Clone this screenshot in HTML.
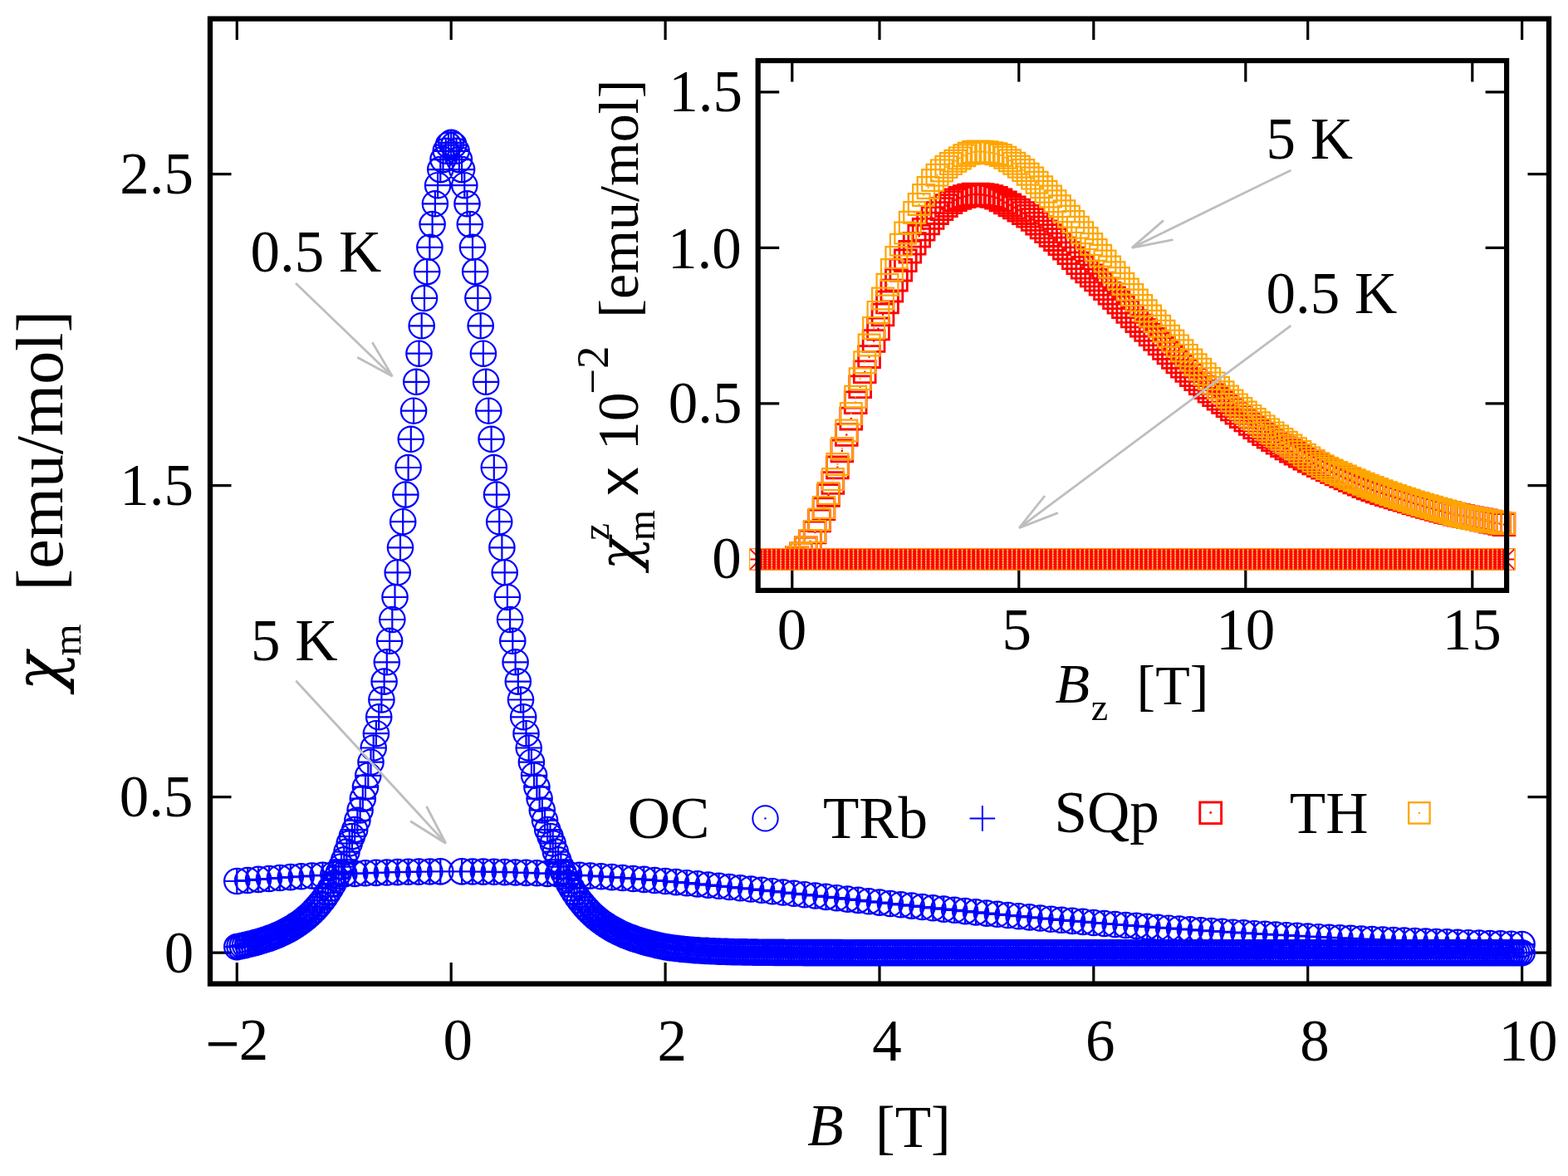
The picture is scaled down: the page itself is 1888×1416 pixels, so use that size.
<!DOCTYPE html>
<html><head><meta charset="utf-8"><title>chi_m vs B</title>
<style>html,body{margin:0;padding:0;background:#fff;overflow:hidden;}svg{display:block;}</style>
</head><body>
<svg width="1888" height="1416" viewBox="0 0 1888 1416">
<rect width="1888" height="1416" fill="#fff"/>
<path fill="none" stroke="#000" stroke-width="3.2" d="M285.3 1184.6V1159.1M285.3 22.6V48.1M543.2 1184.6V1159.1M543.2 22.6V48.1M801.1 1184.6V1159.1M801.1 22.6V48.1M1059 1184.6V1159.1M1059 22.6V48.1M1316.8 1184.6V1159.1M1316.8 22.6V48.1M1574.7 1184.6V1159.1M1574.7 22.6V48.1M1832.6 1184.6V1159.1M1832.6 22.6V48.1M253 1147.2H278.5M1865 1147.2H1839.5M253 959.7H278.5M1865 959.7H1839.5M253 584.7H278.5M1865 584.7H1839.5M253 209.7H278.5M1865 209.7H1839.5"/>
<g fill="none" stroke="#0000ff" stroke-width="2.2">
<path d="M270.1 1140.1a15.2 15.2 0 1 0 30.4 0a15.2 15.2 0 1 0 -30.4 0M273.3 1139.5a15.2 15.2 0 1 0 30.4 0a15.2 15.2 0 1 0 -30.4 0M276.6 1138.8a15.2 15.2 0 1 0 30.4 0a15.2 15.2 0 1 0 -30.4 0M279.8 1138.1a15.2 15.2 0 1 0 30.4 0a15.2 15.2 0 1 0 -30.4 0M283 1137.3a15.2 15.2 0 1 0 30.4 0a15.2 15.2 0 1 0 -30.4 0M286.2 1136.5a15.2 15.2 0 1 0 30.4 0a15.2 15.2 0 1 0 -30.4 0M289.5 1135.7a15.2 15.2 0 1 0 30.4 0a15.2 15.2 0 1 0 -30.4 0M292.7 1134.9a15.2 15.2 0 1 0 30.4 0a15.2 15.2 0 1 0 -30.4 0M295.9 1134a15.2 15.2 0 1 0 30.4 0a15.2 15.2 0 1 0 -30.4 0M299.1 1133a15.2 15.2 0 1 0 30.4 0a15.2 15.2 0 1 0 -30.4 0M302.4 1132a15.2 15.2 0 1 0 30.4 0a15.2 15.2 0 1 0 -30.4 0M305.6 1131a15.2 15.2 0 1 0 30.4 0a15.2 15.2 0 1 0 -30.4 0M308.8 1129.9a15.2 15.2 0 1 0 30.4 0a15.2 15.2 0 1 0 -30.4 0M312 1128.7a15.2 15.2 0 1 0 30.4 0a15.2 15.2 0 1 0 -30.4 0M315.2 1127.5a15.2 15.2 0 1 0 30.4 0a15.2 15.2 0 1 0 -30.4 0M318.5 1126.1a15.2 15.2 0 1 0 30.4 0a15.2 15.2 0 1 0 -30.4 0M321.7 1124.7a15.2 15.2 0 1 0 30.4 0a15.2 15.2 0 1 0 -30.4 0M324.9 1123.2a15.2 15.2 0 1 0 30.4 0a15.2 15.2 0 1 0 -30.4 0M328.1 1121.6a15.2 15.2 0 1 0 30.4 0a15.2 15.2 0 1 0 -30.4 0M331.4 1119.9a15.2 15.2 0 1 0 30.4 0a15.2 15.2 0 1 0 -30.4 0M334.6 1118.1a15.2 15.2 0 1 0 30.4 0a15.2 15.2 0 1 0 -30.4 0M337.8 1116.2a15.2 15.2 0 1 0 30.4 0a15.2 15.2 0 1 0 -30.4 0M341 1114.1a15.2 15.2 0 1 0 30.4 0a15.2 15.2 0 1 0 -30.4 0M344.3 1112a15.2 15.2 0 1 0 30.4 0a15.2 15.2 0 1 0 -30.4 0M347.5 1109.7a15.2 15.2 0 1 0 30.4 0a15.2 15.2 0 1 0 -30.4 0M350.7 1107.3a15.2 15.2 0 1 0 30.4 0a15.2 15.2 0 1 0 -30.4 0M353.9 1104.6a15.2 15.2 0 1 0 30.4 0a15.2 15.2 0 1 0 -30.4 0M357.2 1101.7a15.2 15.2 0 1 0 30.4 0a15.2 15.2 0 1 0 -30.4 0M360.4 1098.7a15.2 15.2 0 1 0 30.4 0a15.2 15.2 0 1 0 -30.4 0M363.6 1095.4a15.2 15.2 0 1 0 30.4 0a15.2 15.2 0 1 0 -30.4 0M366.8 1091.9a15.2 15.2 0 1 0 30.4 0a15.2 15.2 0 1 0 -30.4 0M370 1088.1a15.2 15.2 0 1 0 30.4 0a15.2 15.2 0 1 0 -30.4 0M373.3 1084a15.2 15.2 0 1 0 30.4 0a15.2 15.2 0 1 0 -30.4 0M376.5 1079.6a15.2 15.2 0 1 0 30.4 0a15.2 15.2 0 1 0 -30.4 0M379.7 1074.8a15.2 15.2 0 1 0 30.4 0a15.2 15.2 0 1 0 -30.4 0M382.9 1069.6a15.2 15.2 0 1 0 30.4 0a15.2 15.2 0 1 0 -30.4 0M386.2 1063.9a15.2 15.2 0 1 0 30.4 0a15.2 15.2 0 1 0 -30.4 0M389.4 1057.8a15.2 15.2 0 1 0 30.4 0a15.2 15.2 0 1 0 -30.4 0M392.6 1051a15.2 15.2 0 1 0 30.4 0a15.2 15.2 0 1 0 -30.4 0M395.8 1043.6a15.2 15.2 0 1 0 30.4 0a15.2 15.2 0 1 0 -30.4 0M399.1 1035.4a15.2 15.2 0 1 0 30.4 0a15.2 15.2 0 1 0 -30.4 0M402.3 1025.6a15.2 15.2 0 1 0 30.4 0a15.2 15.2 0 1 0 -30.4 0M405.5 1015.5a15.2 15.2 0 1 0 30.4 0a15.2 15.2 0 1 0 -30.4 0M408.7 1007.1a15.2 15.2 0 1 0 30.4 0a15.2 15.2 0 1 0 -30.4 0M412 999.1a15.2 15.2 0 1 0 30.4 0a15.2 15.2 0 1 0 -30.4 0M415.2 987.8a15.2 15.2 0 1 0 30.4 0a15.2 15.2 0 1 0 -30.4 0M418.4 975.5a15.2 15.2 0 1 0 30.4 0a15.2 15.2 0 1 0 -30.4 0M421.6 961.6a15.2 15.2 0 1 0 30.4 0a15.2 15.2 0 1 0 -30.4 0M424.8 947.7a15.2 15.2 0 1 0 30.4 0a15.2 15.2 0 1 0 -30.4 0M428.1 933.8a15.2 15.2 0 1 0 30.4 0a15.2 15.2 0 1 0 -30.4 0M431.3 917.7a15.2 15.2 0 1 0 30.4 0a15.2 15.2 0 1 0 -30.4 0M434.5 900.5a15.2 15.2 0 1 0 30.4 0a15.2 15.2 0 1 0 -30.4 0M437.7 883.2a15.2 15.2 0 1 0 30.4 0a15.2 15.2 0 1 0 -30.4 0M441 863.3a15.2 15.2 0 1 0 30.4 0a15.2 15.2 0 1 0 -30.4 0M444.2 842.5a15.2 15.2 0 1 0 30.4 0a15.2 15.2 0 1 0 -30.4 0M447.4 820.6a15.2 15.2 0 1 0 30.4 0a15.2 15.2 0 1 0 -30.4 0M450.6 797.3a15.2 15.2 0 1 0 30.4 0a15.2 15.2 0 1 0 -30.4 0M453.9 771.8a15.2 15.2 0 1 0 30.4 0a15.2 15.2 0 1 0 -30.4 0M457.1 746a15.2 15.2 0 1 0 30.4 0a15.2 15.2 0 1 0 -30.4 0M460.3 719a15.2 15.2 0 1 0 30.4 0a15.2 15.2 0 1 0 -30.4 0M463.5 689.3a15.2 15.2 0 1 0 30.4 0a15.2 15.2 0 1 0 -30.4 0M466.8 659.3a15.2 15.2 0 1 0 30.4 0a15.2 15.2 0 1 0 -30.4 0M470 628.2a15.2 15.2 0 1 0 30.4 0a15.2 15.2 0 1 0 -30.4 0M473.2 595.6a15.2 15.2 0 1 0 30.4 0a15.2 15.2 0 1 0 -30.4 0M476.4 563a15.2 15.2 0 1 0 30.4 0a15.2 15.2 0 1 0 -30.4 0M479.6 528.8a15.2 15.2 0 1 0 30.4 0a15.2 15.2 0 1 0 -30.4 0M482.9 494.7a15.2 15.2 0 1 0 30.4 0a15.2 15.2 0 1 0 -30.4 0M486.1 459.8a15.2 15.2 0 1 0 30.4 0a15.2 15.2 0 1 0 -30.4 0M489.3 425.7a15.2 15.2 0 1 0 30.4 0a15.2 15.2 0 1 0 -30.4 0M492.5 392.3a15.2 15.2 0 1 0 30.4 0a15.2 15.2 0 1 0 -30.4 0M495.8 359a15.2 15.2 0 1 0 30.4 0a15.2 15.2 0 1 0 -30.4 0M499 327.1a15.2 15.2 0 1 0 30.4 0a15.2 15.2 0 1 0 -30.4 0M502.2 297.8a15.2 15.2 0 1 0 30.4 0a15.2 15.2 0 1 0 -30.4 0M505.4 270.1a15.2 15.2 0 1 0 30.4 0a15.2 15.2 0 1 0 -30.4 0M508.7 245.3a15.2 15.2 0 1 0 30.4 0a15.2 15.2 0 1 0 -30.4 0M511.9 223.2a15.2 15.2 0 1 0 30.4 0a15.2 15.2 0 1 0 -30.4 0M515.1 204.1a15.2 15.2 0 1 0 30.4 0a15.2 15.2 0 1 0 -30.4 0M518.3 192.1a15.2 15.2 0 1 0 30.4 0a15.2 15.2 0 1 0 -30.4 0M521.6 181.8a15.2 15.2 0 1 0 30.4 0a15.2 15.2 0 1 0 -30.4 0M524.8 174.6a15.2 15.2 0 1 0 30.4 0a15.2 15.2 0 1 0 -30.4 0M528 171.8a15.2 15.2 0 1 0 30.4 0a15.2 15.2 0 1 0 -30.4 0M531.2 174.6a15.2 15.2 0 1 0 30.4 0a15.2 15.2 0 1 0 -30.4 0M534.4 181.8a15.2 15.2 0 1 0 30.4 0a15.2 15.2 0 1 0 -30.4 0M537.7 192.1a15.2 15.2 0 1 0 30.4 0a15.2 15.2 0 1 0 -30.4 0M540.9 204.1a15.2 15.2 0 1 0 30.4 0a15.2 15.2 0 1 0 -30.4 0M544.1 223.2a15.2 15.2 0 1 0 30.4 0a15.2 15.2 0 1 0 -30.4 0M547.3 245.3a15.2 15.2 0 1 0 30.4 0a15.2 15.2 0 1 0 -30.4 0M550.6 270.1a15.2 15.2 0 1 0 30.4 0a15.2 15.2 0 1 0 -30.4 0M553.8 297.8a15.2 15.2 0 1 0 30.4 0a15.2 15.2 0 1 0 -30.4 0M557 327.1a15.2 15.2 0 1 0 30.4 0a15.2 15.2 0 1 0 -30.4 0M560.2 359a15.2 15.2 0 1 0 30.4 0a15.2 15.2 0 1 0 -30.4 0M563.5 392.3a15.2 15.2 0 1 0 30.4 0a15.2 15.2 0 1 0 -30.4 0M566.7 425.7a15.2 15.2 0 1 0 30.4 0a15.2 15.2 0 1 0 -30.4 0M569.9 459.8a15.2 15.2 0 1 0 30.4 0a15.2 15.2 0 1 0 -30.4 0M573.1 494.7a15.2 15.2 0 1 0 30.4 0a15.2 15.2 0 1 0 -30.4 0M576.4 528.8a15.2 15.2 0 1 0 30.4 0a15.2 15.2 0 1 0 -30.4 0M579.6 563a15.2 15.2 0 1 0 30.4 0a15.2 15.2 0 1 0 -30.4 0M582.8 595.6a15.2 15.2 0 1 0 30.4 0a15.2 15.2 0 1 0 -30.4 0M586 628.2a15.2 15.2 0 1 0 30.4 0a15.2 15.2 0 1 0 -30.4 0M589.2 659.3a15.2 15.2 0 1 0 30.4 0a15.2 15.2 0 1 0 -30.4 0M592.5 689.3a15.2 15.2 0 1 0 30.4 0a15.2 15.2 0 1 0 -30.4 0M595.7 719a15.2 15.2 0 1 0 30.4 0a15.2 15.2 0 1 0 -30.4 0M598.9 746a15.2 15.2 0 1 0 30.4 0a15.2 15.2 0 1 0 -30.4 0M602.1 771.8a15.2 15.2 0 1 0 30.4 0a15.2 15.2 0 1 0 -30.4 0M605.4 797.3a15.2 15.2 0 1 0 30.4 0a15.2 15.2 0 1 0 -30.4 0M608.6 820.6a15.2 15.2 0 1 0 30.4 0a15.2 15.2 0 1 0 -30.4 0M611.8 842.5a15.2 15.2 0 1 0 30.4 0a15.2 15.2 0 1 0 -30.4 0M615 863.3a15.2 15.2 0 1 0 30.4 0a15.2 15.2 0 1 0 -30.4 0M618.3 883.2a15.2 15.2 0 1 0 30.4 0a15.2 15.2 0 1 0 -30.4 0M621.5 900.5a15.2 15.2 0 1 0 30.4 0a15.2 15.2 0 1 0 -30.4 0M624.7 917.7a15.2 15.2 0 1 0 30.4 0a15.2 15.2 0 1 0 -30.4 0M627.9 933.8a15.2 15.2 0 1 0 30.4 0a15.2 15.2 0 1 0 -30.4 0M631.2 947.7a15.2 15.2 0 1 0 30.4 0a15.2 15.2 0 1 0 -30.4 0M634.4 961.6a15.2 15.2 0 1 0 30.4 0a15.2 15.2 0 1 0 -30.4 0M637.6 975.5a15.2 15.2 0 1 0 30.4 0a15.2 15.2 0 1 0 -30.4 0M640.8 987.8a15.2 15.2 0 1 0 30.4 0a15.2 15.2 0 1 0 -30.4 0M644 999.1a15.2 15.2 0 1 0 30.4 0a15.2 15.2 0 1 0 -30.4 0M647.3 1007.1a15.2 15.2 0 1 0 30.4 0a15.2 15.2 0 1 0 -30.4 0M650.5 1015.5a15.2 15.2 0 1 0 30.4 0a15.2 15.2 0 1 0 -30.4 0M653.7 1025.6a15.2 15.2 0 1 0 30.4 0a15.2 15.2 0 1 0 -30.4 0M656.9 1035.4a15.2 15.2 0 1 0 30.4 0a15.2 15.2 0 1 0 -30.4 0M660.2 1043.6a15.2 15.2 0 1 0 30.4 0a15.2 15.2 0 1 0 -30.4 0M663.4 1051a15.2 15.2 0 1 0 30.4 0a15.2 15.2 0 1 0 -30.4 0M666.6 1057.8a15.2 15.2 0 1 0 30.4 0a15.2 15.2 0 1 0 -30.4 0M669.8 1063.9a15.2 15.2 0 1 0 30.4 0a15.2 15.2 0 1 0 -30.4 0M673.1 1069.6a15.2 15.2 0 1 0 30.4 0a15.2 15.2 0 1 0 -30.4 0M676.3 1074.8a15.2 15.2 0 1 0 30.4 0a15.2 15.2 0 1 0 -30.4 0M679.5 1079.6a15.2 15.2 0 1 0 30.4 0a15.2 15.2 0 1 0 -30.4 0M682.7 1084a15.2 15.2 0 1 0 30.4 0a15.2 15.2 0 1 0 -30.4 0M686 1088.1a15.2 15.2 0 1 0 30.4 0a15.2 15.2 0 1 0 -30.4 0M689.2 1091.9a15.2 15.2 0 1 0 30.4 0a15.2 15.2 0 1 0 -30.4 0M692.4 1095.4a15.2 15.2 0 1 0 30.4 0a15.2 15.2 0 1 0 -30.4 0M695.6 1098.7a15.2 15.2 0 1 0 30.4 0a15.2 15.2 0 1 0 -30.4 0M698.8 1101.7a15.2 15.2 0 1 0 30.4 0a15.2 15.2 0 1 0 -30.4 0M702.1 1104.6a15.2 15.2 0 1 0 30.4 0a15.2 15.2 0 1 0 -30.4 0M705.3 1107.3a15.2 15.2 0 1 0 30.4 0a15.2 15.2 0 1 0 -30.4 0M708.5 1109.7a15.2 15.2 0 1 0 30.4 0a15.2 15.2 0 1 0 -30.4 0M711.7 1112a15.2 15.2 0 1 0 30.4 0a15.2 15.2 0 1 0 -30.4 0M715 1114.1a15.2 15.2 0 1 0 30.4 0a15.2 15.2 0 1 0 -30.4 0M718.2 1116.2a15.2 15.2 0 1 0 30.4 0a15.2 15.2 0 1 0 -30.4 0M721.4 1118.1a15.2 15.2 0 1 0 30.4 0a15.2 15.2 0 1 0 -30.4 0M724.6 1119.9a15.2 15.2 0 1 0 30.4 0a15.2 15.2 0 1 0 -30.4 0M727.9 1121.6a15.2 15.2 0 1 0 30.4 0a15.2 15.2 0 1 0 -30.4 0M731.1 1123.2a15.2 15.2 0 1 0 30.4 0a15.2 15.2 0 1 0 -30.4 0M734.3 1124.7a15.2 15.2 0 1 0 30.4 0a15.2 15.2 0 1 0 -30.4 0M737.5 1126.1a15.2 15.2 0 1 0 30.4 0a15.2 15.2 0 1 0 -30.4 0M740.8 1127.5a15.2 15.2 0 1 0 30.4 0a15.2 15.2 0 1 0 -30.4 0M744 1128.7a15.2 15.2 0 1 0 30.4 0a15.2 15.2 0 1 0 -30.4 0M747.2 1129.9a15.2 15.2 0 1 0 30.4 0a15.2 15.2 0 1 0 -30.4 0M750.4 1131a15.2 15.2 0 1 0 30.4 0a15.2 15.2 0 1 0 -30.4 0M753.6 1132a15.2 15.2 0 1 0 30.4 0a15.2 15.2 0 1 0 -30.4 0M756.9 1133a15.2 15.2 0 1 0 30.4 0a15.2 15.2 0 1 0 -30.4 0M760.1 1134a15.2 15.2 0 1 0 30.4 0a15.2 15.2 0 1 0 -30.4 0M763.3 1134.9a15.2 15.2 0 1 0 30.4 0a15.2 15.2 0 1 0 -30.4 0M766.5 1135.7a15.2 15.2 0 1 0 30.4 0a15.2 15.2 0 1 0 -30.4 0M769.8 1136.5a15.2 15.2 0 1 0 30.4 0a15.2 15.2 0 1 0 -30.4 0M773 1137.3a15.2 15.2 0 1 0 30.4 0a15.2 15.2 0 1 0 -30.4 0M776.2 1138.1a15.2 15.2 0 1 0 30.4 0a15.2 15.2 0 1 0 -30.4 0M779.4 1138.8a15.2 15.2 0 1 0 30.4 0a15.2 15.2 0 1 0 -30.4 0M782.7 1139.5a15.2 15.2 0 1 0 30.4 0a15.2 15.2 0 1 0 -30.4 0M785.9 1140.1a15.2 15.2 0 1 0 30.4 0a15.2 15.2 0 1 0 -30.4 0M789.1 1140.6a15.2 15.2 0 1 0 30.4 0a15.2 15.2 0 1 0 -30.4 0M792.3 1141.1a15.2 15.2 0 1 0 30.4 0a15.2 15.2 0 1 0 -30.4 0M795.6 1141.5a15.2 15.2 0 1 0 30.4 0a15.2 15.2 0 1 0 -30.4 0M798.8 1141.9a15.2 15.2 0 1 0 30.4 0a15.2 15.2 0 1 0 -30.4 0M802 1142.3a15.2 15.2 0 1 0 30.4 0a15.2 15.2 0 1 0 -30.4 0M805.2 1142.6a15.2 15.2 0 1 0 30.4 0a15.2 15.2 0 1 0 -30.4 0M808.4 1143a15.2 15.2 0 1 0 30.4 0a15.2 15.2 0 1 0 -30.4 0M811.7 1143.3a15.2 15.2 0 1 0 30.4 0a15.2 15.2 0 1 0 -30.4 0M814.9 1143.5a15.2 15.2 0 1 0 30.4 0a15.2 15.2 0 1 0 -30.4 0M818.1 1143.8a15.2 15.2 0 1 0 30.4 0a15.2 15.2 0 1 0 -30.4 0M821.3 1144.1a15.2 15.2 0 1 0 30.4 0a15.2 15.2 0 1 0 -30.4 0M824.6 1144.3a15.2 15.2 0 1 0 30.4 0a15.2 15.2 0 1 0 -30.4 0M827.8 1144.5a15.2 15.2 0 1 0 30.4 0a15.2 15.2 0 1 0 -30.4 0M831 1144.7a15.2 15.2 0 1 0 30.4 0a15.2 15.2 0 1 0 -30.4 0M834.2 1144.9a15.2 15.2 0 1 0 30.4 0a15.2 15.2 0 1 0 -30.4 0M837.5 1145a15.2 15.2 0 1 0 30.4 0a15.2 15.2 0 1 0 -30.4 0M840.7 1145.2a15.2 15.2 0 1 0 30.4 0a15.2 15.2 0 1 0 -30.4 0M843.9 1145.3a15.2 15.2 0 1 0 30.4 0a15.2 15.2 0 1 0 -30.4 0M847.1 1145.5a15.2 15.2 0 1 0 30.4 0a15.2 15.2 0 1 0 -30.4 0M850.4 1145.6a15.2 15.2 0 1 0 30.4 0a15.2 15.2 0 1 0 -30.4 0M853.6 1145.7a15.2 15.2 0 1 0 30.4 0a15.2 15.2 0 1 0 -30.4 0M856.8 1145.8a15.2 15.2 0 1 0 30.4 0a15.2 15.2 0 1 0 -30.4 0M860 1145.9a15.2 15.2 0 1 0 30.4 0a15.2 15.2 0 1 0 -30.4 0M863.2 1146a15.2 15.2 0 1 0 30.4 0a15.2 15.2 0 1 0 -30.4 0M866.5 1146.1a15.2 15.2 0 1 0 30.4 0a15.2 15.2 0 1 0 -30.4 0M869.7 1146.2a15.2 15.2 0 1 0 30.4 0a15.2 15.2 0 1 0 -30.4 0M872.9 1146.3a15.2 15.2 0 1 0 30.4 0a15.2 15.2 0 1 0 -30.4 0M876.1 1146.3a15.2 15.2 0 1 0 30.4 0a15.2 15.2 0 1 0 -30.4 0M879.4 1146.4a15.2 15.2 0 1 0 30.4 0a15.2 15.2 0 1 0 -30.4 0M882.6 1146.4a15.2 15.2 0 1 0 30.4 0a15.2 15.2 0 1 0 -30.4 0M885.8 1146.5a15.2 15.2 0 1 0 30.4 0a15.2 15.2 0 1 0 -30.4 0M889 1146.5a15.2 15.2 0 1 0 30.4 0a15.2 15.2 0 1 0 -30.4 0M892.3 1146.6a15.2 15.2 0 1 0 30.4 0a15.2 15.2 0 1 0 -30.4 0M895.5 1146.6a15.2 15.2 0 1 0 30.4 0a15.2 15.2 0 1 0 -30.4 0M898.7 1146.7a15.2 15.2 0 1 0 30.4 0a15.2 15.2 0 1 0 -30.4 0M901.9 1146.7a15.2 15.2 0 1 0 30.4 0a15.2 15.2 0 1 0 -30.4 0M905.1 1146.8a15.2 15.2 0 1 0 30.4 0a15.2 15.2 0 1 0 -30.4 0M908.4 1146.8a15.2 15.2 0 1 0 30.4 0a15.2 15.2 0 1 0 -30.4 0M911.6 1146.8a15.2 15.2 0 1 0 30.4 0a15.2 15.2 0 1 0 -30.4 0M914.8 1146.8a15.2 15.2 0 1 0 30.4 0a15.2 15.2 0 1 0 -30.4 0M918 1146.9a15.2 15.2 0 1 0 30.4 0a15.2 15.2 0 1 0 -30.4 0M921.3 1146.9a15.2 15.2 0 1 0 30.4 0a15.2 15.2 0 1 0 -30.4 0M924.5 1146.9a15.2 15.2 0 1 0 30.4 0a15.2 15.2 0 1 0 -30.4 0M927.7 1146.9a15.2 15.2 0 1 0 30.4 0a15.2 15.2 0 1 0 -30.4 0M930.9 1147a15.2 15.2 0 1 0 30.4 0a15.2 15.2 0 1 0 -30.4 0M934.2 1147a15.2 15.2 0 1 0 30.4 0a15.2 15.2 0 1 0 -30.4 0M937.4 1147a15.2 15.2 0 1 0 30.4 0a15.2 15.2 0 1 0 -30.4 0M940.6 1147a15.2 15.2 0 1 0 30.4 0a15.2 15.2 0 1 0 -30.4 0M943.8 1147a15.2 15.2 0 1 0 30.4 0a15.2 15.2 0 1 0 -30.4 0M947.1 1147a15.2 15.2 0 1 0 30.4 0a15.2 15.2 0 1 0 -30.4 0M950.3 1147a15.2 15.2 0 1 0 30.4 0a15.2 15.2 0 1 0 -30.4 0M953.5 1147.1a15.2 15.2 0 1 0 30.4 0a15.2 15.2 0 1 0 -30.4 0M956.7 1147.1a15.2 15.2 0 1 0 30.4 0a15.2 15.2 0 1 0 -30.4 0M959.9 1147.1a15.2 15.2 0 1 0 30.4 0a15.2 15.2 0 1 0 -30.4 0M963.2 1147.1a15.2 15.2 0 1 0 30.4 0a15.2 15.2 0 1 0 -30.4 0M966.4 1147.1a15.2 15.2 0 1 0 30.4 0a15.2 15.2 0 1 0 -30.4 0M969.6 1147.1a15.2 15.2 0 1 0 30.4 0a15.2 15.2 0 1 0 -30.4 0M972.8 1147.1a15.2 15.2 0 1 0 30.4 0a15.2 15.2 0 1 0 -30.4 0M976.1 1147.1a15.2 15.2 0 1 0 30.4 0a15.2 15.2 0 1 0 -30.4 0M979.3 1147.1a15.2 15.2 0 1 0 30.4 0a15.2 15.2 0 1 0 -30.4 0M982.5 1147.1a15.2 15.2 0 1 0 30.4 0a15.2 15.2 0 1 0 -30.4 0M985.7 1147.1a15.2 15.2 0 1 0 30.4 0a15.2 15.2 0 1 0 -30.4 0M989 1147.1a15.2 15.2 0 1 0 30.4 0a15.2 15.2 0 1 0 -30.4 0M992.2 1147.1a15.2 15.2 0 1 0 30.4 0a15.2 15.2 0 1 0 -30.4 0M995.4 1147.1a15.2 15.2 0 1 0 30.4 0a15.2 15.2 0 1 0 -30.4 0M998.6 1147.1a15.2 15.2 0 1 0 30.4 0a15.2 15.2 0 1 0 -30.4 0M1001.9 1147.2a15.2 15.2 0 1 0 30.4 0a15.2 15.2 0 1 0 -30.4 0M1005.1 1147.2a15.2 15.2 0 1 0 30.4 0a15.2 15.2 0 1 0 -30.4 0M1008.3 1147.2a15.2 15.2 0 1 0 30.4 0a15.2 15.2 0 1 0 -30.4 0M1011.5 1147.2a15.2 15.2 0 1 0 30.4 0a15.2 15.2 0 1 0 -30.4 0M1014.7 1147.2a15.2 15.2 0 1 0 30.4 0a15.2 15.2 0 1 0 -30.4 0M1018 1147.2a15.2 15.2 0 1 0 30.4 0a15.2 15.2 0 1 0 -30.4 0M1021.2 1147.2a15.2 15.2 0 1 0 30.4 0a15.2 15.2 0 1 0 -30.4 0M1024.4 1147.2a15.2 15.2 0 1 0 30.4 0a15.2 15.2 0 1 0 -30.4 0M1027.6 1147.2a15.2 15.2 0 1 0 30.4 0a15.2 15.2 0 1 0 -30.4 0M1030.9 1147.2a15.2 15.2 0 1 0 30.4 0a15.2 15.2 0 1 0 -30.4 0M1034.1 1147.2a15.2 15.2 0 1 0 30.4 0a15.2 15.2 0 1 0 -30.4 0M1037.3 1147.2a15.2 15.2 0 1 0 30.4 0a15.2 15.2 0 1 0 -30.4 0M1040.5 1147.2a15.2 15.2 0 1 0 30.4 0a15.2 15.2 0 1 0 -30.4 0M1043.8 1147.2a15.2 15.2 0 1 0 30.4 0a15.2 15.2 0 1 0 -30.4 0M1047 1147.2a15.2 15.2 0 1 0 30.4 0a15.2 15.2 0 1 0 -30.4 0M1050.2 1147.2a15.2 15.2 0 1 0 30.4 0a15.2 15.2 0 1 0 -30.4 0M1053.4 1147.2a15.2 15.2 0 1 0 30.4 0a15.2 15.2 0 1 0 -30.4 0M1056.7 1147.2a15.2 15.2 0 1 0 30.4 0a15.2 15.2 0 1 0 -30.4 0M1059.9 1147.2a15.2 15.2 0 1 0 30.4 0a15.2 15.2 0 1 0 -30.4 0M1063.1 1147.2a15.2 15.2 0 1 0 30.4 0a15.2 15.2 0 1 0 -30.4 0M1066.3 1147.2a15.2 15.2 0 1 0 30.4 0a15.2 15.2 0 1 0 -30.4 0M1069.5 1147.2a15.2 15.2 0 1 0 30.4 0a15.2 15.2 0 1 0 -30.4 0M1072.8 1147.2a15.2 15.2 0 1 0 30.4 0a15.2 15.2 0 1 0 -30.4 0M1076 1147.2a15.2 15.2 0 1 0 30.4 0a15.2 15.2 0 1 0 -30.4 0M1079.2 1147.2a15.2 15.2 0 1 0 30.4 0a15.2 15.2 0 1 0 -30.4 0M1082.4 1147.2a15.2 15.2 0 1 0 30.4 0a15.2 15.2 0 1 0 -30.4 0M1085.7 1147.2a15.2 15.2 0 1 0 30.4 0a15.2 15.2 0 1 0 -30.4 0M1088.9 1147.2a15.2 15.2 0 1 0 30.4 0a15.2 15.2 0 1 0 -30.4 0M1092.1 1147.2a15.2 15.2 0 1 0 30.4 0a15.2 15.2 0 1 0 -30.4 0M1095.3 1147.2a15.2 15.2 0 1 0 30.4 0a15.2 15.2 0 1 0 -30.4 0M1098.6 1147.2a15.2 15.2 0 1 0 30.4 0a15.2 15.2 0 1 0 -30.4 0M1101.8 1147.2a15.2 15.2 0 1 0 30.4 0a15.2 15.2 0 1 0 -30.4 0M1105 1147.2a15.2 15.2 0 1 0 30.4 0a15.2 15.2 0 1 0 -30.4 0M1108.2 1147.2a15.2 15.2 0 1 0 30.4 0a15.2 15.2 0 1 0 -30.4 0M1111.5 1147.2a15.2 15.2 0 1 0 30.4 0a15.2 15.2 0 1 0 -30.4 0M1114.7 1147.2a15.2 15.2 0 1 0 30.4 0a15.2 15.2 0 1 0 -30.4 0M1117.9 1147.2a15.2 15.2 0 1 0 30.4 0a15.2 15.2 0 1 0 -30.4 0M1121.1 1147.2a15.2 15.2 0 1 0 30.4 0a15.2 15.2 0 1 0 -30.4 0M1124.3 1147.2a15.2 15.2 0 1 0 30.4 0a15.2 15.2 0 1 0 -30.4 0M1127.6 1147.2a15.2 15.2 0 1 0 30.4 0a15.2 15.2 0 1 0 -30.4 0M1130.8 1147.2a15.2 15.2 0 1 0 30.4 0a15.2 15.2 0 1 0 -30.4 0M1134 1147.2a15.2 15.2 0 1 0 30.4 0a15.2 15.2 0 1 0 -30.4 0M1137.2 1147.2a15.2 15.2 0 1 0 30.4 0a15.2 15.2 0 1 0 -30.4 0M1140.5 1147.2a15.2 15.2 0 1 0 30.4 0a15.2 15.2 0 1 0 -30.4 0M1143.7 1147.2a15.2 15.2 0 1 0 30.4 0a15.2 15.2 0 1 0 -30.4 0M1146.9 1147.2a15.2 15.2 0 1 0 30.4 0a15.2 15.2 0 1 0 -30.4 0M1150.1 1147.2a15.2 15.2 0 1 0 30.4 0a15.2 15.2 0 1 0 -30.4 0M1153.4 1147.2a15.2 15.2 0 1 0 30.4 0a15.2 15.2 0 1 0 -30.4 0M1156.6 1147.2a15.2 15.2 0 1 0 30.4 0a15.2 15.2 0 1 0 -30.4 0M1159.8 1147.2a15.2 15.2 0 1 0 30.4 0a15.2 15.2 0 1 0 -30.4 0M1163 1147.2a15.2 15.2 0 1 0 30.4 0a15.2 15.2 0 1 0 -30.4 0M1166.3 1147.2a15.2 15.2 0 1 0 30.4 0a15.2 15.2 0 1 0 -30.4 0M1169.5 1147.2a15.2 15.2 0 1 0 30.4 0a15.2 15.2 0 1 0 -30.4 0M1172.7 1147.2a15.2 15.2 0 1 0 30.4 0a15.2 15.2 0 1 0 -30.4 0M1175.9 1147.2a15.2 15.2 0 1 0 30.4 0a15.2 15.2 0 1 0 -30.4 0M1179.1 1147.2a15.2 15.2 0 1 0 30.4 0a15.2 15.2 0 1 0 -30.4 0M1182.4 1147.2a15.2 15.2 0 1 0 30.4 0a15.2 15.2 0 1 0 -30.4 0M1185.6 1147.2a15.2 15.2 0 1 0 30.4 0a15.2 15.2 0 1 0 -30.4 0M1188.8 1147.2a15.2 15.2 0 1 0 30.4 0a15.2 15.2 0 1 0 -30.4 0M1192 1147.2a15.2 15.2 0 1 0 30.4 0a15.2 15.2 0 1 0 -30.4 0M1195.3 1147.2a15.2 15.2 0 1 0 30.4 0a15.2 15.2 0 1 0 -30.4 0M1198.5 1147.2a15.2 15.2 0 1 0 30.4 0a15.2 15.2 0 1 0 -30.4 0M1201.7 1147.2a15.2 15.2 0 1 0 30.4 0a15.2 15.2 0 1 0 -30.4 0M1204.9 1147.2a15.2 15.2 0 1 0 30.4 0a15.2 15.2 0 1 0 -30.4 0M1208.2 1147.2a15.2 15.2 0 1 0 30.4 0a15.2 15.2 0 1 0 -30.4 0M1211.4 1147.2a15.2 15.2 0 1 0 30.4 0a15.2 15.2 0 1 0 -30.4 0M1214.6 1147.2a15.2 15.2 0 1 0 30.4 0a15.2 15.2 0 1 0 -30.4 0M1217.8 1147.2a15.2 15.2 0 1 0 30.4 0a15.2 15.2 0 1 0 -30.4 0M1221.1 1147.2a15.2 15.2 0 1 0 30.4 0a15.2 15.2 0 1 0 -30.4 0M1224.3 1147.2a15.2 15.2 0 1 0 30.4 0a15.2 15.2 0 1 0 -30.4 0M1227.5 1147.2a15.2 15.2 0 1 0 30.4 0a15.2 15.2 0 1 0 -30.4 0M1230.7 1147.2a15.2 15.2 0 1 0 30.4 0a15.2 15.2 0 1 0 -30.4 0M1233.9 1147.2a15.2 15.2 0 1 0 30.4 0a15.2 15.2 0 1 0 -30.4 0M1237.2 1147.2a15.2 15.2 0 1 0 30.4 0a15.2 15.2 0 1 0 -30.4 0M1240.4 1147.2a15.2 15.2 0 1 0 30.4 0a15.2 15.2 0 1 0 -30.4 0M1243.6 1147.2a15.2 15.2 0 1 0 30.4 0a15.2 15.2 0 1 0 -30.4 0M1246.8 1147.2a15.2 15.2 0 1 0 30.4 0a15.2 15.2 0 1 0 -30.4 0M1250.1 1147.2a15.2 15.2 0 1 0 30.4 0a15.2 15.2 0 1 0 -30.4 0M1253.3 1147.2a15.2 15.2 0 1 0 30.4 0a15.2 15.2 0 1 0 -30.4 0M1256.5 1147.2a15.2 15.2 0 1 0 30.4 0a15.2 15.2 0 1 0 -30.4 0M1259.7 1147.2a15.2 15.2 0 1 0 30.4 0a15.2 15.2 0 1 0 -30.4 0M1263 1147.2a15.2 15.2 0 1 0 30.4 0a15.2 15.2 0 1 0 -30.4 0M1266.2 1147.2a15.2 15.2 0 1 0 30.4 0a15.2 15.2 0 1 0 -30.4 0M1269.4 1147.2a15.2 15.2 0 1 0 30.4 0a15.2 15.2 0 1 0 -30.4 0M1272.6 1147.2a15.2 15.2 0 1 0 30.4 0a15.2 15.2 0 1 0 -30.4 0M1275.9 1147.2a15.2 15.2 0 1 0 30.4 0a15.2 15.2 0 1 0 -30.4 0M1279.1 1147.2a15.2 15.2 0 1 0 30.4 0a15.2 15.2 0 1 0 -30.4 0M1282.3 1147.2a15.2 15.2 0 1 0 30.4 0a15.2 15.2 0 1 0 -30.4 0M1285.5 1147.2a15.2 15.2 0 1 0 30.4 0a15.2 15.2 0 1 0 -30.4 0M1288.7 1147.2a15.2 15.2 0 1 0 30.4 0a15.2 15.2 0 1 0 -30.4 0M1292 1147.2a15.2 15.2 0 1 0 30.4 0a15.2 15.2 0 1 0 -30.4 0M1295.2 1147.2a15.2 15.2 0 1 0 30.4 0a15.2 15.2 0 1 0 -30.4 0M1298.4 1147.2a15.2 15.2 0 1 0 30.4 0a15.2 15.2 0 1 0 -30.4 0M1301.6 1147.2a15.2 15.2 0 1 0 30.4 0a15.2 15.2 0 1 0 -30.4 0M1304.9 1147.2a15.2 15.2 0 1 0 30.4 0a15.2 15.2 0 1 0 -30.4 0M1308.1 1147.2a15.2 15.2 0 1 0 30.4 0a15.2 15.2 0 1 0 -30.4 0M1311.3 1147.2a15.2 15.2 0 1 0 30.4 0a15.2 15.2 0 1 0 -30.4 0M1314.5 1147.2a15.2 15.2 0 1 0 30.4 0a15.2 15.2 0 1 0 -30.4 0M1317.8 1147.2a15.2 15.2 0 1 0 30.4 0a15.2 15.2 0 1 0 -30.4 0M1321 1147.2a15.2 15.2 0 1 0 30.4 0a15.2 15.2 0 1 0 -30.4 0M1324.2 1147.2a15.2 15.2 0 1 0 30.4 0a15.2 15.2 0 1 0 -30.4 0M1327.4 1147.2a15.2 15.2 0 1 0 30.4 0a15.2 15.2 0 1 0 -30.4 0M1330.7 1147.2a15.2 15.2 0 1 0 30.4 0a15.2 15.2 0 1 0 -30.4 0M1333.9 1147.2a15.2 15.2 0 1 0 30.4 0a15.2 15.2 0 1 0 -30.4 0M1337.1 1147.2a15.2 15.2 0 1 0 30.4 0a15.2 15.2 0 1 0 -30.4 0M1340.3 1147.2a15.2 15.2 0 1 0 30.4 0a15.2 15.2 0 1 0 -30.4 0M1343.5 1147.2a15.2 15.2 0 1 0 30.4 0a15.2 15.2 0 1 0 -30.4 0M1346.8 1147.2a15.2 15.2 0 1 0 30.4 0a15.2 15.2 0 1 0 -30.4 0M1350 1147.2a15.2 15.2 0 1 0 30.4 0a15.2 15.2 0 1 0 -30.4 0M1353.2 1147.2a15.2 15.2 0 1 0 30.4 0a15.2 15.2 0 1 0 -30.4 0M1356.4 1147.2a15.2 15.2 0 1 0 30.4 0a15.2 15.2 0 1 0 -30.4 0M1359.7 1147.2a15.2 15.2 0 1 0 30.4 0a15.2 15.2 0 1 0 -30.4 0M1362.9 1147.2a15.2 15.2 0 1 0 30.4 0a15.2 15.2 0 1 0 -30.4 0M1366.1 1147.2a15.2 15.2 0 1 0 30.4 0a15.2 15.2 0 1 0 -30.4 0M1369.3 1147.2a15.2 15.2 0 1 0 30.4 0a15.2 15.2 0 1 0 -30.4 0M1372.6 1147.2a15.2 15.2 0 1 0 30.4 0a15.2 15.2 0 1 0 -30.4 0M1375.8 1147.2a15.2 15.2 0 1 0 30.4 0a15.2 15.2 0 1 0 -30.4 0M1379 1147.2a15.2 15.2 0 1 0 30.4 0a15.2 15.2 0 1 0 -30.4 0M1382.2 1147.2a15.2 15.2 0 1 0 30.4 0a15.2 15.2 0 1 0 -30.4 0M1385.5 1147.2a15.2 15.2 0 1 0 30.4 0a15.2 15.2 0 1 0 -30.4 0M1388.7 1147.2a15.2 15.2 0 1 0 30.4 0a15.2 15.2 0 1 0 -30.4 0M1391.9 1147.2a15.2 15.2 0 1 0 30.4 0a15.2 15.2 0 1 0 -30.4 0M1395.1 1147.2a15.2 15.2 0 1 0 30.4 0a15.2 15.2 0 1 0 -30.4 0M1398.3 1147.2a15.2 15.2 0 1 0 30.4 0a15.2 15.2 0 1 0 -30.4 0M1401.6 1147.2a15.2 15.2 0 1 0 30.4 0a15.2 15.2 0 1 0 -30.4 0M1404.8 1147.2a15.2 15.2 0 1 0 30.4 0a15.2 15.2 0 1 0 -30.4 0M1408 1147.2a15.2 15.2 0 1 0 30.4 0a15.2 15.2 0 1 0 -30.4 0M1411.2 1147.2a15.2 15.2 0 1 0 30.4 0a15.2 15.2 0 1 0 -30.4 0M1414.5 1147.2a15.2 15.2 0 1 0 30.4 0a15.2 15.2 0 1 0 -30.4 0M1417.7 1147.2a15.2 15.2 0 1 0 30.4 0a15.2 15.2 0 1 0 -30.4 0M1420.9 1147.2a15.2 15.2 0 1 0 30.4 0a15.2 15.2 0 1 0 -30.4 0M1424.1 1147.2a15.2 15.2 0 1 0 30.4 0a15.2 15.2 0 1 0 -30.4 0M1427.4 1147.2a15.2 15.2 0 1 0 30.4 0a15.2 15.2 0 1 0 -30.4 0M1430.6 1147.2a15.2 15.2 0 1 0 30.4 0a15.2 15.2 0 1 0 -30.4 0M1433.8 1147.2a15.2 15.2 0 1 0 30.4 0a15.2 15.2 0 1 0 -30.4 0M1437 1147.2a15.2 15.2 0 1 0 30.4 0a15.2 15.2 0 1 0 -30.4 0M1440.3 1147.2a15.2 15.2 0 1 0 30.4 0a15.2 15.2 0 1 0 -30.4 0M1443.5 1147.2a15.2 15.2 0 1 0 30.4 0a15.2 15.2 0 1 0 -30.4 0M1446.7 1147.2a15.2 15.2 0 1 0 30.4 0a15.2 15.2 0 1 0 -30.4 0M1449.9 1147.2a15.2 15.2 0 1 0 30.4 0a15.2 15.2 0 1 0 -30.4 0M1453.1 1147.2a15.2 15.2 0 1 0 30.4 0a15.2 15.2 0 1 0 -30.4 0M1456.4 1147.2a15.2 15.2 0 1 0 30.4 0a15.2 15.2 0 1 0 -30.4 0M1459.6 1147.2a15.2 15.2 0 1 0 30.4 0a15.2 15.2 0 1 0 -30.4 0M1462.8 1147.2a15.2 15.2 0 1 0 30.4 0a15.2 15.2 0 1 0 -30.4 0M1466 1147.2a15.2 15.2 0 1 0 30.4 0a15.2 15.2 0 1 0 -30.4 0M1469.3 1147.2a15.2 15.2 0 1 0 30.4 0a15.2 15.2 0 1 0 -30.4 0M1472.5 1147.2a15.2 15.2 0 1 0 30.4 0a15.2 15.2 0 1 0 -30.4 0M1475.7 1147.2a15.2 15.2 0 1 0 30.4 0a15.2 15.2 0 1 0 -30.4 0M1478.9 1147.2a15.2 15.2 0 1 0 30.4 0a15.2 15.2 0 1 0 -30.4 0M1482.2 1147.2a15.2 15.2 0 1 0 30.4 0a15.2 15.2 0 1 0 -30.4 0M1485.4 1147.2a15.2 15.2 0 1 0 30.4 0a15.2 15.2 0 1 0 -30.4 0M1488.6 1147.2a15.2 15.2 0 1 0 30.4 0a15.2 15.2 0 1 0 -30.4 0M1491.8 1147.2a15.2 15.2 0 1 0 30.4 0a15.2 15.2 0 1 0 -30.4 0M1495 1147.2a15.2 15.2 0 1 0 30.4 0a15.2 15.2 0 1 0 -30.4 0M1498.3 1147.2a15.2 15.2 0 1 0 30.4 0a15.2 15.2 0 1 0 -30.4 0M1501.5 1147.2a15.2 15.2 0 1 0 30.4 0a15.2 15.2 0 1 0 -30.4 0M1504.7 1147.2a15.2 15.2 0 1 0 30.4 0a15.2 15.2 0 1 0 -30.4 0M1507.9 1147.2a15.2 15.2 0 1 0 30.4 0a15.2 15.2 0 1 0 -30.4 0M1511.2 1147.2a15.2 15.2 0 1 0 30.4 0a15.2 15.2 0 1 0 -30.4 0M1514.4 1147.2a15.2 15.2 0 1 0 30.4 0a15.2 15.2 0 1 0 -30.4 0M1517.6 1147.2a15.2 15.2 0 1 0 30.4 0a15.2 15.2 0 1 0 -30.4 0M1520.8 1147.2a15.2 15.2 0 1 0 30.4 0a15.2 15.2 0 1 0 -30.4 0M1524.1 1147.2a15.2 15.2 0 1 0 30.4 0a15.2 15.2 0 1 0 -30.4 0M1527.3 1147.2a15.2 15.2 0 1 0 30.4 0a15.2 15.2 0 1 0 -30.4 0M1530.5 1147.2a15.2 15.2 0 1 0 30.4 0a15.2 15.2 0 1 0 -30.4 0M1533.7 1147.2a15.2 15.2 0 1 0 30.4 0a15.2 15.2 0 1 0 -30.4 0M1537 1147.2a15.2 15.2 0 1 0 30.4 0a15.2 15.2 0 1 0 -30.4 0M1540.2 1147.2a15.2 15.2 0 1 0 30.4 0a15.2 15.2 0 1 0 -30.4 0M1543.4 1147.2a15.2 15.2 0 1 0 30.4 0a15.2 15.2 0 1 0 -30.4 0M1546.6 1147.2a15.2 15.2 0 1 0 30.4 0a15.2 15.2 0 1 0 -30.4 0M1549.8 1147.2a15.2 15.2 0 1 0 30.4 0a15.2 15.2 0 1 0 -30.4 0M1553.1 1147.2a15.2 15.2 0 1 0 30.4 0a15.2 15.2 0 1 0 -30.4 0M1556.3 1147.2a15.2 15.2 0 1 0 30.4 0a15.2 15.2 0 1 0 -30.4 0M1559.5 1147.2a15.2 15.2 0 1 0 30.4 0a15.2 15.2 0 1 0 -30.4 0M1562.7 1147.2a15.2 15.2 0 1 0 30.4 0a15.2 15.2 0 1 0 -30.4 0M1566 1147.2a15.2 15.2 0 1 0 30.4 0a15.2 15.2 0 1 0 -30.4 0M1569.2 1147.2a15.2 15.2 0 1 0 30.4 0a15.2 15.2 0 1 0 -30.4 0M1572.4 1147.2a15.2 15.2 0 1 0 30.4 0a15.2 15.2 0 1 0 -30.4 0M1575.6 1147.2a15.2 15.2 0 1 0 30.4 0a15.2 15.2 0 1 0 -30.4 0M1578.9 1147.2a15.2 15.2 0 1 0 30.4 0a15.2 15.2 0 1 0 -30.4 0M1582.1 1147.2a15.2 15.2 0 1 0 30.4 0a15.2 15.2 0 1 0 -30.4 0M1585.3 1147.2a15.2 15.2 0 1 0 30.4 0a15.2 15.2 0 1 0 -30.4 0M1588.5 1147.2a15.2 15.2 0 1 0 30.4 0a15.2 15.2 0 1 0 -30.4 0M1591.8 1147.2a15.2 15.2 0 1 0 30.4 0a15.2 15.2 0 1 0 -30.4 0M1595 1147.2a15.2 15.2 0 1 0 30.4 0a15.2 15.2 0 1 0 -30.4 0M1598.2 1147.2a15.2 15.2 0 1 0 30.4 0a15.2 15.2 0 1 0 -30.4 0M1601.4 1147.2a15.2 15.2 0 1 0 30.4 0a15.2 15.2 0 1 0 -30.4 0M1604.6 1147.2a15.2 15.2 0 1 0 30.4 0a15.2 15.2 0 1 0 -30.4 0M1607.9 1147.2a15.2 15.2 0 1 0 30.4 0a15.2 15.2 0 1 0 -30.4 0M1611.1 1147.2a15.2 15.2 0 1 0 30.4 0a15.2 15.2 0 1 0 -30.4 0M1614.3 1147.2a15.2 15.2 0 1 0 30.4 0a15.2 15.2 0 1 0 -30.4 0M1617.5 1147.2a15.2 15.2 0 1 0 30.4 0a15.2 15.2 0 1 0 -30.4 0M1620.8 1147.2a15.2 15.2 0 1 0 30.4 0a15.2 15.2 0 1 0 -30.4 0M1624 1147.2a15.2 15.2 0 1 0 30.4 0a15.2 15.2 0 1 0 -30.4 0M1627.2 1147.2a15.2 15.2 0 1 0 30.4 0a15.2 15.2 0 1 0 -30.4 0M1630.4 1147.2a15.2 15.2 0 1 0 30.4 0a15.2 15.2 0 1 0 -30.4 0M1633.7 1147.2a15.2 15.2 0 1 0 30.4 0a15.2 15.2 0 1 0 -30.4 0M1636.9 1147.2a15.2 15.2 0 1 0 30.4 0a15.2 15.2 0 1 0 -30.4 0M1640.1 1147.2a15.2 15.2 0 1 0 30.4 0a15.2 15.2 0 1 0 -30.4 0M1643.3 1147.2a15.2 15.2 0 1 0 30.4 0a15.2 15.2 0 1 0 -30.4 0M1646.6 1147.2a15.2 15.2 0 1 0 30.4 0a15.2 15.2 0 1 0 -30.4 0M1649.8 1147.2a15.2 15.2 0 1 0 30.4 0a15.2 15.2 0 1 0 -30.4 0M1653 1147.2a15.2 15.2 0 1 0 30.4 0a15.2 15.2 0 1 0 -30.4 0M1656.2 1147.2a15.2 15.2 0 1 0 30.4 0a15.2 15.2 0 1 0 -30.4 0M1659.4 1147.2a15.2 15.2 0 1 0 30.4 0a15.2 15.2 0 1 0 -30.4 0M1662.7 1147.2a15.2 15.2 0 1 0 30.4 0a15.2 15.2 0 1 0 -30.4 0M1665.9 1147.2a15.2 15.2 0 1 0 30.4 0a15.2 15.2 0 1 0 -30.4 0M1669.1 1147.2a15.2 15.2 0 1 0 30.4 0a15.2 15.2 0 1 0 -30.4 0M1672.3 1147.2a15.2 15.2 0 1 0 30.4 0a15.2 15.2 0 1 0 -30.4 0M1675.6 1147.2a15.2 15.2 0 1 0 30.4 0a15.2 15.2 0 1 0 -30.4 0M1678.8 1147.2a15.2 15.2 0 1 0 30.4 0a15.2 15.2 0 1 0 -30.4 0M1682 1147.2a15.2 15.2 0 1 0 30.4 0a15.2 15.2 0 1 0 -30.4 0M1685.2 1147.2a15.2 15.2 0 1 0 30.4 0a15.2 15.2 0 1 0 -30.4 0M1688.5 1147.2a15.2 15.2 0 1 0 30.4 0a15.2 15.2 0 1 0 -30.4 0M1691.7 1147.2a15.2 15.2 0 1 0 30.4 0a15.2 15.2 0 1 0 -30.4 0M1694.9 1147.2a15.2 15.2 0 1 0 30.4 0a15.2 15.2 0 1 0 -30.4 0M1698.1 1147.2a15.2 15.2 0 1 0 30.4 0a15.2 15.2 0 1 0 -30.4 0M1701.4 1147.2a15.2 15.2 0 1 0 30.4 0a15.2 15.2 0 1 0 -30.4 0M1704.6 1147.2a15.2 15.2 0 1 0 30.4 0a15.2 15.2 0 1 0 -30.4 0M1707.8 1147.2a15.2 15.2 0 1 0 30.4 0a15.2 15.2 0 1 0 -30.4 0M1711 1147.2a15.2 15.2 0 1 0 30.4 0a15.2 15.2 0 1 0 -30.4 0M1714.2 1147.2a15.2 15.2 0 1 0 30.4 0a15.2 15.2 0 1 0 -30.4 0M1717.5 1147.2a15.2 15.2 0 1 0 30.4 0a15.2 15.2 0 1 0 -30.4 0M1720.7 1147.2a15.2 15.2 0 1 0 30.4 0a15.2 15.2 0 1 0 -30.4 0M1723.9 1147.2a15.2 15.2 0 1 0 30.4 0a15.2 15.2 0 1 0 -30.4 0M1727.1 1147.2a15.2 15.2 0 1 0 30.4 0a15.2 15.2 0 1 0 -30.4 0M1730.4 1147.2a15.2 15.2 0 1 0 30.4 0a15.2 15.2 0 1 0 -30.4 0M1733.6 1147.2a15.2 15.2 0 1 0 30.4 0a15.2 15.2 0 1 0 -30.4 0M1736.8 1147.2a15.2 15.2 0 1 0 30.4 0a15.2 15.2 0 1 0 -30.4 0M1740 1147.2a15.2 15.2 0 1 0 30.4 0a15.2 15.2 0 1 0 -30.4 0M1743.3 1147.2a15.2 15.2 0 1 0 30.4 0a15.2 15.2 0 1 0 -30.4 0M1746.5 1147.2a15.2 15.2 0 1 0 30.4 0a15.2 15.2 0 1 0 -30.4 0M1749.7 1147.2a15.2 15.2 0 1 0 30.4 0a15.2 15.2 0 1 0 -30.4 0M1752.9 1147.2a15.2 15.2 0 1 0 30.4 0a15.2 15.2 0 1 0 -30.4 0M1756.2 1147.2a15.2 15.2 0 1 0 30.4 0a15.2 15.2 0 1 0 -30.4 0M1759.4 1147.2a15.2 15.2 0 1 0 30.4 0a15.2 15.2 0 1 0 -30.4 0M1762.6 1147.2a15.2 15.2 0 1 0 30.4 0a15.2 15.2 0 1 0 -30.4 0M1765.8 1147.2a15.2 15.2 0 1 0 30.4 0a15.2 15.2 0 1 0 -30.4 0M1769 1147.2a15.2 15.2 0 1 0 30.4 0a15.2 15.2 0 1 0 -30.4 0M1772.3 1147.2a15.2 15.2 0 1 0 30.4 0a15.2 15.2 0 1 0 -30.4 0M1775.5 1147.2a15.2 15.2 0 1 0 30.4 0a15.2 15.2 0 1 0 -30.4 0M1778.7 1147.2a15.2 15.2 0 1 0 30.4 0a15.2 15.2 0 1 0 -30.4 0M1781.9 1147.2a15.2 15.2 0 1 0 30.4 0a15.2 15.2 0 1 0 -30.4 0M1785.2 1147.2a15.2 15.2 0 1 0 30.4 0a15.2 15.2 0 1 0 -30.4 0M1788.4 1147.2a15.2 15.2 0 1 0 30.4 0a15.2 15.2 0 1 0 -30.4 0M1791.6 1147.2a15.2 15.2 0 1 0 30.4 0a15.2 15.2 0 1 0 -30.4 0M1794.8 1147.2a15.2 15.2 0 1 0 30.4 0a15.2 15.2 0 1 0 -30.4 0M1798.1 1147.2a15.2 15.2 0 1 0 30.4 0a15.2 15.2 0 1 0 -30.4 0M1801.3 1147.2a15.2 15.2 0 1 0 30.4 0a15.2 15.2 0 1 0 -30.4 0M1804.5 1147.2a15.2 15.2 0 1 0 30.4 0a15.2 15.2 0 1 0 -30.4 0M1807.7 1147.2a15.2 15.2 0 1 0 30.4 0a15.2 15.2 0 1 0 -30.4 0M1811 1147.2a15.2 15.2 0 1 0 30.4 0a15.2 15.2 0 1 0 -30.4 0M1814.2 1147.2a15.2 15.2 0 1 0 30.4 0a15.2 15.2 0 1 0 -30.4 0M1817.4 1147.2a15.2 15.2 0 1 0 30.4 0a15.2 15.2 0 1 0 -30.4 0M270.1 1061a15.2 15.2 0 1 0 30.4 0a15.2 15.2 0 1 0 -30.4 0M283 1060a15.2 15.2 0 1 0 30.4 0a15.2 15.2 0 1 0 -30.4 0M295.9 1058.9a15.2 15.2 0 1 0 30.4 0a15.2 15.2 0 1 0 -30.4 0M308.8 1058a15.2 15.2 0 1 0 30.4 0a15.2 15.2 0 1 0 -30.4 0M321.7 1057a15.2 15.2 0 1 0 30.4 0a15.2 15.2 0 1 0 -30.4 0M334.6 1056.1a15.2 15.2 0 1 0 30.4 0a15.2 15.2 0 1 0 -30.4 0M347.5 1055.3a15.2 15.2 0 1 0 30.4 0a15.2 15.2 0 1 0 -30.4 0M360.4 1054.5a15.2 15.2 0 1 0 30.4 0a15.2 15.2 0 1 0 -30.4 0M373.3 1053.8a15.2 15.2 0 1 0 30.4 0a15.2 15.2 0 1 0 -30.4 0M386.2 1053.1a15.2 15.2 0 1 0 30.4 0a15.2 15.2 0 1 0 -30.4 0M399.1 1052.4a15.2 15.2 0 1 0 30.4 0a15.2 15.2 0 1 0 -30.4 0M412 1051.9a15.2 15.2 0 1 0 30.4 0a15.2 15.2 0 1 0 -30.4 0M424.8 1051.3a15.2 15.2 0 1 0 30.4 0a15.2 15.2 0 1 0 -30.4 0M437.7 1050.9a15.2 15.2 0 1 0 30.4 0a15.2 15.2 0 1 0 -30.4 0M450.6 1050.5a15.2 15.2 0 1 0 30.4 0a15.2 15.2 0 1 0 -30.4 0M463.5 1050.1a15.2 15.2 0 1 0 30.4 0a15.2 15.2 0 1 0 -30.4 0M476.4 1049.8a15.2 15.2 0 1 0 30.4 0a15.2 15.2 0 1 0 -30.4 0M489.3 1049.6a15.2 15.2 0 1 0 30.4 0a15.2 15.2 0 1 0 -30.4 0M502.2 1049.5a15.2 15.2 0 1 0 30.4 0a15.2 15.2 0 1 0 -30.4 0M515.1 1049.4a15.2 15.2 0 1 0 30.4 0a15.2 15.2 0 1 0 -30.4 0M540.9 1049.4a15.2 15.2 0 1 0 30.4 0a15.2 15.2 0 1 0 -30.4 0M553.8 1049.5a15.2 15.2 0 1 0 30.4 0a15.2 15.2 0 1 0 -30.4 0M566.7 1049.6a15.2 15.2 0 1 0 30.4 0a15.2 15.2 0 1 0 -30.4 0M579.6 1049.8a15.2 15.2 0 1 0 30.4 0a15.2 15.2 0 1 0 -30.4 0M592.5 1050.1a15.2 15.2 0 1 0 30.4 0a15.2 15.2 0 1 0 -30.4 0M605.4 1050.5a15.2 15.2 0 1 0 30.4 0a15.2 15.2 0 1 0 -30.4 0M618.3 1050.9a15.2 15.2 0 1 0 30.4 0a15.2 15.2 0 1 0 -30.4 0M631.2 1051.3a15.2 15.2 0 1 0 30.4 0a15.2 15.2 0 1 0 -30.4 0M644 1051.9a15.2 15.2 0 1 0 30.4 0a15.2 15.2 0 1 0 -30.4 0M656.9 1052.4a15.2 15.2 0 1 0 30.4 0a15.2 15.2 0 1 0 -30.4 0M669.8 1053.1a15.2 15.2 0 1 0 30.4 0a15.2 15.2 0 1 0 -30.4 0M682.7 1053.8a15.2 15.2 0 1 0 30.4 0a15.2 15.2 0 1 0 -30.4 0M695.6 1054.5a15.2 15.2 0 1 0 30.4 0a15.2 15.2 0 1 0 -30.4 0M708.5 1055.3a15.2 15.2 0 1 0 30.4 0a15.2 15.2 0 1 0 -30.4 0M721.4 1056.1a15.2 15.2 0 1 0 30.4 0a15.2 15.2 0 1 0 -30.4 0M734.3 1057a15.2 15.2 0 1 0 30.4 0a15.2 15.2 0 1 0 -30.4 0M747.2 1058a15.2 15.2 0 1 0 30.4 0a15.2 15.2 0 1 0 -30.4 0M760.1 1058.9a15.2 15.2 0 1 0 30.4 0a15.2 15.2 0 1 0 -30.4 0M773 1060a15.2 15.2 0 1 0 30.4 0a15.2 15.2 0 1 0 -30.4 0M785.9 1061a15.2 15.2 0 1 0 30.4 0a15.2 15.2 0 1 0 -30.4 0M798.8 1062.1a15.2 15.2 0 1 0 30.4 0a15.2 15.2 0 1 0 -30.4 0M811.7 1063.2a15.2 15.2 0 1 0 30.4 0a15.2 15.2 0 1 0 -30.4 0M824.6 1064.4a15.2 15.2 0 1 0 30.4 0a15.2 15.2 0 1 0 -30.4 0M837.5 1065.6a15.2 15.2 0 1 0 30.4 0a15.2 15.2 0 1 0 -30.4 0M850.4 1066.8a15.2 15.2 0 1 0 30.4 0a15.2 15.2 0 1 0 -30.4 0M863.2 1068a15.2 15.2 0 1 0 30.4 0a15.2 15.2 0 1 0 -30.4 0M876.1 1069.3a15.2 15.2 0 1 0 30.4 0a15.2 15.2 0 1 0 -30.4 0M889 1070.5a15.2 15.2 0 1 0 30.4 0a15.2 15.2 0 1 0 -30.4 0M901.9 1071.8a15.2 15.2 0 1 0 30.4 0a15.2 15.2 0 1 0 -30.4 0M914.8 1073.2a15.2 15.2 0 1 0 30.4 0a15.2 15.2 0 1 0 -30.4 0M927.7 1074.5a15.2 15.2 0 1 0 30.4 0a15.2 15.2 0 1 0 -30.4 0M940.6 1075.8a15.2 15.2 0 1 0 30.4 0a15.2 15.2 0 1 0 -30.4 0M953.5 1077.2a15.2 15.2 0 1 0 30.4 0a15.2 15.2 0 1 0 -30.4 0M966.4 1078.5a15.2 15.2 0 1 0 30.4 0a15.2 15.2 0 1 0 -30.4 0M979.3 1079.9a15.2 15.2 0 1 0 30.4 0a15.2 15.2 0 1 0 -30.4 0M992.2 1081.2a15.2 15.2 0 1 0 30.4 0a15.2 15.2 0 1 0 -30.4 0M1005.1 1082.6a15.2 15.2 0 1 0 30.4 0a15.2 15.2 0 1 0 -30.4 0M1018 1083.9a15.2 15.2 0 1 0 30.4 0a15.2 15.2 0 1 0 -30.4 0M1030.9 1085.3a15.2 15.2 0 1 0 30.4 0a15.2 15.2 0 1 0 -30.4 0M1043.8 1086.6a15.2 15.2 0 1 0 30.4 0a15.2 15.2 0 1 0 -30.4 0M1056.7 1088a15.2 15.2 0 1 0 30.4 0a15.2 15.2 0 1 0 -30.4 0M1069.5 1089.3a15.2 15.2 0 1 0 30.4 0a15.2 15.2 0 1 0 -30.4 0M1082.4 1090.6a15.2 15.2 0 1 0 30.4 0a15.2 15.2 0 1 0 -30.4 0M1095.3 1092a15.2 15.2 0 1 0 30.4 0a15.2 15.2 0 1 0 -30.4 0M1108.2 1093.3a15.2 15.2 0 1 0 30.4 0a15.2 15.2 0 1 0 -30.4 0M1121.1 1094.6a15.2 15.2 0 1 0 30.4 0a15.2 15.2 0 1 0 -30.4 0M1134 1095.8a15.2 15.2 0 1 0 30.4 0a15.2 15.2 0 1 0 -30.4 0M1146.9 1097.1a15.2 15.2 0 1 0 30.4 0a15.2 15.2 0 1 0 -30.4 0M1159.8 1098.4a15.2 15.2 0 1 0 30.4 0a15.2 15.2 0 1 0 -30.4 0M1172.7 1099.6a15.2 15.2 0 1 0 30.4 0a15.2 15.2 0 1 0 -30.4 0M1185.6 1100.8a15.2 15.2 0 1 0 30.4 0a15.2 15.2 0 1 0 -30.4 0M1198.5 1102a15.2 15.2 0 1 0 30.4 0a15.2 15.2 0 1 0 -30.4 0M1211.4 1103.2a15.2 15.2 0 1 0 30.4 0a15.2 15.2 0 1 0 -30.4 0M1224.3 1104.4a15.2 15.2 0 1 0 30.4 0a15.2 15.2 0 1 0 -30.4 0M1237.2 1105.5a15.2 15.2 0 1 0 30.4 0a15.2 15.2 0 1 0 -30.4 0M1250.1 1106.7a15.2 15.2 0 1 0 30.4 0a15.2 15.2 0 1 0 -30.4 0M1263 1107.8a15.2 15.2 0 1 0 30.4 0a15.2 15.2 0 1 0 -30.4 0M1275.9 1108.9a15.2 15.2 0 1 0 30.4 0a15.2 15.2 0 1 0 -30.4 0M1288.7 1109.9a15.2 15.2 0 1 0 30.4 0a15.2 15.2 0 1 0 -30.4 0M1301.6 1111a15.2 15.2 0 1 0 30.4 0a15.2 15.2 0 1 0 -30.4 0M1314.5 1112a15.2 15.2 0 1 0 30.4 0a15.2 15.2 0 1 0 -30.4 0M1327.4 1113a15.2 15.2 0 1 0 30.4 0a15.2 15.2 0 1 0 -30.4 0M1340.3 1114a15.2 15.2 0 1 0 30.4 0a15.2 15.2 0 1 0 -30.4 0M1353.2 1114.9a15.2 15.2 0 1 0 30.4 0a15.2 15.2 0 1 0 -30.4 0M1366.1 1115.9a15.2 15.2 0 1 0 30.4 0a15.2 15.2 0 1 0 -30.4 0M1379 1116.8a15.2 15.2 0 1 0 30.4 0a15.2 15.2 0 1 0 -30.4 0M1391.9 1117.7a15.2 15.2 0 1 0 30.4 0a15.2 15.2 0 1 0 -30.4 0M1404.8 1118.6a15.2 15.2 0 1 0 30.4 0a15.2 15.2 0 1 0 -30.4 0M1417.7 1119.4a15.2 15.2 0 1 0 30.4 0a15.2 15.2 0 1 0 -30.4 0M1430.6 1120.3a15.2 15.2 0 1 0 30.4 0a15.2 15.2 0 1 0 -30.4 0M1443.5 1121.1a15.2 15.2 0 1 0 30.4 0a15.2 15.2 0 1 0 -30.4 0M1456.4 1121.9a15.2 15.2 0 1 0 30.4 0a15.2 15.2 0 1 0 -30.4 0M1469.3 1122.7a15.2 15.2 0 1 0 30.4 0a15.2 15.2 0 1 0 -30.4 0M1482.2 1123.4a15.2 15.2 0 1 0 30.4 0a15.2 15.2 0 1 0 -30.4 0M1495 1124.2a15.2 15.2 0 1 0 30.4 0a15.2 15.2 0 1 0 -30.4 0M1507.9 1124.9a15.2 15.2 0 1 0 30.4 0a15.2 15.2 0 1 0 -30.4 0M1520.8 1125.6a15.2 15.2 0 1 0 30.4 0a15.2 15.2 0 1 0 -30.4 0M1533.7 1126.2a15.2 15.2 0 1 0 30.4 0a15.2 15.2 0 1 0 -30.4 0M1546.6 1126.9a15.2 15.2 0 1 0 30.4 0a15.2 15.2 0 1 0 -30.4 0M1559.5 1127.5a15.2 15.2 0 1 0 30.4 0a15.2 15.2 0 1 0 -30.4 0M1572.4 1128.2a15.2 15.2 0 1 0 30.4 0a15.2 15.2 0 1 0 -30.4 0M1585.3 1128.8a15.2 15.2 0 1 0 30.4 0a15.2 15.2 0 1 0 -30.4 0M1598.2 1129.4a15.2 15.2 0 1 0 30.4 0a15.2 15.2 0 1 0 -30.4 0M1611.1 1129.9a15.2 15.2 0 1 0 30.4 0a15.2 15.2 0 1 0 -30.4 0M1624 1130.5a15.2 15.2 0 1 0 30.4 0a15.2 15.2 0 1 0 -30.4 0M1636.9 1131a15.2 15.2 0 1 0 30.4 0a15.2 15.2 0 1 0 -30.4 0M1649.8 1131.6a15.2 15.2 0 1 0 30.4 0a15.2 15.2 0 1 0 -30.4 0M1662.7 1132.1a15.2 15.2 0 1 0 30.4 0a15.2 15.2 0 1 0 -30.4 0M1675.6 1132.6a15.2 15.2 0 1 0 30.4 0a15.2 15.2 0 1 0 -30.4 0M1688.5 1133a15.2 15.2 0 1 0 30.4 0a15.2 15.2 0 1 0 -30.4 0M1701.4 1133.5a15.2 15.2 0 1 0 30.4 0a15.2 15.2 0 1 0 -30.4 0M1714.2 1134a15.2 15.2 0 1 0 30.4 0a15.2 15.2 0 1 0 -30.4 0M1727.1 1134.4a15.2 15.2 0 1 0 30.4 0a15.2 15.2 0 1 0 -30.4 0M1740 1134.8a15.2 15.2 0 1 0 30.4 0a15.2 15.2 0 1 0 -30.4 0M1752.9 1135.2a15.2 15.2 0 1 0 30.4 0a15.2 15.2 0 1 0 -30.4 0M1765.8 1135.6a15.2 15.2 0 1 0 30.4 0a15.2 15.2 0 1 0 -30.4 0M1778.7 1136a15.2 15.2 0 1 0 30.4 0a15.2 15.2 0 1 0 -30.4 0M1791.6 1136.4a15.2 15.2 0 1 0 30.4 0a15.2 15.2 0 1 0 -30.4 0M1804.5 1136.7a15.2 15.2 0 1 0 30.4 0a15.2 15.2 0 1 0 -30.4 0M1817.4 1137.1a15.2 15.2 0 1 0 30.4 0a15.2 15.2 0 1 0 -30.4 0"/>
<path d="M270.1 1140.1h30.4M285.3 1124.9v30.4M273.3 1139.5h30.4M288.5 1124.3v30.4M276.6 1138.8h30.4M291.8 1123.6v30.4M279.8 1138.1h30.4M295 1122.9v30.4M283 1137.3h30.4M298.2 1122.1v30.4M286.2 1136.5h30.4M301.4 1121.3v30.4M289.5 1135.7h30.4M304.7 1120.5v30.4M292.7 1134.9h30.4M307.9 1119.7v30.4M295.9 1134h30.4M311.1 1118.8v30.4M299.1 1133h30.4M314.3 1117.8v30.4M302.4 1132h30.4M317.6 1116.8v30.4M305.6 1131h30.4M320.8 1115.8v30.4M308.8 1129.9h30.4M324 1114.7v30.4M312 1128.7h30.4M327.2 1113.5v30.4M315.2 1127.5h30.4M330.4 1112.3v30.4M318.5 1126.1h30.4M333.7 1110.9v30.4M321.7 1124.7h30.4M336.9 1109.5v30.4M324.9 1123.2h30.4M340.1 1108v30.4M328.1 1121.6h30.4M343.3 1106.4v30.4M331.4 1119.9h30.4M346.6 1104.7v30.4M334.6 1118.1h30.4M349.8 1102.9v30.4M337.8 1116.2h30.4M353 1101v30.4M341 1114.1h30.4M356.2 1098.9v30.4M344.3 1112h30.4M359.5 1096.8v30.4M347.5 1109.7h30.4M362.7 1094.5v30.4M350.7 1107.3h30.4M365.9 1092.1v30.4M353.9 1104.6h30.4M369.1 1089.4v30.4M357.2 1101.7h30.4M372.4 1086.5v30.4M360.4 1098.7h30.4M375.6 1083.5v30.4M363.6 1095.4h30.4M378.8 1080.2v30.4M366.8 1091.9h30.4M382 1076.7v30.4M370 1088.1h30.4M385.2 1072.9v30.4M373.3 1084h30.4M388.5 1068.8v30.4M376.5 1079.6h30.4M391.7 1064.4v30.4M379.7 1074.8h30.4M394.9 1059.6v30.4M382.9 1069.6h30.4M398.1 1054.4v30.4M386.2 1063.9h30.4M401.4 1048.7v30.4M389.4 1057.8h30.4M404.6 1042.6v30.4M392.6 1051h30.4M407.8 1035.8v30.4M395.8 1043.6h30.4M411 1028.4v30.4M399.1 1035.4h30.4M414.3 1020.2v30.4M402.3 1025.6h30.4M417.5 1010.4v30.4M405.5 1015.5h30.4M420.7 1000.3v30.4M408.7 1007.1h30.4M423.9 991.9v30.4M412 999.1h30.4M427.2 983.9v30.4M415.2 987.8h30.4M430.4 972.6v30.4M418.4 975.5h30.4M433.6 960.2v30.4M421.6 961.6h30.4M436.8 946.4v30.4M424.8 947.7h30.4M440 932.5v30.4M428.1 933.8h30.4M443.3 918.6v30.4M431.3 917.7h30.4M446.5 902.5v30.4M434.5 900.5h30.4M449.7 885.2v30.4M437.7 883.2h30.4M452.9 868v30.4M441 863.3h30.4M456.2 848.1v30.4M444.2 842.5h30.4M459.4 827.3v30.4M447.4 820.6h30.4M462.6 805.4v30.4M450.6 797.3h30.4M465.8 782.1v30.4M453.9 771.8h30.4M469.1 756.6v30.4M457.1 746h30.4M472.3 730.8v30.4M460.3 719h30.4M475.5 703.8v30.4M463.5 689.3h30.4M478.7 674.1v30.4M466.8 659.3h30.4M482 644.1v30.4M470 628.2h30.4M485.2 613v30.4M473.2 595.6h30.4M488.4 580.4v30.4M476.4 563h30.4M491.6 547.8v30.4M479.6 528.8h30.4M494.8 513.6v30.4M482.9 494.7h30.4M498.1 479.5v30.4M486.1 459.8h30.4M501.3 444.6v30.4M489.3 425.7h30.4M504.5 410.5v30.4M492.5 392.3h30.4M507.7 377.1v30.4M495.8 359h30.4M511 343.8v30.4M499 327.1h30.4M514.2 311.9v30.4M502.2 297.8h30.4M517.4 282.6v30.4M505.4 270.1h30.4M520.6 254.9v30.4M508.7 245.3h30.4M523.9 230.1v30.4M511.9 223.2h30.4M527.1 208v30.4M515.1 204.1h30.4M530.3 188.9v30.4M518.3 192.1h30.4M533.5 176.9v30.4M521.6 181.8h30.4M536.8 166.6v30.4M524.8 174.6h30.4M540 159.4v30.4M528 171.8h30.4M543.2 156.6v30.4M531.2 174.6h30.4M546.4 159.4v30.4M534.4 181.8h30.4M549.6 166.6v30.4M537.7 192.1h30.4M552.9 176.9v30.4M540.9 204.1h30.4M556.1 188.9v30.4M544.1 223.2h30.4M559.3 208v30.4M547.3 245.3h30.4M562.5 230.1v30.4M550.6 270.1h30.4M565.8 254.9v30.4M553.8 297.8h30.4M569 282.6v30.4M557 327.1h30.4M572.2 311.9v30.4M560.2 359h30.4M575.4 343.8v30.4M563.5 392.3h30.4M578.7 377.1v30.4M566.7 425.7h30.4M581.9 410.5v30.4M569.9 459.8h30.4M585.1 444.6v30.4M573.1 494.7h30.4M588.3 479.5v30.4M576.4 528.8h30.4M591.6 513.6v30.4M579.6 563h30.4M594.8 547.8v30.4M582.8 595.6h30.4M598 580.4v30.4M586 628.2h30.4M601.2 613v30.4M589.2 659.3h30.4M604.4 644.1v30.4M592.5 689.3h30.4M607.7 674.1v30.4M595.7 719h30.4M610.9 703.8v30.4M598.9 746h30.4M614.1 730.8v30.4M602.1 771.8h30.4M617.3 756.6v30.4M605.4 797.3h30.4M620.6 782.1v30.4M608.6 820.6h30.4M623.8 805.4v30.4M611.8 842.5h30.4M627 827.3v30.4M615 863.3h30.4M630.2 848.1v30.4M618.3 883.2h30.4M633.5 868v30.4M621.5 900.5h30.4M636.7 885.2v30.4M624.7 917.7h30.4M639.9 902.5v30.4M627.9 933.8h30.4M643.1 918.6v30.4M631.2 947.7h30.4M646.4 932.5v30.4M634.4 961.6h30.4M649.6 946.4v30.4M637.6 975.5h30.4M652.8 960.2v30.4M640.8 987.8h30.4M656 972.6v30.4M644 999.1h30.4M659.2 983.9v30.4M647.3 1007.1h30.4M662.5 991.9v30.4M650.5 1015.5h30.4M665.7 1000.3v30.4M653.7 1025.6h30.4M668.9 1010.4v30.4M656.9 1035.4h30.4M672.1 1020.2v30.4M660.2 1043.6h30.4M675.4 1028.4v30.4M663.4 1051h30.4M678.6 1035.8v30.4M666.6 1057.8h30.4M681.8 1042.6v30.4M669.8 1063.9h30.4M685 1048.7v30.4M673.1 1069.6h30.4M688.3 1054.4v30.4M676.3 1074.8h30.4M691.5 1059.6v30.4M679.5 1079.6h30.4M694.7 1064.4v30.4M682.7 1084h30.4M697.9 1068.8v30.4M686 1088.1h30.4M701.2 1072.9v30.4M689.2 1091.9h30.4M704.4 1076.7v30.4M692.4 1095.4h30.4M707.6 1080.2v30.4M695.6 1098.7h30.4M710.8 1083.5v30.4M698.8 1101.7h30.4M714 1086.5v30.4M702.1 1104.6h30.4M717.3 1089.4v30.4M705.3 1107.3h30.4M720.5 1092.1v30.4M708.5 1109.7h30.4M723.7 1094.5v30.4M711.7 1112h30.4M726.9 1096.8v30.4M715 1114.1h30.4M730.2 1098.9v30.4M718.2 1116.2h30.4M733.4 1101v30.4M721.4 1118.1h30.4M736.6 1102.9v30.4M724.6 1119.9h30.4M739.8 1104.7v30.4M727.9 1121.6h30.4M743.1 1106.4v30.4M731.1 1123.2h30.4M746.3 1108v30.4M734.3 1124.7h30.4M749.5 1109.5v30.4M737.5 1126.1h30.4M752.7 1110.9v30.4M740.8 1127.5h30.4M756 1112.3v30.4M744 1128.7h30.4M759.2 1113.5v30.4M747.2 1129.9h30.4M762.4 1114.7v30.4M750.4 1131h30.4M765.6 1115.8v30.4M753.6 1132h30.4M768.8 1116.8v30.4M756.9 1133h30.4M772.1 1117.8v30.4M760.1 1134h30.4M775.3 1118.8v30.4M763.3 1134.9h30.4M778.5 1119.7v30.4M766.5 1135.7h30.4M781.7 1120.5v30.4M769.8 1136.5h30.4M785 1121.3v30.4M773 1137.3h30.4M788.2 1122.1v30.4M776.2 1138.1h30.4M791.4 1122.9v30.4M779.4 1138.8h30.4M794.6 1123.6v30.4M782.7 1139.5h30.4M797.9 1124.3v30.4M785.9 1140.1h30.4M801.1 1124.9v30.4M789.1 1140.6h30.4M804.3 1125.4v30.4M792.3 1141.1h30.4M807.5 1125.9v30.4M795.6 1141.5h30.4M810.8 1126.3v30.4M798.8 1141.9h30.4M814 1126.7v30.4M802 1142.3h30.4M817.2 1127.1v30.4M805.2 1142.6h30.4M820.4 1127.4v30.4M808.4 1143h30.4M823.6 1127.8v30.4M811.7 1143.3h30.4M826.9 1128.1v30.4M814.9 1143.5h30.4M830.1 1128.3v30.4M818.1 1143.8h30.4M833.3 1128.6v30.4M821.3 1144.1h30.4M836.5 1128.9v30.4M824.6 1144.3h30.4M839.8 1129.1v30.4M827.8 1144.5h30.4M843 1129.3v30.4M831 1144.7h30.4M846.2 1129.5v30.4M834.2 1144.9h30.4M849.4 1129.7v30.4M837.5 1145h30.4M852.7 1129.8v30.4M840.7 1145.2h30.4M855.9 1130v30.4M843.9 1145.3h30.4M859.1 1130.1v30.4M847.1 1145.5h30.4M862.3 1130.3v30.4M850.4 1145.6h30.4M865.6 1130.4v30.4M853.6 1145.7h30.4M868.8 1130.5v30.4M856.8 1145.8h30.4M872 1130.6v30.4M860 1145.9h30.4M875.2 1130.7v30.4M863.2 1146h30.4M878.4 1130.8v30.4M866.5 1146.1h30.4M881.7 1130.9v30.4M869.7 1146.2h30.4M884.9 1131v30.4M872.9 1146.3h30.4M888.1 1131.1v30.4M876.1 1146.3h30.4M891.3 1131.1v30.4M879.4 1146.4h30.4M894.6 1131.2v30.4M882.6 1146.4h30.4M897.8 1131.2v30.4M885.8 1146.5h30.4M901 1131.3v30.4M889 1146.5h30.4M904.2 1131.3v30.4M892.3 1146.6h30.4M907.5 1131.4v30.4M895.5 1146.6h30.4M910.7 1131.4v30.4M898.7 1146.7h30.4M913.9 1131.5v30.4M901.9 1146.7h30.4M917.1 1131.5v30.4M905.1 1146.8h30.4M920.3 1131.6v30.4M908.4 1146.8h30.4M923.6 1131.6v30.4M911.6 1146.8h30.4M926.8 1131.6v30.4M914.8 1146.8h30.4M930 1131.6v30.4M918 1146.9h30.4M933.2 1131.7v30.4M921.3 1146.9h30.4M936.5 1131.7v30.4M924.5 1146.9h30.4M939.7 1131.7v30.4M927.7 1146.9h30.4M942.9 1131.7v30.4M930.9 1147h30.4M946.1 1131.8v30.4M934.2 1147h30.4M949.4 1131.8v30.4M937.4 1147h30.4M952.6 1131.8v30.4M940.6 1147h30.4M955.8 1131.8v30.4M943.8 1147h30.4M959 1131.8v30.4M947.1 1147h30.4M962.3 1131.8v30.4M950.3 1147h30.4M965.5 1131.8v30.4M953.5 1147.1h30.4M968.7 1131.9v30.4M956.7 1147.1h30.4M971.9 1131.9v30.4M959.9 1147.1h30.4M975.1 1131.9v30.4M963.2 1147.1h30.4M978.4 1131.9v30.4M966.4 1147.1h30.4M981.6 1131.9v30.4M969.6 1147.1h30.4M984.8 1131.9v30.4M972.8 1147.1h30.4M988 1131.9v30.4M976.1 1147.1h30.4M991.3 1131.9v30.4M979.3 1147.1h30.4M994.5 1131.9v30.4M982.5 1147.1h30.4M997.7 1131.9v30.4M985.7 1147.1h30.4M1000.9 1131.9v30.4M989 1147.1h30.4M1004.2 1131.9v30.4M992.2 1147.1h30.4M1007.4 1131.9v30.4M995.4 1147.1h30.4M1010.6 1131.9v30.4M998.6 1147.1h30.4M1013.8 1131.9v30.4M1001.9 1147.2h30.4M1017.1 1132v30.4M1005.1 1147.2h30.4M1020.3 1132v30.4M1008.3 1147.2h30.4M1023.5 1132v30.4M1011.5 1147.2h30.4M1026.7 1132v30.4M1014.7 1147.2h30.4M1029.9 1132v30.4M1018 1147.2h30.4M1033.2 1132v30.4M1021.2 1147.2h30.4M1036.4 1132v30.4M1024.4 1147.2h30.4M1039.6 1132v30.4M1027.6 1147.2h30.4M1042.8 1132v30.4M1030.9 1147.2h30.4M1046.1 1132v30.4M1034.1 1147.2h30.4M1049.3 1132v30.4M1037.3 1147.2h30.4M1052.5 1132v30.4M1040.5 1147.2h30.4M1055.7 1132v30.4M1043.8 1147.2h30.4M1059 1132v30.4M1047 1147.2h30.4M1062.2 1132v30.4M1050.2 1147.2h30.4M1065.4 1132v30.4M1053.4 1147.2h30.4M1068.6 1132v30.4M1056.7 1147.2h30.4M1071.9 1132v30.4M1059.9 1147.2h30.4M1075.1 1132v30.4M1063.1 1147.2h30.4M1078.3 1132v30.4M1066.3 1147.2h30.4M1081.5 1132v30.4M1069.5 1147.2h30.4M1084.7 1132v30.4M1072.8 1147.2h30.4M1088 1132v30.4M1076 1147.2h30.4M1091.2 1132v30.4M1079.2 1147.2h30.4M1094.4 1132v30.4M1082.4 1147.2h30.4M1097.6 1132v30.4M1085.7 1147.2h30.4M1100.9 1132v30.4M1088.9 1147.2h30.4M1104.1 1132v30.4M1092.1 1147.2h30.4M1107.3 1132v30.4M1095.3 1147.2h30.4M1110.5 1132v30.4M1098.6 1147.2h30.4M1113.8 1132v30.4M1101.8 1147.2h30.4M1117 1132v30.4M1105 1147.2h30.4M1120.2 1132v30.4M1108.2 1147.2h30.4M1123.4 1132v30.4M1111.5 1147.2h30.4M1126.7 1132v30.4M1114.7 1147.2h30.4M1129.9 1132v30.4M1117.9 1147.2h30.4M1133.1 1132v30.4M1121.1 1147.2h30.4M1136.3 1132v30.4M1124.3 1147.2h30.4M1139.5 1132v30.4M1127.6 1147.2h30.4M1142.8 1132v30.4M1130.8 1147.2h30.4M1146 1132v30.4M1134 1147.2h30.4M1149.2 1132v30.4M1137.2 1147.2h30.4M1152.4 1132v30.4M1140.5 1147.2h30.4M1155.7 1132v30.4M1143.7 1147.2h30.4M1158.9 1132v30.4M1146.9 1147.2h30.4M1162.1 1132v30.4M1150.1 1147.2h30.4M1165.3 1132v30.4M1153.4 1147.2h30.4M1168.6 1132v30.4M1156.6 1147.2h30.4M1171.8 1132v30.4M1159.8 1147.2h30.4M1175 1132v30.4M1163 1147.2h30.4M1178.2 1132v30.4M1166.3 1147.2h30.4M1181.5 1132v30.4M1169.5 1147.2h30.4M1184.7 1132v30.4M1172.7 1147.2h30.4M1187.9 1132v30.4M1175.9 1147.2h30.4M1191.1 1132v30.4M1179.1 1147.2h30.4M1194.3 1132v30.4M1182.4 1147.2h30.4M1197.6 1132v30.4M1185.6 1147.2h30.4M1200.8 1132v30.4M1188.8 1147.2h30.4M1204 1132v30.4M1192 1147.2h30.4M1207.2 1132v30.4M1195.3 1147.2h30.4M1210.5 1132v30.4M1198.5 1147.2h30.4M1213.7 1132v30.4M1201.7 1147.2h30.4M1216.9 1132v30.4M1204.9 1147.2h30.4M1220.1 1132v30.4M1208.2 1147.2h30.4M1223.4 1132v30.4M1211.4 1147.2h30.4M1226.6 1132v30.4M1214.6 1147.2h30.4M1229.8 1132v30.4M1217.8 1147.2h30.4M1233 1132v30.4M1221.1 1147.2h30.4M1236.3 1132v30.4M1224.3 1147.2h30.4M1239.5 1132v30.4M1227.5 1147.2h30.4M1242.7 1132v30.4M1230.7 1147.2h30.4M1245.9 1132v30.4M1233.9 1147.2h30.4M1249.1 1132v30.4M1237.2 1147.2h30.4M1252.4 1132v30.4M1240.4 1147.2h30.4M1255.6 1132v30.4M1243.6 1147.2h30.4M1258.8 1132v30.4M1246.8 1147.2h30.4M1262 1132v30.4M1250.1 1147.2h30.4M1265.3 1132v30.4M1253.3 1147.2h30.4M1268.5 1132v30.4M1256.5 1147.2h30.4M1271.7 1132v30.4M1259.7 1147.2h30.4M1274.9 1132v30.4M1263 1147.2h30.4M1278.2 1132v30.4M1266.2 1147.2h30.4M1281.4 1132v30.4M1269.4 1147.2h30.4M1284.6 1132v30.4M1272.6 1147.2h30.4M1287.8 1132v30.4M1275.9 1147.2h30.4M1291.1 1132v30.4M1279.1 1147.2h30.4M1294.3 1132v30.4M1282.3 1147.2h30.4M1297.5 1132v30.4M1285.5 1147.2h30.4M1300.7 1132v30.4M1288.7 1147.2h30.4M1303.9 1132v30.4M1292 1147.2h30.4M1307.2 1132v30.4M1295.2 1147.2h30.4M1310.4 1132v30.4M1298.4 1147.2h30.4M1313.6 1132v30.4M1301.6 1147.2h30.4M1316.8 1132v30.4M1304.9 1147.2h30.4M1320.1 1132v30.4M1308.1 1147.2h30.4M1323.3 1132v30.4M1311.3 1147.2h30.4M1326.5 1132v30.4M1314.5 1147.2h30.4M1329.7 1132v30.4M1317.8 1147.2h30.4M1333 1132v30.4M1321 1147.2h30.4M1336.2 1132v30.4M1324.2 1147.2h30.4M1339.4 1132v30.4M1327.4 1147.2h30.4M1342.6 1132v30.4M1330.7 1147.2h30.4M1345.9 1132v30.4M1333.9 1147.2h30.4M1349.1 1132v30.4M1337.1 1147.2h30.4M1352.3 1132v30.4M1340.3 1147.2h30.4M1355.5 1132v30.4M1343.5 1147.2h30.4M1358.7 1132v30.4M1346.8 1147.2h30.4M1362 1132v30.4M1350 1147.2h30.4M1365.2 1132v30.4M1353.2 1147.2h30.4M1368.4 1132v30.4M1356.4 1147.2h30.4M1371.6 1132v30.4M1359.7 1147.2h30.4M1374.9 1132v30.4M1362.9 1147.2h30.4M1378.1 1132v30.4M1366.1 1147.2h30.4M1381.3 1132v30.4M1369.3 1147.2h30.4M1384.5 1132v30.4M1372.6 1147.2h30.4M1387.8 1132v30.4M1375.8 1147.2h30.4M1391 1132v30.4M1379 1147.2h30.4M1394.2 1132v30.4M1382.2 1147.2h30.4M1397.4 1132v30.4M1385.5 1147.2h30.4M1400.7 1132v30.4M1388.7 1147.2h30.4M1403.9 1132v30.4M1391.9 1147.2h30.4M1407.1 1132v30.4M1395.1 1147.2h30.4M1410.3 1132v30.4M1398.3 1147.2h30.4M1413.5 1132v30.4M1401.6 1147.2h30.4M1416.8 1132v30.4M1404.8 1147.2h30.4M1420 1132v30.4M1408 1147.2h30.4M1423.2 1132v30.4M1411.2 1147.2h30.4M1426.4 1132v30.4M1414.5 1147.2h30.4M1429.7 1132v30.4M1417.7 1147.2h30.4M1432.9 1132v30.4M1420.9 1147.2h30.4M1436.1 1132v30.4M1424.1 1147.2h30.4M1439.3 1132v30.4M1427.4 1147.2h30.4M1442.6 1132v30.4M1430.6 1147.2h30.4M1445.8 1132v30.4M1433.8 1147.2h30.4M1449 1132v30.4M1437 1147.2h30.4M1452.2 1132v30.4M1440.3 1147.2h30.4M1455.5 1132v30.4M1443.5 1147.2h30.4M1458.7 1132v30.4M1446.7 1147.2h30.4M1461.9 1132v30.4M1449.9 1147.2h30.4M1465.1 1132v30.4M1453.1 1147.2h30.4M1468.3 1132v30.4M1456.4 1147.2h30.4M1471.6 1132v30.4M1459.6 1147.2h30.4M1474.8 1132v30.4M1462.8 1147.2h30.4M1478 1132v30.4M1466 1147.2h30.4M1481.2 1132v30.4M1469.3 1147.2h30.4M1484.5 1132v30.4M1472.5 1147.2h30.4M1487.7 1132v30.4M1475.7 1147.2h30.4M1490.9 1132v30.4M1478.9 1147.2h30.4M1494.1 1132v30.4M1482.2 1147.2h30.4M1497.4 1132v30.4M1485.4 1147.2h30.4M1500.6 1132v30.4M1488.6 1147.2h30.4M1503.8 1132v30.4M1491.8 1147.2h30.4M1507 1132v30.4M1495 1147.2h30.4M1510.2 1132v30.4M1498.3 1147.2h30.4M1513.5 1132v30.4M1501.5 1147.2h30.4M1516.7 1132v30.4M1504.7 1147.2h30.4M1519.9 1132v30.4M1507.9 1147.2h30.4M1523.1 1132v30.4M1511.2 1147.2h30.4M1526.4 1132v30.4M1514.4 1147.2h30.4M1529.6 1132v30.4M1517.6 1147.2h30.4M1532.8 1132v30.4M1520.8 1147.2h30.4M1536 1132v30.4M1524.1 1147.2h30.4M1539.3 1132v30.4M1527.3 1147.2h30.4M1542.5 1132v30.4M1530.5 1147.2h30.4M1545.7 1132v30.4M1533.7 1147.2h30.4M1548.9 1132v30.4M1537 1147.2h30.4M1552.2 1132v30.4M1540.2 1147.2h30.4M1555.4 1132v30.4M1543.4 1147.2h30.4M1558.6 1132v30.4M1546.6 1147.2h30.4M1561.8 1132v30.4M1549.8 1147.2h30.4M1565 1132v30.4M1553.1 1147.2h30.4M1568.3 1132v30.4M1556.3 1147.2h30.4M1571.5 1132v30.4M1559.5 1147.2h30.4M1574.7 1132v30.4M1562.7 1147.2h30.4M1577.9 1132v30.4M1566 1147.2h30.4M1581.2 1132v30.4M1569.2 1147.2h30.4M1584.4 1132v30.4M1572.4 1147.2h30.4M1587.6 1132v30.4M1575.6 1147.2h30.4M1590.8 1132v30.4M1578.9 1147.2h30.4M1594.1 1132v30.4M1582.1 1147.2h30.4M1597.3 1132v30.4M1585.3 1147.2h30.4M1600.5 1132v30.4M1588.5 1147.2h30.4M1603.7 1132v30.4M1591.8 1147.2h30.4M1607 1132v30.4M1595 1147.2h30.4M1610.2 1132v30.4M1598.2 1147.2h30.4M1613.4 1132v30.4M1601.4 1147.2h30.4M1616.6 1132v30.4M1604.6 1147.2h30.4M1619.8 1132v30.4M1607.9 1147.2h30.4M1623.1 1132v30.4M1611.1 1147.2h30.4M1626.3 1132v30.4M1614.3 1147.2h30.4M1629.5 1132v30.4M1617.5 1147.2h30.4M1632.7 1132v30.4M1620.8 1147.2h30.4M1636 1132v30.4M1624 1147.2h30.4M1639.2 1132v30.4M1627.2 1147.2h30.4M1642.4 1132v30.4M1630.4 1147.2h30.4M1645.6 1132v30.4M1633.7 1147.2h30.4M1648.9 1132v30.4M1636.9 1147.2h30.4M1652.1 1132v30.4M1640.1 1147.2h30.4M1655.3 1132v30.4M1643.3 1147.2h30.4M1658.5 1132v30.4M1646.6 1147.2h30.4M1661.8 1132v30.4M1649.8 1147.2h30.4M1665 1132v30.4M1653 1147.2h30.4M1668.2 1132v30.4M1656.2 1147.2h30.4M1671.4 1132v30.4M1659.4 1147.2h30.4M1674.6 1132v30.4M1662.7 1147.2h30.4M1677.9 1132v30.4M1665.9 1147.2h30.4M1681.1 1132v30.4M1669.1 1147.2h30.4M1684.3 1132v30.4M1672.3 1147.2h30.4M1687.5 1132v30.4M1675.6 1147.2h30.4M1690.8 1132v30.4M1678.8 1147.2h30.4M1694 1132v30.4M1682 1147.2h30.4M1697.2 1132v30.4M1685.2 1147.2h30.4M1700.4 1132v30.4M1688.5 1147.2h30.4M1703.7 1132v30.4M1691.7 1147.2h30.4M1706.9 1132v30.4M1694.9 1147.2h30.4M1710.1 1132v30.4M1698.1 1147.2h30.4M1713.3 1132v30.4M1701.4 1147.2h30.4M1716.6 1132v30.4M1704.6 1147.2h30.4M1719.8 1132v30.4M1707.8 1147.2h30.4M1723 1132v30.4M1711 1147.2h30.4M1726.2 1132v30.4M1714.2 1147.2h30.4M1729.4 1132v30.4M1717.5 1147.2h30.4M1732.7 1132v30.4M1720.7 1147.2h30.4M1735.9 1132v30.4M1723.9 1147.2h30.4M1739.1 1132v30.4M1727.1 1147.2h30.4M1742.3 1132v30.4M1730.4 1147.2h30.4M1745.6 1132v30.4M1733.6 1147.2h30.4M1748.8 1132v30.4M1736.8 1147.2h30.4M1752 1132v30.4M1740 1147.2h30.4M1755.2 1132v30.4M1743.3 1147.2h30.4M1758.5 1132v30.4M1746.5 1147.2h30.4M1761.7 1132v30.4M1749.7 1147.2h30.4M1764.9 1132v30.4M1752.9 1147.2h30.4M1768.1 1132v30.4M1756.2 1147.2h30.4M1771.4 1132v30.4M1759.4 1147.2h30.4M1774.6 1132v30.4M1762.6 1147.2h30.4M1777.8 1132v30.4M1765.8 1147.2h30.4M1781 1132v30.4M1769 1147.2h30.4M1784.2 1132v30.4M1772.3 1147.2h30.4M1787.5 1132v30.4M1775.5 1147.2h30.4M1790.7 1132v30.4M1778.7 1147.2h30.4M1793.9 1132v30.4M1781.9 1147.2h30.4M1797.1 1132v30.4M1785.2 1147.2h30.4M1800.4 1132v30.4M1788.4 1147.2h30.4M1803.6 1132v30.4M1791.6 1147.2h30.4M1806.8 1132v30.4M1794.8 1147.2h30.4M1810 1132v30.4M1798.1 1147.2h30.4M1813.3 1132v30.4M1801.3 1147.2h30.4M1816.5 1132v30.4M1804.5 1147.2h30.4M1819.7 1132v30.4M1807.7 1147.2h30.4M1822.9 1132v30.4M1811 1147.2h30.4M1826.2 1132v30.4M1814.2 1147.2h30.4M1829.4 1132v30.4M1817.4 1147.2h30.4M1832.6 1132v30.4M270.1 1061h30.4M285.3 1045.8v30.4M283 1060h30.4M298.2 1044.8v30.4M295.9 1058.9h30.4M311.1 1043.7v30.4M308.8 1058h30.4M324 1042.8v30.4M321.7 1057h30.4M336.9 1041.8v30.4M334.6 1056.1h30.4M349.8 1040.9v30.4M347.5 1055.3h30.4M362.7 1040.1v30.4M360.4 1054.5h30.4M375.6 1039.3v30.4M373.3 1053.8h30.4M388.5 1038.6v30.4M386.2 1053.1h30.4M401.4 1037.9v30.4M399.1 1052.4h30.4M414.3 1037.2v30.4M412 1051.9h30.4M427.2 1036.7v30.4M424.8 1051.3h30.4M440 1036.1v30.4M437.7 1050.9h30.4M452.9 1035.7v30.4M450.6 1050.5h30.4M465.8 1035.3v30.4M463.5 1050.1h30.4M478.7 1034.9v30.4M476.4 1049.8h30.4M491.6 1034.6v30.4M489.3 1049.6h30.4M504.5 1034.4v30.4M502.2 1049.5h30.4M517.4 1034.3v30.4M515.1 1049.4h30.4M530.3 1034.2v30.4M540.9 1049.4h30.4M556.1 1034.2v30.4M553.8 1049.5h30.4M569 1034.3v30.4M566.7 1049.6h30.4M581.9 1034.4v30.4M579.6 1049.8h30.4M594.8 1034.6v30.4M592.5 1050.1h30.4M607.7 1034.9v30.4M605.4 1050.5h30.4M620.6 1035.3v30.4M618.3 1050.9h30.4M633.5 1035.7v30.4M631.2 1051.3h30.4M646.4 1036.1v30.4M644 1051.9h30.4M659.2 1036.7v30.4M656.9 1052.4h30.4M672.1 1037.2v30.4M669.8 1053.1h30.4M685 1037.9v30.4M682.7 1053.8h30.4M697.9 1038.6v30.4M695.6 1054.5h30.4M710.8 1039.3v30.4M708.5 1055.3h30.4M723.7 1040.1v30.4M721.4 1056.1h30.4M736.6 1040.9v30.4M734.3 1057h30.4M749.5 1041.8v30.4M747.2 1058h30.4M762.4 1042.8v30.4M760.1 1058.9h30.4M775.3 1043.7v30.4M773 1060h30.4M788.2 1044.8v30.4M785.9 1061h30.4M801.1 1045.8v30.4M798.8 1062.1h30.4M814 1046.9v30.4M811.7 1063.2h30.4M826.9 1048v30.4M824.6 1064.4h30.4M839.8 1049.2v30.4M837.5 1065.6h30.4M852.7 1050.4v30.4M850.4 1066.8h30.4M865.6 1051.6v30.4M863.2 1068h30.4M878.4 1052.8v30.4M876.1 1069.3h30.4M891.3 1054.1v30.4M889 1070.5h30.4M904.2 1055.3v30.4M901.9 1071.8h30.4M917.1 1056.6v30.4M914.8 1073.2h30.4M930 1058v30.4M927.7 1074.5h30.4M942.9 1059.3v30.4M940.6 1075.8h30.4M955.8 1060.6v30.4M953.5 1077.2h30.4M968.7 1062v30.4M966.4 1078.5h30.4M981.6 1063.3v30.4M979.3 1079.9h30.4M994.5 1064.7v30.4M992.2 1081.2h30.4M1007.4 1066v30.4M1005.1 1082.6h30.4M1020.3 1067.4v30.4M1018 1083.9h30.4M1033.2 1068.7v30.4M1030.9 1085.3h30.4M1046.1 1070.1v30.4M1043.8 1086.6h30.4M1059 1071.4v30.4M1056.7 1088h30.4M1071.9 1072.8v30.4M1069.5 1089.3h30.4M1084.7 1074.1v30.4M1082.4 1090.6h30.4M1097.6 1075.4v30.4M1095.3 1092h30.4M1110.5 1076.8v30.4M1108.2 1093.3h30.4M1123.4 1078.1v30.4M1121.1 1094.6h30.4M1136.3 1079.4v30.4M1134 1095.8h30.4M1149.2 1080.6v30.4M1146.9 1097.1h30.4M1162.1 1081.9v30.4M1159.8 1098.4h30.4M1175 1083.2v30.4M1172.7 1099.6h30.4M1187.9 1084.4v30.4M1185.6 1100.8h30.4M1200.8 1085.6v30.4M1198.5 1102h30.4M1213.7 1086.8v30.4M1211.4 1103.2h30.4M1226.6 1088v30.4M1224.3 1104.4h30.4M1239.5 1089.2v30.4M1237.2 1105.5h30.4M1252.4 1090.3v30.4M1250.1 1106.7h30.4M1265.3 1091.5v30.4M1263 1107.8h30.4M1278.2 1092.6v30.4M1275.9 1108.9h30.4M1291.1 1093.7v30.4M1288.7 1109.9h30.4M1303.9 1094.7v30.4M1301.6 1111h30.4M1316.8 1095.8v30.4M1314.5 1112h30.4M1329.7 1096.8v30.4M1327.4 1113h30.4M1342.6 1097.8v30.4M1340.3 1114h30.4M1355.5 1098.8v30.4M1353.2 1114.9h30.4M1368.4 1099.7v30.4M1366.1 1115.9h30.4M1381.3 1100.7v30.4M1379 1116.8h30.4M1394.2 1101.6v30.4M1391.9 1117.7h30.4M1407.1 1102.5v30.4M1404.8 1118.6h30.4M1420 1103.4v30.4M1417.7 1119.4h30.4M1432.9 1104.2v30.4M1430.6 1120.3h30.4M1445.8 1105.1v30.4M1443.5 1121.1h30.4M1458.7 1105.9v30.4M1456.4 1121.9h30.4M1471.6 1106.7v30.4M1469.3 1122.7h30.4M1484.5 1107.5v30.4M1482.2 1123.4h30.4M1497.4 1108.2v30.4M1495 1124.2h30.4M1510.2 1109v30.4M1507.9 1124.9h30.4M1523.1 1109.7v30.4M1520.8 1125.6h30.4M1536 1110.4v30.4M1533.7 1126.2h30.4M1548.9 1111v30.4M1546.6 1126.9h30.4M1561.8 1111.7v30.4M1559.5 1127.5h30.4M1574.7 1112.3v30.4M1572.4 1128.2h30.4M1587.6 1113v30.4M1585.3 1128.8h30.4M1600.5 1113.6v30.4M1598.2 1129.4h30.4M1613.4 1114.2v30.4M1611.1 1129.9h30.4M1626.3 1114.7v30.4M1624 1130.5h30.4M1639.2 1115.3v30.4M1636.9 1131h30.4M1652.1 1115.8v30.4M1649.8 1131.6h30.4M1665 1116.4v30.4M1662.7 1132.1h30.4M1677.9 1116.9v30.4M1675.6 1132.6h30.4M1690.8 1117.4v30.4M1688.5 1133h30.4M1703.7 1117.8v30.4M1701.4 1133.5h30.4M1716.6 1118.3v30.4M1714.2 1134h30.4M1729.4 1118.8v30.4M1727.1 1134.4h30.4M1742.3 1119.2v30.4M1740 1134.8h30.4M1755.2 1119.6v30.4M1752.9 1135.2h30.4M1768.1 1120v30.4M1765.8 1135.6h30.4M1781 1120.4v30.4M1778.7 1136h30.4M1793.9 1120.8v30.4M1791.6 1136.4h30.4M1806.8 1121.2v30.4M1804.5 1136.7h30.4M1819.7 1121.5v30.4M1817.4 1137.1h30.4M1832.6 1121.9v30.4"/>
</g>
<path fill="#0000ff" d="M284.3 1140.1a1 1 0 1 0 2 0a1 1 0 1 0 -2 0M287.5 1139.5a1 1 0 1 0 2 0a1 1 0 1 0 -2 0M290.8 1138.8a1 1 0 1 0 2 0a1 1 0 1 0 -2 0M294 1138.1a1 1 0 1 0 2 0a1 1 0 1 0 -2 0M297.2 1137.3a1 1 0 1 0 2 0a1 1 0 1 0 -2 0M300.4 1136.5a1 1 0 1 0 2 0a1 1 0 1 0 -2 0M303.7 1135.7a1 1 0 1 0 2 0a1 1 0 1 0 -2 0M306.9 1134.9a1 1 0 1 0 2 0a1 1 0 1 0 -2 0M310.1 1134a1 1 0 1 0 2 0a1 1 0 1 0 -2 0M313.3 1133a1 1 0 1 0 2 0a1 1 0 1 0 -2 0M316.6 1132a1 1 0 1 0 2 0a1 1 0 1 0 -2 0M319.8 1131a1 1 0 1 0 2 0a1 1 0 1 0 -2 0M323 1129.9a1 1 0 1 0 2 0a1 1 0 1 0 -2 0M326.2 1128.7a1 1 0 1 0 2 0a1 1 0 1 0 -2 0M329.4 1127.5a1 1 0 1 0 2 0a1 1 0 1 0 -2 0M332.7 1126.1a1 1 0 1 0 2 0a1 1 0 1 0 -2 0M335.9 1124.7a1 1 0 1 0 2 0a1 1 0 1 0 -2 0M339.1 1123.2a1 1 0 1 0 2 0a1 1 0 1 0 -2 0M342.3 1121.6a1 1 0 1 0 2 0a1 1 0 1 0 -2 0M345.6 1119.9a1 1 0 1 0 2 0a1 1 0 1 0 -2 0M348.8 1118.1a1 1 0 1 0 2 0a1 1 0 1 0 -2 0M352 1116.2a1 1 0 1 0 2 0a1 1 0 1 0 -2 0M355.2 1114.1a1 1 0 1 0 2 0a1 1 0 1 0 -2 0M358.5 1112a1 1 0 1 0 2 0a1 1 0 1 0 -2 0M361.7 1109.7a1 1 0 1 0 2 0a1 1 0 1 0 -2 0M364.9 1107.3a1 1 0 1 0 2 0a1 1 0 1 0 -2 0M368.1 1104.6a1 1 0 1 0 2 0a1 1 0 1 0 -2 0M371.4 1101.7a1 1 0 1 0 2 0a1 1 0 1 0 -2 0M374.6 1098.7a1 1 0 1 0 2 0a1 1 0 1 0 -2 0M377.8 1095.4a1 1 0 1 0 2 0a1 1 0 1 0 -2 0M381 1091.9a1 1 0 1 0 2 0a1 1 0 1 0 -2 0M384.2 1088.1a1 1 0 1 0 2 0a1 1 0 1 0 -2 0M387.5 1084a1 1 0 1 0 2 0a1 1 0 1 0 -2 0M390.7 1079.6a1 1 0 1 0 2 0a1 1 0 1 0 -2 0M393.9 1074.8a1 1 0 1 0 2 0a1 1 0 1 0 -2 0M397.1 1069.6a1 1 0 1 0 2 0a1 1 0 1 0 -2 0M400.4 1063.9a1 1 0 1 0 2 0a1 1 0 1 0 -2 0M403.6 1057.8a1 1 0 1 0 2 0a1 1 0 1 0 -2 0M406.8 1051a1 1 0 1 0 2 0a1 1 0 1 0 -2 0M410 1043.6a1 1 0 1 0 2 0a1 1 0 1 0 -2 0M413.3 1035.4a1 1 0 1 0 2 0a1 1 0 1 0 -2 0M416.5 1025.6a1 1 0 1 0 2 0a1 1 0 1 0 -2 0M419.7 1015.5a1 1 0 1 0 2 0a1 1 0 1 0 -2 0M422.9 1007.1a1 1 0 1 0 2 0a1 1 0 1 0 -2 0M426.2 999.1a1 1 0 1 0 2 0a1 1 0 1 0 -2 0M429.4 987.8a1 1 0 1 0 2 0a1 1 0 1 0 -2 0M432.6 975.5a1 1 0 1 0 2 0a1 1 0 1 0 -2 0M435.8 961.6a1 1 0 1 0 2 0a1 1 0 1 0 -2 0M439 947.7a1 1 0 1 0 2 0a1 1 0 1 0 -2 0M442.3 933.8a1 1 0 1 0 2 0a1 1 0 1 0 -2 0M445.5 917.7a1 1 0 1 0 2 0a1 1 0 1 0 -2 0M448.7 900.5a1 1 0 1 0 2 0a1 1 0 1 0 -2 0M451.9 883.2a1 1 0 1 0 2 0a1 1 0 1 0 -2 0M455.2 863.3a1 1 0 1 0 2 0a1 1 0 1 0 -2 0M458.4 842.5a1 1 0 1 0 2 0a1 1 0 1 0 -2 0M461.6 820.6a1 1 0 1 0 2 0a1 1 0 1 0 -2 0M464.8 797.3a1 1 0 1 0 2 0a1 1 0 1 0 -2 0M468.1 771.8a1 1 0 1 0 2 0a1 1 0 1 0 -2 0M471.3 746a1 1 0 1 0 2 0a1 1 0 1 0 -2 0M474.5 719a1 1 0 1 0 2 0a1 1 0 1 0 -2 0M477.7 689.3a1 1 0 1 0 2 0a1 1 0 1 0 -2 0M481 659.3a1 1 0 1 0 2 0a1 1 0 1 0 -2 0M484.2 628.2a1 1 0 1 0 2 0a1 1 0 1 0 -2 0M487.4 595.6a1 1 0 1 0 2 0a1 1 0 1 0 -2 0M490.6 563a1 1 0 1 0 2 0a1 1 0 1 0 -2 0M493.8 528.8a1 1 0 1 0 2 0a1 1 0 1 0 -2 0M497.1 494.7a1 1 0 1 0 2 0a1 1 0 1 0 -2 0M500.3 459.8a1 1 0 1 0 2 0a1 1 0 1 0 -2 0M503.5 425.7a1 1 0 1 0 2 0a1 1 0 1 0 -2 0M506.7 392.3a1 1 0 1 0 2 0a1 1 0 1 0 -2 0M510 359a1 1 0 1 0 2 0a1 1 0 1 0 -2 0M513.2 327.1a1 1 0 1 0 2 0a1 1 0 1 0 -2 0M516.4 297.8a1 1 0 1 0 2 0a1 1 0 1 0 -2 0M519.6 270.1a1 1 0 1 0 2 0a1 1 0 1 0 -2 0M522.9 245.3a1 1 0 1 0 2 0a1 1 0 1 0 -2 0M526.1 223.2a1 1 0 1 0 2 0a1 1 0 1 0 -2 0M529.3 204.1a1 1 0 1 0 2 0a1 1 0 1 0 -2 0M532.5 192.1a1 1 0 1 0 2 0a1 1 0 1 0 -2 0M535.8 181.8a1 1 0 1 0 2 0a1 1 0 1 0 -2 0M539 174.6a1 1 0 1 0 2 0a1 1 0 1 0 -2 0M542.2 171.8a1 1 0 1 0 2 0a1 1 0 1 0 -2 0M545.4 174.6a1 1 0 1 0 2 0a1 1 0 1 0 -2 0M548.6 181.8a1 1 0 1 0 2 0a1 1 0 1 0 -2 0M551.9 192.1a1 1 0 1 0 2 0a1 1 0 1 0 -2 0M555.1 204.1a1 1 0 1 0 2 0a1 1 0 1 0 -2 0M558.3 223.2a1 1 0 1 0 2 0a1 1 0 1 0 -2 0M561.5 245.3a1 1 0 1 0 2 0a1 1 0 1 0 -2 0M564.8 270.1a1 1 0 1 0 2 0a1 1 0 1 0 -2 0M568 297.8a1 1 0 1 0 2 0a1 1 0 1 0 -2 0M571.2 327.1a1 1 0 1 0 2 0a1 1 0 1 0 -2 0M574.4 359a1 1 0 1 0 2 0a1 1 0 1 0 -2 0M577.7 392.3a1 1 0 1 0 2 0a1 1 0 1 0 -2 0M580.9 425.7a1 1 0 1 0 2 0a1 1 0 1 0 -2 0M584.1 459.8a1 1 0 1 0 2 0a1 1 0 1 0 -2 0M587.3 494.7a1 1 0 1 0 2 0a1 1 0 1 0 -2 0M590.6 528.8a1 1 0 1 0 2 0a1 1 0 1 0 -2 0M593.8 563a1 1 0 1 0 2 0a1 1 0 1 0 -2 0M597 595.6a1 1 0 1 0 2 0a1 1 0 1 0 -2 0M600.2 628.2a1 1 0 1 0 2 0a1 1 0 1 0 -2 0M603.4 659.3a1 1 0 1 0 2 0a1 1 0 1 0 -2 0M606.7 689.3a1 1 0 1 0 2 0a1 1 0 1 0 -2 0M609.9 719a1 1 0 1 0 2 0a1 1 0 1 0 -2 0M613.1 746a1 1 0 1 0 2 0a1 1 0 1 0 -2 0M616.3 771.8a1 1 0 1 0 2 0a1 1 0 1 0 -2 0M619.6 797.3a1 1 0 1 0 2 0a1 1 0 1 0 -2 0M622.8 820.6a1 1 0 1 0 2 0a1 1 0 1 0 -2 0M626 842.5a1 1 0 1 0 2 0a1 1 0 1 0 -2 0M629.2 863.3a1 1 0 1 0 2 0a1 1 0 1 0 -2 0M632.5 883.2a1 1 0 1 0 2 0a1 1 0 1 0 -2 0M635.7 900.5a1 1 0 1 0 2 0a1 1 0 1 0 -2 0M638.9 917.7a1 1 0 1 0 2 0a1 1 0 1 0 -2 0M642.1 933.8a1 1 0 1 0 2 0a1 1 0 1 0 -2 0M645.4 947.7a1 1 0 1 0 2 0a1 1 0 1 0 -2 0M648.6 961.6a1 1 0 1 0 2 0a1 1 0 1 0 -2 0M651.8 975.5a1 1 0 1 0 2 0a1 1 0 1 0 -2 0M655 987.8a1 1 0 1 0 2 0a1 1 0 1 0 -2 0M658.2 999.1a1 1 0 1 0 2 0a1 1 0 1 0 -2 0M661.5 1007.1a1 1 0 1 0 2 0a1 1 0 1 0 -2 0M664.7 1015.5a1 1 0 1 0 2 0a1 1 0 1 0 -2 0M667.9 1025.6a1 1 0 1 0 2 0a1 1 0 1 0 -2 0M671.1 1035.4a1 1 0 1 0 2 0a1 1 0 1 0 -2 0M674.4 1043.6a1 1 0 1 0 2 0a1 1 0 1 0 -2 0M677.6 1051a1 1 0 1 0 2 0a1 1 0 1 0 -2 0M680.8 1057.8a1 1 0 1 0 2 0a1 1 0 1 0 -2 0M684 1063.9a1 1 0 1 0 2 0a1 1 0 1 0 -2 0M687.3 1069.6a1 1 0 1 0 2 0a1 1 0 1 0 -2 0M690.5 1074.8a1 1 0 1 0 2 0a1 1 0 1 0 -2 0M693.7 1079.6a1 1 0 1 0 2 0a1 1 0 1 0 -2 0M696.9 1084a1 1 0 1 0 2 0a1 1 0 1 0 -2 0M700.2 1088.1a1 1 0 1 0 2 0a1 1 0 1 0 -2 0M703.4 1091.9a1 1 0 1 0 2 0a1 1 0 1 0 -2 0M706.6 1095.4a1 1 0 1 0 2 0a1 1 0 1 0 -2 0M709.8 1098.7a1 1 0 1 0 2 0a1 1 0 1 0 -2 0M713 1101.7a1 1 0 1 0 2 0a1 1 0 1 0 -2 0M716.3 1104.6a1 1 0 1 0 2 0a1 1 0 1 0 -2 0M719.5 1107.3a1 1 0 1 0 2 0a1 1 0 1 0 -2 0M722.7 1109.7a1 1 0 1 0 2 0a1 1 0 1 0 -2 0M725.9 1112a1 1 0 1 0 2 0a1 1 0 1 0 -2 0M729.2 1114.1a1 1 0 1 0 2 0a1 1 0 1 0 -2 0M732.4 1116.2a1 1 0 1 0 2 0a1 1 0 1 0 -2 0M735.6 1118.1a1 1 0 1 0 2 0a1 1 0 1 0 -2 0M738.8 1119.9a1 1 0 1 0 2 0a1 1 0 1 0 -2 0M742.1 1121.6a1 1 0 1 0 2 0a1 1 0 1 0 -2 0M745.3 1123.2a1 1 0 1 0 2 0a1 1 0 1 0 -2 0M748.5 1124.7a1 1 0 1 0 2 0a1 1 0 1 0 -2 0M751.7 1126.1a1 1 0 1 0 2 0a1 1 0 1 0 -2 0M755 1127.5a1 1 0 1 0 2 0a1 1 0 1 0 -2 0M758.2 1128.7a1 1 0 1 0 2 0a1 1 0 1 0 -2 0M761.4 1129.9a1 1 0 1 0 2 0a1 1 0 1 0 -2 0M764.6 1131a1 1 0 1 0 2 0a1 1 0 1 0 -2 0M767.8 1132a1 1 0 1 0 2 0a1 1 0 1 0 -2 0M771.1 1133a1 1 0 1 0 2 0a1 1 0 1 0 -2 0M774.3 1134a1 1 0 1 0 2 0a1 1 0 1 0 -2 0M777.5 1134.9a1 1 0 1 0 2 0a1 1 0 1 0 -2 0M780.7 1135.7a1 1 0 1 0 2 0a1 1 0 1 0 -2 0M784 1136.5a1 1 0 1 0 2 0a1 1 0 1 0 -2 0M787.2 1137.3a1 1 0 1 0 2 0a1 1 0 1 0 -2 0M790.4 1138.1a1 1 0 1 0 2 0a1 1 0 1 0 -2 0M793.6 1138.8a1 1 0 1 0 2 0a1 1 0 1 0 -2 0M796.9 1139.5a1 1 0 1 0 2 0a1 1 0 1 0 -2 0M800.1 1140.1a1 1 0 1 0 2 0a1 1 0 1 0 -2 0M803.3 1140.6a1 1 0 1 0 2 0a1 1 0 1 0 -2 0M806.5 1141.1a1 1 0 1 0 2 0a1 1 0 1 0 -2 0M809.8 1141.5a1 1 0 1 0 2 0a1 1 0 1 0 -2 0M813 1141.9a1 1 0 1 0 2 0a1 1 0 1 0 -2 0M816.2 1142.3a1 1 0 1 0 2 0a1 1 0 1 0 -2 0M819.4 1142.6a1 1 0 1 0 2 0a1 1 0 1 0 -2 0M822.6 1143a1 1 0 1 0 2 0a1 1 0 1 0 -2 0M825.9 1143.3a1 1 0 1 0 2 0a1 1 0 1 0 -2 0M829.1 1143.5a1 1 0 1 0 2 0a1 1 0 1 0 -2 0M832.3 1143.8a1 1 0 1 0 2 0a1 1 0 1 0 -2 0M835.5 1144.1a1 1 0 1 0 2 0a1 1 0 1 0 -2 0M838.8 1144.3a1 1 0 1 0 2 0a1 1 0 1 0 -2 0M842 1144.5a1 1 0 1 0 2 0a1 1 0 1 0 -2 0M845.2 1144.7a1 1 0 1 0 2 0a1 1 0 1 0 -2 0M848.4 1144.9a1 1 0 1 0 2 0a1 1 0 1 0 -2 0M851.7 1145a1 1 0 1 0 2 0a1 1 0 1 0 -2 0M854.9 1145.2a1 1 0 1 0 2 0a1 1 0 1 0 -2 0M858.1 1145.3a1 1 0 1 0 2 0a1 1 0 1 0 -2 0M861.3 1145.5a1 1 0 1 0 2 0a1 1 0 1 0 -2 0M864.6 1145.6a1 1 0 1 0 2 0a1 1 0 1 0 -2 0M867.8 1145.7a1 1 0 1 0 2 0a1 1 0 1 0 -2 0M871 1145.8a1 1 0 1 0 2 0a1 1 0 1 0 -2 0M874.2 1145.9a1 1 0 1 0 2 0a1 1 0 1 0 -2 0M877.4 1146a1 1 0 1 0 2 0a1 1 0 1 0 -2 0M880.7 1146.1a1 1 0 1 0 2 0a1 1 0 1 0 -2 0M883.9 1146.2a1 1 0 1 0 2 0a1 1 0 1 0 -2 0M887.1 1146.3a1 1 0 1 0 2 0a1 1 0 1 0 -2 0M890.3 1146.3a1 1 0 1 0 2 0a1 1 0 1 0 -2 0M893.6 1146.4a1 1 0 1 0 2 0a1 1 0 1 0 -2 0M896.8 1146.4a1 1 0 1 0 2 0a1 1 0 1 0 -2 0M900 1146.5a1 1 0 1 0 2 0a1 1 0 1 0 -2 0M903.2 1146.5a1 1 0 1 0 2 0a1 1 0 1 0 -2 0M906.5 1146.6a1 1 0 1 0 2 0a1 1 0 1 0 -2 0M909.7 1146.6a1 1 0 1 0 2 0a1 1 0 1 0 -2 0M912.9 1146.7a1 1 0 1 0 2 0a1 1 0 1 0 -2 0M916.1 1146.7a1 1 0 1 0 2 0a1 1 0 1 0 -2 0M919.3 1146.8a1 1 0 1 0 2 0a1 1 0 1 0 -2 0M922.6 1146.8a1 1 0 1 0 2 0a1 1 0 1 0 -2 0M925.8 1146.8a1 1 0 1 0 2 0a1 1 0 1 0 -2 0M929 1146.8a1 1 0 1 0 2 0a1 1 0 1 0 -2 0M932.2 1146.9a1 1 0 1 0 2 0a1 1 0 1 0 -2 0M935.5 1146.9a1 1 0 1 0 2 0a1 1 0 1 0 -2 0M938.7 1146.9a1 1 0 1 0 2 0a1 1 0 1 0 -2 0M941.9 1146.9a1 1 0 1 0 2 0a1 1 0 1 0 -2 0M945.1 1147a1 1 0 1 0 2 0a1 1 0 1 0 -2 0M948.4 1147a1 1 0 1 0 2 0a1 1 0 1 0 -2 0M951.6 1147a1 1 0 1 0 2 0a1 1 0 1 0 -2 0M954.8 1147a1 1 0 1 0 2 0a1 1 0 1 0 -2 0M958 1147a1 1 0 1 0 2 0a1 1 0 1 0 -2 0M961.3 1147a1 1 0 1 0 2 0a1 1 0 1 0 -2 0M964.5 1147a1 1 0 1 0 2 0a1 1 0 1 0 -2 0M967.7 1147.1a1 1 0 1 0 2 0a1 1 0 1 0 -2 0M970.9 1147.1a1 1 0 1 0 2 0a1 1 0 1 0 -2 0M974.1 1147.1a1 1 0 1 0 2 0a1 1 0 1 0 -2 0M977.4 1147.1a1 1 0 1 0 2 0a1 1 0 1 0 -2 0M980.6 1147.1a1 1 0 1 0 2 0a1 1 0 1 0 -2 0M983.8 1147.1a1 1 0 1 0 2 0a1 1 0 1 0 -2 0M987 1147.1a1 1 0 1 0 2 0a1 1 0 1 0 -2 0M990.3 1147.1a1 1 0 1 0 2 0a1 1 0 1 0 -2 0M993.5 1147.1a1 1 0 1 0 2 0a1 1 0 1 0 -2 0M996.7 1147.1a1 1 0 1 0 2 0a1 1 0 1 0 -2 0M999.9 1147.1a1 1 0 1 0 2 0a1 1 0 1 0 -2 0M1003.2 1147.1a1 1 0 1 0 2 0a1 1 0 1 0 -2 0M1006.4 1147.1a1 1 0 1 0 2 0a1 1 0 1 0 -2 0M1009.6 1147.1a1 1 0 1 0 2 0a1 1 0 1 0 -2 0M1012.8 1147.1a1 1 0 1 0 2 0a1 1 0 1 0 -2 0M1016.1 1147.2a1 1 0 1 0 2 0a1 1 0 1 0 -2 0M1019.3 1147.2a1 1 0 1 0 2 0a1 1 0 1 0 -2 0M1022.5 1147.2a1 1 0 1 0 2 0a1 1 0 1 0 -2 0M1025.7 1147.2a1 1 0 1 0 2 0a1 1 0 1 0 -2 0M1028.9 1147.2a1 1 0 1 0 2 0a1 1 0 1 0 -2 0M1032.2 1147.2a1 1 0 1 0 2 0a1 1 0 1 0 -2 0M1035.4 1147.2a1 1 0 1 0 2 0a1 1 0 1 0 -2 0M1038.6 1147.2a1 1 0 1 0 2 0a1 1 0 1 0 -2 0M1041.8 1147.2a1 1 0 1 0 2 0a1 1 0 1 0 -2 0M1045.1 1147.2a1 1 0 1 0 2 0a1 1 0 1 0 -2 0M1048.3 1147.2a1 1 0 1 0 2 0a1 1 0 1 0 -2 0M1051.5 1147.2a1 1 0 1 0 2 0a1 1 0 1 0 -2 0M1054.7 1147.2a1 1 0 1 0 2 0a1 1 0 1 0 -2 0M1058 1147.2a1 1 0 1 0 2 0a1 1 0 1 0 -2 0M1061.2 1147.2a1 1 0 1 0 2 0a1 1 0 1 0 -2 0M1064.4 1147.2a1 1 0 1 0 2 0a1 1 0 1 0 -2 0M1067.6 1147.2a1 1 0 1 0 2 0a1 1 0 1 0 -2 0M1070.9 1147.2a1 1 0 1 0 2 0a1 1 0 1 0 -2 0M1074.1 1147.2a1 1 0 1 0 2 0a1 1 0 1 0 -2 0M1077.3 1147.2a1 1 0 1 0 2 0a1 1 0 1 0 -2 0M1080.5 1147.2a1 1 0 1 0 2 0a1 1 0 1 0 -2 0M1083.7 1147.2a1 1 0 1 0 2 0a1 1 0 1 0 -2 0M1087 1147.2a1 1 0 1 0 2 0a1 1 0 1 0 -2 0M1090.2 1147.2a1 1 0 1 0 2 0a1 1 0 1 0 -2 0M1093.4 1147.2a1 1 0 1 0 2 0a1 1 0 1 0 -2 0M1096.6 1147.2a1 1 0 1 0 2 0a1 1 0 1 0 -2 0M1099.9 1147.2a1 1 0 1 0 2 0a1 1 0 1 0 -2 0M1103.1 1147.2a1 1 0 1 0 2 0a1 1 0 1 0 -2 0M1106.3 1147.2a1 1 0 1 0 2 0a1 1 0 1 0 -2 0M1109.5 1147.2a1 1 0 1 0 2 0a1 1 0 1 0 -2 0M1112.8 1147.2a1 1 0 1 0 2 0a1 1 0 1 0 -2 0M1116 1147.2a1 1 0 1 0 2 0a1 1 0 1 0 -2 0M1119.2 1147.2a1 1 0 1 0 2 0a1 1 0 1 0 -2 0M1122.4 1147.2a1 1 0 1 0 2 0a1 1 0 1 0 -2 0M1125.7 1147.2a1 1 0 1 0 2 0a1 1 0 1 0 -2 0M1128.9 1147.2a1 1 0 1 0 2 0a1 1 0 1 0 -2 0M1132.1 1147.2a1 1 0 1 0 2 0a1 1 0 1 0 -2 0M1135.3 1147.2a1 1 0 1 0 2 0a1 1 0 1 0 -2 0M1138.5 1147.2a1 1 0 1 0 2 0a1 1 0 1 0 -2 0M1141.8 1147.2a1 1 0 1 0 2 0a1 1 0 1 0 -2 0M1145 1147.2a1 1 0 1 0 2 0a1 1 0 1 0 -2 0M1148.2 1147.2a1 1 0 1 0 2 0a1 1 0 1 0 -2 0M1151.4 1147.2a1 1 0 1 0 2 0a1 1 0 1 0 -2 0M1154.7 1147.2a1 1 0 1 0 2 0a1 1 0 1 0 -2 0M1157.9 1147.2a1 1 0 1 0 2 0a1 1 0 1 0 -2 0M1161.1 1147.2a1 1 0 1 0 2 0a1 1 0 1 0 -2 0M1164.3 1147.2a1 1 0 1 0 2 0a1 1 0 1 0 -2 0M1167.6 1147.2a1 1 0 1 0 2 0a1 1 0 1 0 -2 0M1170.8 1147.2a1 1 0 1 0 2 0a1 1 0 1 0 -2 0M1174 1147.2a1 1 0 1 0 2 0a1 1 0 1 0 -2 0M1177.2 1147.2a1 1 0 1 0 2 0a1 1 0 1 0 -2 0M1180.5 1147.2a1 1 0 1 0 2 0a1 1 0 1 0 -2 0M1183.7 1147.2a1 1 0 1 0 2 0a1 1 0 1 0 -2 0M1186.9 1147.2a1 1 0 1 0 2 0a1 1 0 1 0 -2 0M1190.1 1147.2a1 1 0 1 0 2 0a1 1 0 1 0 -2 0M1193.3 1147.2a1 1 0 1 0 2 0a1 1 0 1 0 -2 0M1196.6 1147.2a1 1 0 1 0 2 0a1 1 0 1 0 -2 0M1199.8 1147.2a1 1 0 1 0 2 0a1 1 0 1 0 -2 0M1203 1147.2a1 1 0 1 0 2 0a1 1 0 1 0 -2 0M1206.2 1147.2a1 1 0 1 0 2 0a1 1 0 1 0 -2 0M1209.5 1147.2a1 1 0 1 0 2 0a1 1 0 1 0 -2 0M1212.7 1147.2a1 1 0 1 0 2 0a1 1 0 1 0 -2 0M1215.9 1147.2a1 1 0 1 0 2 0a1 1 0 1 0 -2 0M1219.1 1147.2a1 1 0 1 0 2 0a1 1 0 1 0 -2 0M1222.4 1147.2a1 1 0 1 0 2 0a1 1 0 1 0 -2 0M1225.6 1147.2a1 1 0 1 0 2 0a1 1 0 1 0 -2 0M1228.8 1147.2a1 1 0 1 0 2 0a1 1 0 1 0 -2 0M1232 1147.2a1 1 0 1 0 2 0a1 1 0 1 0 -2 0M1235.3 1147.2a1 1 0 1 0 2 0a1 1 0 1 0 -2 0M1238.5 1147.2a1 1 0 1 0 2 0a1 1 0 1 0 -2 0M1241.7 1147.2a1 1 0 1 0 2 0a1 1 0 1 0 -2 0M1244.9 1147.2a1 1 0 1 0 2 0a1 1 0 1 0 -2 0M1248.1 1147.2a1 1 0 1 0 2 0a1 1 0 1 0 -2 0M1251.4 1147.2a1 1 0 1 0 2 0a1 1 0 1 0 -2 0M1254.6 1147.2a1 1 0 1 0 2 0a1 1 0 1 0 -2 0M1257.8 1147.2a1 1 0 1 0 2 0a1 1 0 1 0 -2 0M1261 1147.2a1 1 0 1 0 2 0a1 1 0 1 0 -2 0M1264.3 1147.2a1 1 0 1 0 2 0a1 1 0 1 0 -2 0M1267.5 1147.2a1 1 0 1 0 2 0a1 1 0 1 0 -2 0M1270.7 1147.2a1 1 0 1 0 2 0a1 1 0 1 0 -2 0M1273.9 1147.2a1 1 0 1 0 2 0a1 1 0 1 0 -2 0M1277.2 1147.2a1 1 0 1 0 2 0a1 1 0 1 0 -2 0M1280.4 1147.2a1 1 0 1 0 2 0a1 1 0 1 0 -2 0M1283.6 1147.2a1 1 0 1 0 2 0a1 1 0 1 0 -2 0M1286.8 1147.2a1 1 0 1 0 2 0a1 1 0 1 0 -2 0M1290.1 1147.2a1 1 0 1 0 2 0a1 1 0 1 0 -2 0M1293.3 1147.2a1 1 0 1 0 2 0a1 1 0 1 0 -2 0M1296.5 1147.2a1 1 0 1 0 2 0a1 1 0 1 0 -2 0M1299.7 1147.2a1 1 0 1 0 2 0a1 1 0 1 0 -2 0M1302.9 1147.2a1 1 0 1 0 2 0a1 1 0 1 0 -2 0M1306.2 1147.2a1 1 0 1 0 2 0a1 1 0 1 0 -2 0M1309.4 1147.2a1 1 0 1 0 2 0a1 1 0 1 0 -2 0M1312.6 1147.2a1 1 0 1 0 2 0a1 1 0 1 0 -2 0M1315.8 1147.2a1 1 0 1 0 2 0a1 1 0 1 0 -2 0M1319.1 1147.2a1 1 0 1 0 2 0a1 1 0 1 0 -2 0M1322.3 1147.2a1 1 0 1 0 2 0a1 1 0 1 0 -2 0M1325.5 1147.2a1 1 0 1 0 2 0a1 1 0 1 0 -2 0M1328.7 1147.2a1 1 0 1 0 2 0a1 1 0 1 0 -2 0M1332 1147.2a1 1 0 1 0 2 0a1 1 0 1 0 -2 0M1335.2 1147.2a1 1 0 1 0 2 0a1 1 0 1 0 -2 0M1338.4 1147.2a1 1 0 1 0 2 0a1 1 0 1 0 -2 0M1341.6 1147.2a1 1 0 1 0 2 0a1 1 0 1 0 -2 0M1344.9 1147.2a1 1 0 1 0 2 0a1 1 0 1 0 -2 0M1348.1 1147.2a1 1 0 1 0 2 0a1 1 0 1 0 -2 0M1351.3 1147.2a1 1 0 1 0 2 0a1 1 0 1 0 -2 0M1354.5 1147.2a1 1 0 1 0 2 0a1 1 0 1 0 -2 0M1357.7 1147.2a1 1 0 1 0 2 0a1 1 0 1 0 -2 0M1361 1147.2a1 1 0 1 0 2 0a1 1 0 1 0 -2 0M1364.2 1147.2a1 1 0 1 0 2 0a1 1 0 1 0 -2 0M1367.4 1147.2a1 1 0 1 0 2 0a1 1 0 1 0 -2 0M1370.6 1147.2a1 1 0 1 0 2 0a1 1 0 1 0 -2 0M1373.9 1147.2a1 1 0 1 0 2 0a1 1 0 1 0 -2 0M1377.1 1147.2a1 1 0 1 0 2 0a1 1 0 1 0 -2 0M1380.3 1147.2a1 1 0 1 0 2 0a1 1 0 1 0 -2 0M1383.5 1147.2a1 1 0 1 0 2 0a1 1 0 1 0 -2 0M1386.8 1147.2a1 1 0 1 0 2 0a1 1 0 1 0 -2 0M1390 1147.2a1 1 0 1 0 2 0a1 1 0 1 0 -2 0M1393.2 1147.2a1 1 0 1 0 2 0a1 1 0 1 0 -2 0M1396.4 1147.2a1 1 0 1 0 2 0a1 1 0 1 0 -2 0M1399.7 1147.2a1 1 0 1 0 2 0a1 1 0 1 0 -2 0M1402.9 1147.2a1 1 0 1 0 2 0a1 1 0 1 0 -2 0M1406.1 1147.2a1 1 0 1 0 2 0a1 1 0 1 0 -2 0M1409.3 1147.2a1 1 0 1 0 2 0a1 1 0 1 0 -2 0M1412.5 1147.2a1 1 0 1 0 2 0a1 1 0 1 0 -2 0M1415.8 1147.2a1 1 0 1 0 2 0a1 1 0 1 0 -2 0M1419 1147.2a1 1 0 1 0 2 0a1 1 0 1 0 -2 0M1422.2 1147.2a1 1 0 1 0 2 0a1 1 0 1 0 -2 0M1425.4 1147.2a1 1 0 1 0 2 0a1 1 0 1 0 -2 0M1428.7 1147.2a1 1 0 1 0 2 0a1 1 0 1 0 -2 0M1431.9 1147.2a1 1 0 1 0 2 0a1 1 0 1 0 -2 0M1435.1 1147.2a1 1 0 1 0 2 0a1 1 0 1 0 -2 0M1438.3 1147.2a1 1 0 1 0 2 0a1 1 0 1 0 -2 0M1441.6 1147.2a1 1 0 1 0 2 0a1 1 0 1 0 -2 0M1444.8 1147.2a1 1 0 1 0 2 0a1 1 0 1 0 -2 0M1448 1147.2a1 1 0 1 0 2 0a1 1 0 1 0 -2 0M1451.2 1147.2a1 1 0 1 0 2 0a1 1 0 1 0 -2 0M1454.5 1147.2a1 1 0 1 0 2 0a1 1 0 1 0 -2 0M1457.7 1147.2a1 1 0 1 0 2 0a1 1 0 1 0 -2 0M1460.9 1147.2a1 1 0 1 0 2 0a1 1 0 1 0 -2 0M1464.1 1147.2a1 1 0 1 0 2 0a1 1 0 1 0 -2 0M1467.3 1147.2a1 1 0 1 0 2 0a1 1 0 1 0 -2 0M1470.6 1147.2a1 1 0 1 0 2 0a1 1 0 1 0 -2 0M1473.8 1147.2a1 1 0 1 0 2 0a1 1 0 1 0 -2 0M1477 1147.2a1 1 0 1 0 2 0a1 1 0 1 0 -2 0M1480.2 1147.2a1 1 0 1 0 2 0a1 1 0 1 0 -2 0M1483.5 1147.2a1 1 0 1 0 2 0a1 1 0 1 0 -2 0M1486.7 1147.2a1 1 0 1 0 2 0a1 1 0 1 0 -2 0M1489.9 1147.2a1 1 0 1 0 2 0a1 1 0 1 0 -2 0M1493.1 1147.2a1 1 0 1 0 2 0a1 1 0 1 0 -2 0M1496.4 1147.2a1 1 0 1 0 2 0a1 1 0 1 0 -2 0M1499.6 1147.2a1 1 0 1 0 2 0a1 1 0 1 0 -2 0M1502.8 1147.2a1 1 0 1 0 2 0a1 1 0 1 0 -2 0M1506 1147.2a1 1 0 1 0 2 0a1 1 0 1 0 -2 0M1509.2 1147.2a1 1 0 1 0 2 0a1 1 0 1 0 -2 0M1512.5 1147.2a1 1 0 1 0 2 0a1 1 0 1 0 -2 0M1515.7 1147.2a1 1 0 1 0 2 0a1 1 0 1 0 -2 0M1518.9 1147.2a1 1 0 1 0 2 0a1 1 0 1 0 -2 0M1522.1 1147.2a1 1 0 1 0 2 0a1 1 0 1 0 -2 0M1525.4 1147.2a1 1 0 1 0 2 0a1 1 0 1 0 -2 0M1528.6 1147.2a1 1 0 1 0 2 0a1 1 0 1 0 -2 0M1531.8 1147.2a1 1 0 1 0 2 0a1 1 0 1 0 -2 0M1535 1147.2a1 1 0 1 0 2 0a1 1 0 1 0 -2 0M1538.3 1147.2a1 1 0 1 0 2 0a1 1 0 1 0 -2 0M1541.5 1147.2a1 1 0 1 0 2 0a1 1 0 1 0 -2 0M1544.7 1147.2a1 1 0 1 0 2 0a1 1 0 1 0 -2 0M1547.9 1147.2a1 1 0 1 0 2 0a1 1 0 1 0 -2 0M1551.2 1147.2a1 1 0 1 0 2 0a1 1 0 1 0 -2 0M1554.4 1147.2a1 1 0 1 0 2 0a1 1 0 1 0 -2 0M1557.6 1147.2a1 1 0 1 0 2 0a1 1 0 1 0 -2 0M1560.8 1147.2a1 1 0 1 0 2 0a1 1 0 1 0 -2 0M1564 1147.2a1 1 0 1 0 2 0a1 1 0 1 0 -2 0M1567.3 1147.2a1 1 0 1 0 2 0a1 1 0 1 0 -2 0M1570.5 1147.2a1 1 0 1 0 2 0a1 1 0 1 0 -2 0M1573.7 1147.2a1 1 0 1 0 2 0a1 1 0 1 0 -2 0M1576.9 1147.2a1 1 0 1 0 2 0a1 1 0 1 0 -2 0M1580.2 1147.2a1 1 0 1 0 2 0a1 1 0 1 0 -2 0M1583.4 1147.2a1 1 0 1 0 2 0a1 1 0 1 0 -2 0M1586.6 1147.2a1 1 0 1 0 2 0a1 1 0 1 0 -2 0M1589.8 1147.2a1 1 0 1 0 2 0a1 1 0 1 0 -2 0M1593.1 1147.2a1 1 0 1 0 2 0a1 1 0 1 0 -2 0M1596.3 1147.2a1 1 0 1 0 2 0a1 1 0 1 0 -2 0M1599.5 1147.2a1 1 0 1 0 2 0a1 1 0 1 0 -2 0M1602.7 1147.2a1 1 0 1 0 2 0a1 1 0 1 0 -2 0M1606 1147.2a1 1 0 1 0 2 0a1 1 0 1 0 -2 0M1609.2 1147.2a1 1 0 1 0 2 0a1 1 0 1 0 -2 0M1612.4 1147.2a1 1 0 1 0 2 0a1 1 0 1 0 -2 0M1615.6 1147.2a1 1 0 1 0 2 0a1 1 0 1 0 -2 0M1618.8 1147.2a1 1 0 1 0 2 0a1 1 0 1 0 -2 0M1622.1 1147.2a1 1 0 1 0 2 0a1 1 0 1 0 -2 0M1625.3 1147.2a1 1 0 1 0 2 0a1 1 0 1 0 -2 0M1628.5 1147.2a1 1 0 1 0 2 0a1 1 0 1 0 -2 0M1631.7 1147.2a1 1 0 1 0 2 0a1 1 0 1 0 -2 0M1635 1147.2a1 1 0 1 0 2 0a1 1 0 1 0 -2 0M1638.2 1147.2a1 1 0 1 0 2 0a1 1 0 1 0 -2 0M1641.4 1147.2a1 1 0 1 0 2 0a1 1 0 1 0 -2 0M1644.6 1147.2a1 1 0 1 0 2 0a1 1 0 1 0 -2 0M1647.9 1147.2a1 1 0 1 0 2 0a1 1 0 1 0 -2 0M1651.1 1147.2a1 1 0 1 0 2 0a1 1 0 1 0 -2 0M1654.3 1147.2a1 1 0 1 0 2 0a1 1 0 1 0 -2 0M1657.5 1147.2a1 1 0 1 0 2 0a1 1 0 1 0 -2 0M1660.8 1147.2a1 1 0 1 0 2 0a1 1 0 1 0 -2 0M1664 1147.2a1 1 0 1 0 2 0a1 1 0 1 0 -2 0M1667.2 1147.2a1 1 0 1 0 2 0a1 1 0 1 0 -2 0M1670.4 1147.2a1 1 0 1 0 2 0a1 1 0 1 0 -2 0M1673.6 1147.2a1 1 0 1 0 2 0a1 1 0 1 0 -2 0M1676.9 1147.2a1 1 0 1 0 2 0a1 1 0 1 0 -2 0M1680.1 1147.2a1 1 0 1 0 2 0a1 1 0 1 0 -2 0M1683.3 1147.2a1 1 0 1 0 2 0a1 1 0 1 0 -2 0M1686.5 1147.2a1 1 0 1 0 2 0a1 1 0 1 0 -2 0M1689.8 1147.2a1 1 0 1 0 2 0a1 1 0 1 0 -2 0M1693 1147.2a1 1 0 1 0 2 0a1 1 0 1 0 -2 0M1696.2 1147.2a1 1 0 1 0 2 0a1 1 0 1 0 -2 0M1699.4 1147.2a1 1 0 1 0 2 0a1 1 0 1 0 -2 0M1702.7 1147.2a1 1 0 1 0 2 0a1 1 0 1 0 -2 0M1705.9 1147.2a1 1 0 1 0 2 0a1 1 0 1 0 -2 0M1709.1 1147.2a1 1 0 1 0 2 0a1 1 0 1 0 -2 0M1712.3 1147.2a1 1 0 1 0 2 0a1 1 0 1 0 -2 0M1715.6 1147.2a1 1 0 1 0 2 0a1 1 0 1 0 -2 0M1718.8 1147.2a1 1 0 1 0 2 0a1 1 0 1 0 -2 0M1722 1147.2a1 1 0 1 0 2 0a1 1 0 1 0 -2 0M1725.2 1147.2a1 1 0 1 0 2 0a1 1 0 1 0 -2 0M1728.4 1147.2a1 1 0 1 0 2 0a1 1 0 1 0 -2 0M1731.7 1147.2a1 1 0 1 0 2 0a1 1 0 1 0 -2 0M1734.9 1147.2a1 1 0 1 0 2 0a1 1 0 1 0 -2 0M1738.1 1147.2a1 1 0 1 0 2 0a1 1 0 1 0 -2 0M1741.3 1147.2a1 1 0 1 0 2 0a1 1 0 1 0 -2 0M1744.6 1147.2a1 1 0 1 0 2 0a1 1 0 1 0 -2 0M1747.8 1147.2a1 1 0 1 0 2 0a1 1 0 1 0 -2 0M1751 1147.2a1 1 0 1 0 2 0a1 1 0 1 0 -2 0M1754.2 1147.2a1 1 0 1 0 2 0a1 1 0 1 0 -2 0M1757.5 1147.2a1 1 0 1 0 2 0a1 1 0 1 0 -2 0M1760.7 1147.2a1 1 0 1 0 2 0a1 1 0 1 0 -2 0M1763.9 1147.2a1 1 0 1 0 2 0a1 1 0 1 0 -2 0M1767.1 1147.2a1 1 0 1 0 2 0a1 1 0 1 0 -2 0M1770.4 1147.2a1 1 0 1 0 2 0a1 1 0 1 0 -2 0M1773.6 1147.2a1 1 0 1 0 2 0a1 1 0 1 0 -2 0M1776.8 1147.2a1 1 0 1 0 2 0a1 1 0 1 0 -2 0M1780 1147.2a1 1 0 1 0 2 0a1 1 0 1 0 -2 0M1783.2 1147.2a1 1 0 1 0 2 0a1 1 0 1 0 -2 0M1786.5 1147.2a1 1 0 1 0 2 0a1 1 0 1 0 -2 0M1789.7 1147.2a1 1 0 1 0 2 0a1 1 0 1 0 -2 0M1792.9 1147.2a1 1 0 1 0 2 0a1 1 0 1 0 -2 0M1796.1 1147.2a1 1 0 1 0 2 0a1 1 0 1 0 -2 0M1799.4 1147.2a1 1 0 1 0 2 0a1 1 0 1 0 -2 0M1802.6 1147.2a1 1 0 1 0 2 0a1 1 0 1 0 -2 0M1805.8 1147.2a1 1 0 1 0 2 0a1 1 0 1 0 -2 0M1809 1147.2a1 1 0 1 0 2 0a1 1 0 1 0 -2 0M1812.3 1147.2a1 1 0 1 0 2 0a1 1 0 1 0 -2 0M1815.5 1147.2a1 1 0 1 0 2 0a1 1 0 1 0 -2 0M1818.7 1147.2a1 1 0 1 0 2 0a1 1 0 1 0 -2 0M1821.9 1147.2a1 1 0 1 0 2 0a1 1 0 1 0 -2 0M1825.2 1147.2a1 1 0 1 0 2 0a1 1 0 1 0 -2 0M1828.4 1147.2a1 1 0 1 0 2 0a1 1 0 1 0 -2 0M1831.6 1147.2a1 1 0 1 0 2 0a1 1 0 1 0 -2 0M284.3 1061a1 1 0 1 0 2 0a1 1 0 1 0 -2 0M297.2 1060a1 1 0 1 0 2 0a1 1 0 1 0 -2 0M310.1 1058.9a1 1 0 1 0 2 0a1 1 0 1 0 -2 0M323 1058a1 1 0 1 0 2 0a1 1 0 1 0 -2 0M335.9 1057a1 1 0 1 0 2 0a1 1 0 1 0 -2 0M348.8 1056.1a1 1 0 1 0 2 0a1 1 0 1 0 -2 0M361.7 1055.3a1 1 0 1 0 2 0a1 1 0 1 0 -2 0M374.6 1054.5a1 1 0 1 0 2 0a1 1 0 1 0 -2 0M387.5 1053.8a1 1 0 1 0 2 0a1 1 0 1 0 -2 0M400.4 1053.1a1 1 0 1 0 2 0a1 1 0 1 0 -2 0M413.3 1052.4a1 1 0 1 0 2 0a1 1 0 1 0 -2 0M426.2 1051.9a1 1 0 1 0 2 0a1 1 0 1 0 -2 0M439 1051.3a1 1 0 1 0 2 0a1 1 0 1 0 -2 0M451.9 1050.9a1 1 0 1 0 2 0a1 1 0 1 0 -2 0M464.8 1050.5a1 1 0 1 0 2 0a1 1 0 1 0 -2 0M477.7 1050.1a1 1 0 1 0 2 0a1 1 0 1 0 -2 0M490.6 1049.8a1 1 0 1 0 2 0a1 1 0 1 0 -2 0M503.5 1049.6a1 1 0 1 0 2 0a1 1 0 1 0 -2 0M516.4 1049.5a1 1 0 1 0 2 0a1 1 0 1 0 -2 0M529.3 1049.4a1 1 0 1 0 2 0a1 1 0 1 0 -2 0M555.1 1049.4a1 1 0 1 0 2 0a1 1 0 1 0 -2 0M568 1049.5a1 1 0 1 0 2 0a1 1 0 1 0 -2 0M580.9 1049.6a1 1 0 1 0 2 0a1 1 0 1 0 -2 0M593.8 1049.8a1 1 0 1 0 2 0a1 1 0 1 0 -2 0M606.7 1050.1a1 1 0 1 0 2 0a1 1 0 1 0 -2 0M619.6 1050.5a1 1 0 1 0 2 0a1 1 0 1 0 -2 0M632.5 1050.9a1 1 0 1 0 2 0a1 1 0 1 0 -2 0M645.4 1051.3a1 1 0 1 0 2 0a1 1 0 1 0 -2 0M658.2 1051.9a1 1 0 1 0 2 0a1 1 0 1 0 -2 0M671.1 1052.4a1 1 0 1 0 2 0a1 1 0 1 0 -2 0M684 1053.1a1 1 0 1 0 2 0a1 1 0 1 0 -2 0M696.9 1053.8a1 1 0 1 0 2 0a1 1 0 1 0 -2 0M709.8 1054.5a1 1 0 1 0 2 0a1 1 0 1 0 -2 0M722.7 1055.3a1 1 0 1 0 2 0a1 1 0 1 0 -2 0M735.6 1056.1a1 1 0 1 0 2 0a1 1 0 1 0 -2 0M748.5 1057a1 1 0 1 0 2 0a1 1 0 1 0 -2 0M761.4 1058a1 1 0 1 0 2 0a1 1 0 1 0 -2 0M774.3 1058.9a1 1 0 1 0 2 0a1 1 0 1 0 -2 0M787.2 1060a1 1 0 1 0 2 0a1 1 0 1 0 -2 0M800.1 1061a1 1 0 1 0 2 0a1 1 0 1 0 -2 0M813 1062.1a1 1 0 1 0 2 0a1 1 0 1 0 -2 0M825.9 1063.2a1 1 0 1 0 2 0a1 1 0 1 0 -2 0M838.8 1064.4a1 1 0 1 0 2 0a1 1 0 1 0 -2 0M851.7 1065.6a1 1 0 1 0 2 0a1 1 0 1 0 -2 0M864.6 1066.8a1 1 0 1 0 2 0a1 1 0 1 0 -2 0M877.4 1068a1 1 0 1 0 2 0a1 1 0 1 0 -2 0M890.3 1069.3a1 1 0 1 0 2 0a1 1 0 1 0 -2 0M903.2 1070.5a1 1 0 1 0 2 0a1 1 0 1 0 -2 0M916.1 1071.8a1 1 0 1 0 2 0a1 1 0 1 0 -2 0M929 1073.2a1 1 0 1 0 2 0a1 1 0 1 0 -2 0M941.9 1074.5a1 1 0 1 0 2 0a1 1 0 1 0 -2 0M954.8 1075.8a1 1 0 1 0 2 0a1 1 0 1 0 -2 0M967.7 1077.2a1 1 0 1 0 2 0a1 1 0 1 0 -2 0M980.6 1078.5a1 1 0 1 0 2 0a1 1 0 1 0 -2 0M993.5 1079.9a1 1 0 1 0 2 0a1 1 0 1 0 -2 0M1006.4 1081.2a1 1 0 1 0 2 0a1 1 0 1 0 -2 0M1019.3 1082.6a1 1 0 1 0 2 0a1 1 0 1 0 -2 0M1032.2 1083.9a1 1 0 1 0 2 0a1 1 0 1 0 -2 0M1045.1 1085.3a1 1 0 1 0 2 0a1 1 0 1 0 -2 0M1058 1086.6a1 1 0 1 0 2 0a1 1 0 1 0 -2 0M1070.9 1088a1 1 0 1 0 2 0a1 1 0 1 0 -2 0M1083.7 1089.3a1 1 0 1 0 2 0a1 1 0 1 0 -2 0M1096.6 1090.6a1 1 0 1 0 2 0a1 1 0 1 0 -2 0M1109.5 1092a1 1 0 1 0 2 0a1 1 0 1 0 -2 0M1122.4 1093.3a1 1 0 1 0 2 0a1 1 0 1 0 -2 0M1135.3 1094.6a1 1 0 1 0 2 0a1 1 0 1 0 -2 0M1148.2 1095.8a1 1 0 1 0 2 0a1 1 0 1 0 -2 0M1161.1 1097.1a1 1 0 1 0 2 0a1 1 0 1 0 -2 0M1174 1098.4a1 1 0 1 0 2 0a1 1 0 1 0 -2 0M1186.9 1099.6a1 1 0 1 0 2 0a1 1 0 1 0 -2 0M1199.8 1100.8a1 1 0 1 0 2 0a1 1 0 1 0 -2 0M1212.7 1102a1 1 0 1 0 2 0a1 1 0 1 0 -2 0M1225.6 1103.2a1 1 0 1 0 2 0a1 1 0 1 0 -2 0M1238.5 1104.4a1 1 0 1 0 2 0a1 1 0 1 0 -2 0M1251.4 1105.5a1 1 0 1 0 2 0a1 1 0 1 0 -2 0M1264.3 1106.7a1 1 0 1 0 2 0a1 1 0 1 0 -2 0M1277.2 1107.8a1 1 0 1 0 2 0a1 1 0 1 0 -2 0M1290.1 1108.9a1 1 0 1 0 2 0a1 1 0 1 0 -2 0M1302.9 1109.9a1 1 0 1 0 2 0a1 1 0 1 0 -2 0M1315.8 1111a1 1 0 1 0 2 0a1 1 0 1 0 -2 0M1328.7 1112a1 1 0 1 0 2 0a1 1 0 1 0 -2 0M1341.6 1113a1 1 0 1 0 2 0a1 1 0 1 0 -2 0M1354.5 1114a1 1 0 1 0 2 0a1 1 0 1 0 -2 0M1367.4 1114.9a1 1 0 1 0 2 0a1 1 0 1 0 -2 0M1380.3 1115.9a1 1 0 1 0 2 0a1 1 0 1 0 -2 0M1393.2 1116.8a1 1 0 1 0 2 0a1 1 0 1 0 -2 0M1406.1 1117.7a1 1 0 1 0 2 0a1 1 0 1 0 -2 0M1419 1118.6a1 1 0 1 0 2 0a1 1 0 1 0 -2 0M1431.9 1119.4a1 1 0 1 0 2 0a1 1 0 1 0 -2 0M1444.8 1120.3a1 1 0 1 0 2 0a1 1 0 1 0 -2 0M1457.7 1121.1a1 1 0 1 0 2 0a1 1 0 1 0 -2 0M1470.6 1121.9a1 1 0 1 0 2 0a1 1 0 1 0 -2 0M1483.5 1122.7a1 1 0 1 0 2 0a1 1 0 1 0 -2 0M1496.4 1123.4a1 1 0 1 0 2 0a1 1 0 1 0 -2 0M1509.2 1124.2a1 1 0 1 0 2 0a1 1 0 1 0 -2 0M1522.1 1124.9a1 1 0 1 0 2 0a1 1 0 1 0 -2 0M1535 1125.6a1 1 0 1 0 2 0a1 1 0 1 0 -2 0M1547.9 1126.2a1 1 0 1 0 2 0a1 1 0 1 0 -2 0M1560.8 1126.9a1 1 0 1 0 2 0a1 1 0 1 0 -2 0M1573.7 1127.5a1 1 0 1 0 2 0a1 1 0 1 0 -2 0M1586.6 1128.2a1 1 0 1 0 2 0a1 1 0 1 0 -2 0M1599.5 1128.8a1 1 0 1 0 2 0a1 1 0 1 0 -2 0M1612.4 1129.4a1 1 0 1 0 2 0a1 1 0 1 0 -2 0M1625.3 1129.9a1 1 0 1 0 2 0a1 1 0 1 0 -2 0M1638.2 1130.5a1 1 0 1 0 2 0a1 1 0 1 0 -2 0M1651.1 1131a1 1 0 1 0 2 0a1 1 0 1 0 -2 0M1664 1131.6a1 1 0 1 0 2 0a1 1 0 1 0 -2 0M1676.9 1132.1a1 1 0 1 0 2 0a1 1 0 1 0 -2 0M1689.8 1132.6a1 1 0 1 0 2 0a1 1 0 1 0 -2 0M1702.7 1133a1 1 0 1 0 2 0a1 1 0 1 0 -2 0M1715.6 1133.5a1 1 0 1 0 2 0a1 1 0 1 0 -2 0M1728.4 1134a1 1 0 1 0 2 0a1 1 0 1 0 -2 0M1741.3 1134.4a1 1 0 1 0 2 0a1 1 0 1 0 -2 0M1754.2 1134.8a1 1 0 1 0 2 0a1 1 0 1 0 -2 0M1767.1 1135.2a1 1 0 1 0 2 0a1 1 0 1 0 -2 0M1780 1135.6a1 1 0 1 0 2 0a1 1 0 1 0 -2 0M1792.9 1136a1 1 0 1 0 2 0a1 1 0 1 0 -2 0M1805.8 1136.4a1 1 0 1 0 2 0a1 1 0 1 0 -2 0M1818.7 1136.7a1 1 0 1 0 2 0a1 1 0 1 0 -2 0M1831.6 1137.1a1 1 0 1 0 2 0a1 1 0 1 0 -2 0"/>
<rect x="253.0" y="22.6" width="1612.0" height="1162.0" fill="none" stroke="#000" stroke-width="6.3"/>
<rect x="912.7" y="73.0" width="901.3999999999999" height="637.9" fill="#fff"/>
<path fill="none" stroke="#000" stroke-width="3.2" d="M953.8 710.9V685.4M953.8 73V98.5M1226.8 710.9V685.4M1226.8 73V98.5M1499.8 710.9V685.4M1499.8 73V98.5M1772.8 710.9V685.4M1772.8 73V98.5M912.7 673.4H938.2M1814.1 673.4H1788.6M912.7 485.9H938.2M1814.1 485.9H1788.6M912.7 298.4H938.2M1814.1 298.4H1788.6M912.7 110.9H938.2M1814.1 110.9H1788.6"/>
<path fill="none" stroke="#ff0000" stroke-width="2.8" d="M946.4 658.3h25.8v25.8h-25.8zM951.8 654h25.8v25.8h-25.8zM957.3 647h25.8v25.8h-25.8zM962.7 639h25.8v25.8h-25.8zM968.2 628.1h25.8v25.8h-25.8zM973.7 614.1h25.8v25.8h-25.8zM979.1 599.9h25.8v25.8h-25.8zM984.6 583.6h25.8v25.8h-25.8zM990 568.6h25.8v25.8h-25.8zM995.5 550h25.8v25.8h-25.8zM1001 530h25.8v25.8h-25.8zM1006.4 510.6h25.8v25.8h-25.8zM1011.9 491.2h25.8v25.8h-25.8zM1017.3 471.8h25.8v25.8h-25.8zM1022.8 452.9h25.8v25.8h-25.8zM1028.3 434.9h25.8v25.8h-25.8zM1033.7 416.7h25.8v25.8h-25.8zM1039.2 397.6h25.8v25.8h-25.8zM1044.6 383h25.8v25.8h-25.8zM1050.1 366.1h25.8v25.8h-25.8zM1055.6 351h25.8v25.8h-25.8zM1061 337.2h25.8v25.8h-25.8zM1066.5 324.2h25.8v25.8h-25.8zM1071.9 312.2h25.8v25.8h-25.8zM1077.4 300.8h25.8v25.8h-25.8zM1082.9 290.3h25.8v25.8h-25.8zM1088.3 280.4h25.8v25.8h-25.8zM1093.8 271.3h25.8v25.8h-25.8zM1099.2 263.4h25.8v25.8h-25.8zM1104.7 256.1h25.8v25.8h-25.8zM1110.2 249.6h25.8v25.8h-25.8zM1115.6 243.7h25.8v25.8h-25.8zM1121.1 238.7h25.8v25.8h-25.8zM1126.5 234.7h25.8v25.8h-25.8zM1132 230.9h25.8v25.8h-25.8zM1137.5 227.8h25.8v25.8h-25.8zM1142.9 225.5h25.8v25.8h-25.8zM1148.4 223.7h25.8v25.8h-25.8zM1153.8 222.1h25.8v25.8h-25.8zM1159.3 221.1h25.8v25.8h-25.8zM1164.8 221.1h25.8v25.8h-25.8zM1170.2 221.6h25.8v25.8h-25.8zM1175.7 222.5h25.8v25.8h-25.8zM1181.1 223.6h25.8v25.8h-25.8zM1186.6 225.4h25.8v25.8h-25.8zM1192.1 228h25.8v25.8h-25.8zM1197.5 231h25.8v25.8h-25.8zM1203 234h25.8v25.8h-25.8zM1208.4 237h25.8v25.8h-25.8zM1213.9 240.2h25.8v25.8h-25.8zM1219.4 243.7h25.8v25.8h-25.8zM1224.8 247.4h25.8v25.8h-25.8zM1230.3 251.6h25.8v25.8h-25.8zM1235.7 256.2h25.8v25.8h-25.8zM1241.2 261h25.8v25.8h-25.8zM1246.7 265.8h25.8v25.8h-25.8zM1252.1 270.7h25.8v25.8h-25.8zM1257.6 275.7h25.8v25.8h-25.8zM1263 280.9h25.8v25.8h-25.8zM1268.5 286.2h25.8v25.8h-25.8zM1274 291.9h25.8v25.8h-25.8zM1279.4 297.9h25.8v25.8h-25.8zM1284.9 303.8h25.8v25.8h-25.8zM1290.3 309.3h25.8v25.8h-25.8zM1295.8 314.1h25.8v25.8h-25.8zM1301.3 319h25.8v25.8h-25.8zM1306.7 324.1h25.8v25.8h-25.8zM1312.2 329.4h25.8v25.8h-25.8zM1317.6 334.8h25.8v25.8h-25.8zM1323.1 340.3h25.8v25.8h-25.8zM1328.6 345.8h25.8v25.8h-25.8zM1334 351.3h25.8v25.8h-25.8zM1339.5 356.9h25.8v25.8h-25.8zM1344.9 362.5h25.8v25.8h-25.8zM1350.4 368.1h25.8v25.8h-25.8zM1355.9 373.7h25.8v25.8h-25.8zM1361.3 379.2h25.8v25.8h-25.8zM1366.8 384.6h25.8v25.8h-25.8zM1372.2 390.1h25.8v25.8h-25.8zM1377.7 395.5h25.8v25.8h-25.8zM1383.2 401h25.8v25.8h-25.8zM1388.6 406.5h25.8v25.8h-25.8zM1394.1 412h25.8v25.8h-25.8zM1399.5 417.5h25.8v25.8h-25.8zM1405 423h25.8v25.8h-25.8zM1410.5 428.3h25.8v25.8h-25.8zM1415.9 433.6h25.8v25.8h-25.8zM1421.4 438.9h25.8v25.8h-25.8zM1426.8 443.9h25.8v25.8h-25.8zM1432.3 448.9h25.8v25.8h-25.8zM1437.8 453.7h25.8v25.8h-25.8zM1443.2 458.4h25.8v25.8h-25.8zM1448.7 462.9h25.8v25.8h-25.8zM1454.1 467.3h25.8v25.8h-25.8zM1459.6 471.6h25.8v25.8h-25.8zM1465.1 475.9h25.8v25.8h-25.8zM1470.5 480.1h25.8v25.8h-25.8zM1476 484.4h25.8v25.8h-25.8zM1481.4 488.7h25.8v25.8h-25.8zM1486.9 493h25.8v25.8h-25.8zM1492.4 497.5h25.8v25.8h-25.8zM1497.8 501.9h25.8v25.8h-25.8zM1503.3 505.9h25.8v25.8h-25.8zM1508.7 509.7h25.8v25.8h-25.8zM1514.2 513.4h25.8v25.8h-25.8zM1519.7 516.9h25.8v25.8h-25.8zM1525.1 520.4h25.8v25.8h-25.8zM1530.6 523.7h25.8v25.8h-25.8zM1536 527h25.8v25.8h-25.8zM1541.5 530.2h25.8v25.8h-25.8zM1547 533.3h25.8v25.8h-25.8zM1552.4 536.4h25.8v25.8h-25.8zM1557.9 539.3h25.8v25.8h-25.8zM1563.3 542.2h25.8v25.8h-25.8zM1568.8 545h25.8v25.8h-25.8zM1574.3 547.7h25.8v25.8h-25.8zM1579.7 550.4h25.8v25.8h-25.8zM1585.2 553h25.8v25.8h-25.8zM1590.6 555.6h25.8v25.8h-25.8zM1596.1 558.1h25.8v25.8h-25.8zM1601.6 560.6h25.8v25.8h-25.8zM1607 563h25.8v25.8h-25.8zM1612.5 565.5h25.8v25.8h-25.8zM1617.9 568h25.8v25.8h-25.8zM1623.4 570.4h25.8v25.8h-25.8zM1628.9 572.8h25.8v25.8h-25.8zM1634.3 575h25.8v25.8h-25.8zM1639.8 577.1h25.8v25.8h-25.8zM1645.2 579.1h25.8v25.8h-25.8zM1650.7 580.9h25.8v25.8h-25.8zM1656.2 582.7h25.8v25.8h-25.8zM1661.6 584.4h25.8v25.8h-25.8zM1667.1 586h25.8v25.8h-25.8zM1672.5 587.7h25.8v25.8h-25.8zM1678 589.4h25.8v25.8h-25.8zM1683.5 591.1h25.8v25.8h-25.8zM1688.9 592.8h25.8v25.8h-25.8zM1694.4 594.4h25.8v25.8h-25.8zM1699.8 596h25.8v25.8h-25.8zM1705.3 597.6h25.8v25.8h-25.8zM1710.8 599.1h25.8v25.8h-25.8zM1716.2 600.6h25.8v25.8h-25.8zM1721.7 602.1h25.8v25.8h-25.8zM1727.1 603.5h25.8v25.8h-25.8zM1732.6 604.8h25.8v25.8h-25.8zM1738.1 606.2h25.8v25.8h-25.8zM1743.5 607.4h25.8v25.8h-25.8zM1749 608.6h25.8v25.8h-25.8zM1754.4 609.8h25.8v25.8h-25.8zM1759.9 610.8h25.8v25.8h-25.8zM1765.4 611.9h25.8v25.8h-25.8zM1770.8 613h25.8v25.8h-25.8zM1776.3 614h25.8v25.8h-25.8zM1781.7 615.2h25.8v25.8h-25.8zM1787.2 616.3h25.8v25.8h-25.8zM1792.7 617.5h25.8v25.8h-25.8zM1798.1 618.7h25.8v25.8h-25.8z"/>
<path fill="#ff0000" d="M958 671.2a1.3 1.3 0 1 0 2.6 0a1.3 1.3 0 1 0 -2.6 0M963.4 666.9a1.3 1.3 0 1 0 2.6 0a1.3 1.3 0 1 0 -2.6 0M968.9 659.9a1.3 1.3 0 1 0 2.6 0a1.3 1.3 0 1 0 -2.6 0M974.3 651.9a1.3 1.3 0 1 0 2.6 0a1.3 1.3 0 1 0 -2.6 0M979.8 641a1.3 1.3 0 1 0 2.6 0a1.3 1.3 0 1 0 -2.6 0M985.3 627a1.3 1.3 0 1 0 2.6 0a1.3 1.3 0 1 0 -2.6 0M990.7 612.8a1.3 1.3 0 1 0 2.6 0a1.3 1.3 0 1 0 -2.6 0M996.2 596.5a1.3 1.3 0 1 0 2.6 0a1.3 1.3 0 1 0 -2.6 0M1001.6 581.5a1.3 1.3 0 1 0 2.6 0a1.3 1.3 0 1 0 -2.6 0M1007.1 562.9a1.3 1.3 0 1 0 2.6 0a1.3 1.3 0 1 0 -2.6 0M1012.6 542.9a1.3 1.3 0 1 0 2.6 0a1.3 1.3 0 1 0 -2.6 0M1018 523.5a1.3 1.3 0 1 0 2.6 0a1.3 1.3 0 1 0 -2.6 0M1023.5 504.1a1.3 1.3 0 1 0 2.6 0a1.3 1.3 0 1 0 -2.6 0M1028.9 484.7a1.3 1.3 0 1 0 2.6 0a1.3 1.3 0 1 0 -2.6 0M1034.4 465.8a1.3 1.3 0 1 0 2.6 0a1.3 1.3 0 1 0 -2.6 0M1039.9 447.8a1.3 1.3 0 1 0 2.6 0a1.3 1.3 0 1 0 -2.6 0M1045.3 429.6a1.3 1.3 0 1 0 2.6 0a1.3 1.3 0 1 0 -2.6 0M1050.8 410.5a1.3 1.3 0 1 0 2.6 0a1.3 1.3 0 1 0 -2.6 0M1056.2 395.9a1.3 1.3 0 1 0 2.6 0a1.3 1.3 0 1 0 -2.6 0M1061.7 379a1.3 1.3 0 1 0 2.6 0a1.3 1.3 0 1 0 -2.6 0M1067.2 363.9a1.3 1.3 0 1 0 2.6 0a1.3 1.3 0 1 0 -2.6 0M1072.6 350.1a1.3 1.3 0 1 0 2.6 0a1.3 1.3 0 1 0 -2.6 0M1078.1 337.1a1.3 1.3 0 1 0 2.6 0a1.3 1.3 0 1 0 -2.6 0M1083.5 325.1a1.3 1.3 0 1 0 2.6 0a1.3 1.3 0 1 0 -2.6 0M1089 313.7a1.3 1.3 0 1 0 2.6 0a1.3 1.3 0 1 0 -2.6 0M1094.5 303.2a1.3 1.3 0 1 0 2.6 0a1.3 1.3 0 1 0 -2.6 0M1099.9 293.3a1.3 1.3 0 1 0 2.6 0a1.3 1.3 0 1 0 -2.6 0M1105.4 284.2a1.3 1.3 0 1 0 2.6 0a1.3 1.3 0 1 0 -2.6 0M1110.8 276.3a1.3 1.3 0 1 0 2.6 0a1.3 1.3 0 1 0 -2.6 0M1116.3 269a1.3 1.3 0 1 0 2.6 0a1.3 1.3 0 1 0 -2.6 0M1121.8 262.5a1.3 1.3 0 1 0 2.6 0a1.3 1.3 0 1 0 -2.6 0M1127.2 256.6a1.3 1.3 0 1 0 2.6 0a1.3 1.3 0 1 0 -2.6 0M1132.7 251.6a1.3 1.3 0 1 0 2.6 0a1.3 1.3 0 1 0 -2.6 0M1138.1 247.6a1.3 1.3 0 1 0 2.6 0a1.3 1.3 0 1 0 -2.6 0M1143.6 243.8a1.3 1.3 0 1 0 2.6 0a1.3 1.3 0 1 0 -2.6 0M1149.1 240.7a1.3 1.3 0 1 0 2.6 0a1.3 1.3 0 1 0 -2.6 0M1154.5 238.4a1.3 1.3 0 1 0 2.6 0a1.3 1.3 0 1 0 -2.6 0M1160 236.6a1.3 1.3 0 1 0 2.6 0a1.3 1.3 0 1 0 -2.6 0M1165.4 235a1.3 1.3 0 1 0 2.6 0a1.3 1.3 0 1 0 -2.6 0M1170.9 234a1.3 1.3 0 1 0 2.6 0a1.3 1.3 0 1 0 -2.6 0M1176.4 234a1.3 1.3 0 1 0 2.6 0a1.3 1.3 0 1 0 -2.6 0M1181.8 234.5a1.3 1.3 0 1 0 2.6 0a1.3 1.3 0 1 0 -2.6 0M1187.3 235.4a1.3 1.3 0 1 0 2.6 0a1.3 1.3 0 1 0 -2.6 0M1192.7 236.5a1.3 1.3 0 1 0 2.6 0a1.3 1.3 0 1 0 -2.6 0M1198.2 238.3a1.3 1.3 0 1 0 2.6 0a1.3 1.3 0 1 0 -2.6 0M1203.7 240.9a1.3 1.3 0 1 0 2.6 0a1.3 1.3 0 1 0 -2.6 0M1209.1 243.9a1.3 1.3 0 1 0 2.6 0a1.3 1.3 0 1 0 -2.6 0M1214.6 246.9a1.3 1.3 0 1 0 2.6 0a1.3 1.3 0 1 0 -2.6 0M1220 249.9a1.3 1.3 0 1 0 2.6 0a1.3 1.3 0 1 0 -2.6 0M1225.5 253.1a1.3 1.3 0 1 0 2.6 0a1.3 1.3 0 1 0 -2.6 0M1231 256.6a1.3 1.3 0 1 0 2.6 0a1.3 1.3 0 1 0 -2.6 0M1236.4 260.3a1.3 1.3 0 1 0 2.6 0a1.3 1.3 0 1 0 -2.6 0M1241.9 264.5a1.3 1.3 0 1 0 2.6 0a1.3 1.3 0 1 0 -2.6 0M1247.3 269.1a1.3 1.3 0 1 0 2.6 0a1.3 1.3 0 1 0 -2.6 0M1252.8 273.9a1.3 1.3 0 1 0 2.6 0a1.3 1.3 0 1 0 -2.6 0M1258.3 278.7a1.3 1.3 0 1 0 2.6 0a1.3 1.3 0 1 0 -2.6 0M1263.7 283.6a1.3 1.3 0 1 0 2.6 0a1.3 1.3 0 1 0 -2.6 0M1269.2 288.6a1.3 1.3 0 1 0 2.6 0a1.3 1.3 0 1 0 -2.6 0M1274.6 293.8a1.3 1.3 0 1 0 2.6 0a1.3 1.3 0 1 0 -2.6 0M1280.1 299.1a1.3 1.3 0 1 0 2.6 0a1.3 1.3 0 1 0 -2.6 0M1285.6 304.8a1.3 1.3 0 1 0 2.6 0a1.3 1.3 0 1 0 -2.6 0M1291 310.8a1.3 1.3 0 1 0 2.6 0a1.3 1.3 0 1 0 -2.6 0M1296.5 316.7a1.3 1.3 0 1 0 2.6 0a1.3 1.3 0 1 0 -2.6 0M1301.9 322.2a1.3 1.3 0 1 0 2.6 0a1.3 1.3 0 1 0 -2.6 0M1307.4 327a1.3 1.3 0 1 0 2.6 0a1.3 1.3 0 1 0 -2.6 0M1312.9 331.9a1.3 1.3 0 1 0 2.6 0a1.3 1.3 0 1 0 -2.6 0M1318.3 337a1.3 1.3 0 1 0 2.6 0a1.3 1.3 0 1 0 -2.6 0M1323.8 342.3a1.3 1.3 0 1 0 2.6 0a1.3 1.3 0 1 0 -2.6 0M1329.2 347.7a1.3 1.3 0 1 0 2.6 0a1.3 1.3 0 1 0 -2.6 0M1334.7 353.2a1.3 1.3 0 1 0 2.6 0a1.3 1.3 0 1 0 -2.6 0M1340.2 358.7a1.3 1.3 0 1 0 2.6 0a1.3 1.3 0 1 0 -2.6 0M1345.6 364.2a1.3 1.3 0 1 0 2.6 0a1.3 1.3 0 1 0 -2.6 0M1351.1 369.8a1.3 1.3 0 1 0 2.6 0a1.3 1.3 0 1 0 -2.6 0M1356.5 375.4a1.3 1.3 0 1 0 2.6 0a1.3 1.3 0 1 0 -2.6 0M1362 381a1.3 1.3 0 1 0 2.6 0a1.3 1.3 0 1 0 -2.6 0M1367.5 386.6a1.3 1.3 0 1 0 2.6 0a1.3 1.3 0 1 0 -2.6 0M1372.9 392.1a1.3 1.3 0 1 0 2.6 0a1.3 1.3 0 1 0 -2.6 0M1378.4 397.5a1.3 1.3 0 1 0 2.6 0a1.3 1.3 0 1 0 -2.6 0M1383.8 403a1.3 1.3 0 1 0 2.6 0a1.3 1.3 0 1 0 -2.6 0M1389.3 408.4a1.3 1.3 0 1 0 2.6 0a1.3 1.3 0 1 0 -2.6 0M1394.8 413.9a1.3 1.3 0 1 0 2.6 0a1.3 1.3 0 1 0 -2.6 0M1400.2 419.4a1.3 1.3 0 1 0 2.6 0a1.3 1.3 0 1 0 -2.6 0M1405.7 424.9a1.3 1.3 0 1 0 2.6 0a1.3 1.3 0 1 0 -2.6 0M1411.1 430.4a1.3 1.3 0 1 0 2.6 0a1.3 1.3 0 1 0 -2.6 0M1416.6 435.9a1.3 1.3 0 1 0 2.6 0a1.3 1.3 0 1 0 -2.6 0M1422.1 441.2a1.3 1.3 0 1 0 2.6 0a1.3 1.3 0 1 0 -2.6 0M1427.5 446.5a1.3 1.3 0 1 0 2.6 0a1.3 1.3 0 1 0 -2.6 0M1433 451.8a1.3 1.3 0 1 0 2.6 0a1.3 1.3 0 1 0 -2.6 0M1438.4 456.8a1.3 1.3 0 1 0 2.6 0a1.3 1.3 0 1 0 -2.6 0M1443.9 461.8a1.3 1.3 0 1 0 2.6 0a1.3 1.3 0 1 0 -2.6 0M1449.4 466.6a1.3 1.3 0 1 0 2.6 0a1.3 1.3 0 1 0 -2.6 0M1454.8 471.3a1.3 1.3 0 1 0 2.6 0a1.3 1.3 0 1 0 -2.6 0M1460.3 475.8a1.3 1.3 0 1 0 2.6 0a1.3 1.3 0 1 0 -2.6 0M1465.7 480.2a1.3 1.3 0 1 0 2.6 0a1.3 1.3 0 1 0 -2.6 0M1471.2 484.5a1.3 1.3 0 1 0 2.6 0a1.3 1.3 0 1 0 -2.6 0M1476.7 488.8a1.3 1.3 0 1 0 2.6 0a1.3 1.3 0 1 0 -2.6 0M1482.1 493a1.3 1.3 0 1 0 2.6 0a1.3 1.3 0 1 0 -2.6 0M1487.6 497.3a1.3 1.3 0 1 0 2.6 0a1.3 1.3 0 1 0 -2.6 0M1493 501.6a1.3 1.3 0 1 0 2.6 0a1.3 1.3 0 1 0 -2.6 0M1498.5 505.9a1.3 1.3 0 1 0 2.6 0a1.3 1.3 0 1 0 -2.6 0M1504 510.4a1.3 1.3 0 1 0 2.6 0a1.3 1.3 0 1 0 -2.6 0M1509.4 514.8a1.3 1.3 0 1 0 2.6 0a1.3 1.3 0 1 0 -2.6 0M1514.9 518.8a1.3 1.3 0 1 0 2.6 0a1.3 1.3 0 1 0 -2.6 0M1520.3 522.6a1.3 1.3 0 1 0 2.6 0a1.3 1.3 0 1 0 -2.6 0M1525.8 526.3a1.3 1.3 0 1 0 2.6 0a1.3 1.3 0 1 0 -2.6 0M1531.3 529.8a1.3 1.3 0 1 0 2.6 0a1.3 1.3 0 1 0 -2.6 0M1536.7 533.3a1.3 1.3 0 1 0 2.6 0a1.3 1.3 0 1 0 -2.6 0M1542.2 536.6a1.3 1.3 0 1 0 2.6 0a1.3 1.3 0 1 0 -2.6 0M1547.6 539.9a1.3 1.3 0 1 0 2.6 0a1.3 1.3 0 1 0 -2.6 0M1553.1 543.1a1.3 1.3 0 1 0 2.6 0a1.3 1.3 0 1 0 -2.6 0M1558.6 546.2a1.3 1.3 0 1 0 2.6 0a1.3 1.3 0 1 0 -2.6 0M1564 549.3a1.3 1.3 0 1 0 2.6 0a1.3 1.3 0 1 0 -2.6 0M1569.5 552.2a1.3 1.3 0 1 0 2.6 0a1.3 1.3 0 1 0 -2.6 0M1574.9 555.1a1.3 1.3 0 1 0 2.6 0a1.3 1.3 0 1 0 -2.6 0M1580.4 557.9a1.3 1.3 0 1 0 2.6 0a1.3 1.3 0 1 0 -2.6 0M1585.9 560.6a1.3 1.3 0 1 0 2.6 0a1.3 1.3 0 1 0 -2.6 0M1591.3 563.3a1.3 1.3 0 1 0 2.6 0a1.3 1.3 0 1 0 -2.6 0M1596.8 565.9a1.3 1.3 0 1 0 2.6 0a1.3 1.3 0 1 0 -2.6 0M1602.2 568.5a1.3 1.3 0 1 0 2.6 0a1.3 1.3 0 1 0 -2.6 0M1607.7 571a1.3 1.3 0 1 0 2.6 0a1.3 1.3 0 1 0 -2.6 0M1613.2 573.5a1.3 1.3 0 1 0 2.6 0a1.3 1.3 0 1 0 -2.6 0M1618.6 575.9a1.3 1.3 0 1 0 2.6 0a1.3 1.3 0 1 0 -2.6 0M1624.1 578.4a1.3 1.3 0 1 0 2.6 0a1.3 1.3 0 1 0 -2.6 0M1629.5 580.9a1.3 1.3 0 1 0 2.6 0a1.3 1.3 0 1 0 -2.6 0M1635 583.3a1.3 1.3 0 1 0 2.6 0a1.3 1.3 0 1 0 -2.6 0M1640.5 585.7a1.3 1.3 0 1 0 2.6 0a1.3 1.3 0 1 0 -2.6 0M1645.9 587.9a1.3 1.3 0 1 0 2.6 0a1.3 1.3 0 1 0 -2.6 0M1651.4 590a1.3 1.3 0 1 0 2.6 0a1.3 1.3 0 1 0 -2.6 0M1656.8 592a1.3 1.3 0 1 0 2.6 0a1.3 1.3 0 1 0 -2.6 0M1662.3 593.8a1.3 1.3 0 1 0 2.6 0a1.3 1.3 0 1 0 -2.6 0M1667.8 595.6a1.3 1.3 0 1 0 2.6 0a1.3 1.3 0 1 0 -2.6 0M1673.2 597.3a1.3 1.3 0 1 0 2.6 0a1.3 1.3 0 1 0 -2.6 0M1678.7 598.9a1.3 1.3 0 1 0 2.6 0a1.3 1.3 0 1 0 -2.6 0M1684.1 600.6a1.3 1.3 0 1 0 2.6 0a1.3 1.3 0 1 0 -2.6 0M1689.6 602.3a1.3 1.3 0 1 0 2.6 0a1.3 1.3 0 1 0 -2.6 0M1695.1 604a1.3 1.3 0 1 0 2.6 0a1.3 1.3 0 1 0 -2.6 0M1700.5 605.7a1.3 1.3 0 1 0 2.6 0a1.3 1.3 0 1 0 -2.6 0M1706 607.3a1.3 1.3 0 1 0 2.6 0a1.3 1.3 0 1 0 -2.6 0M1711.4 608.9a1.3 1.3 0 1 0 2.6 0a1.3 1.3 0 1 0 -2.6 0M1716.9 610.5a1.3 1.3 0 1 0 2.6 0a1.3 1.3 0 1 0 -2.6 0M1722.4 612a1.3 1.3 0 1 0 2.6 0a1.3 1.3 0 1 0 -2.6 0M1727.8 613.5a1.3 1.3 0 1 0 2.6 0a1.3 1.3 0 1 0 -2.6 0M1733.3 615a1.3 1.3 0 1 0 2.6 0a1.3 1.3 0 1 0 -2.6 0M1738.7 616.4a1.3 1.3 0 1 0 2.6 0a1.3 1.3 0 1 0 -2.6 0M1744.2 617.7a1.3 1.3 0 1 0 2.6 0a1.3 1.3 0 1 0 -2.6 0M1749.7 619.1a1.3 1.3 0 1 0 2.6 0a1.3 1.3 0 1 0 -2.6 0M1755.1 620.3a1.3 1.3 0 1 0 2.6 0a1.3 1.3 0 1 0 -2.6 0M1760.6 621.5a1.3 1.3 0 1 0 2.6 0a1.3 1.3 0 1 0 -2.6 0M1766 622.7a1.3 1.3 0 1 0 2.6 0a1.3 1.3 0 1 0 -2.6 0M1771.5 623.7a1.3 1.3 0 1 0 2.6 0a1.3 1.3 0 1 0 -2.6 0M1777 624.8a1.3 1.3 0 1 0 2.6 0a1.3 1.3 0 1 0 -2.6 0M1782.4 625.9a1.3 1.3 0 1 0 2.6 0a1.3 1.3 0 1 0 -2.6 0M1787.9 626.9a1.3 1.3 0 1 0 2.6 0a1.3 1.3 0 1 0 -2.6 0M1793.3 628.1a1.3 1.3 0 1 0 2.6 0a1.3 1.3 0 1 0 -2.6 0M1798.8 629.2a1.3 1.3 0 1 0 2.6 0a1.3 1.3 0 1 0 -2.6 0M1804.3 630.4a1.3 1.3 0 1 0 2.6 0a1.3 1.3 0 1 0 -2.6 0M1809.7 631.6a1.3 1.3 0 1 0 2.6 0a1.3 1.3 0 1 0 -2.6 0"/>
<path fill="none" stroke="#ffa500" stroke-width="2.2" d="M946.4 658.2h25.8v25.8h-25.8zM951.8 653.8h25.8v25.8h-25.8zM957.3 646.6h25.8v25.8h-25.8zM962.7 638.2h25.8v25.8h-25.8zM968.2 627h25.8v25.8h-25.8zM973.7 612.6h25.8v25.8h-25.8zM979.1 598h25.8v25.8h-25.8zM984.6 581.1h25.8v25.8h-25.8zM990 564.2h25.8v25.8h-25.8zM995.5 546.1h25.8v25.8h-25.8zM1001 527h25.8v25.8h-25.8zM1006.4 505.6h25.8v25.8h-25.8zM1011.9 485.1h25.8v25.8h-25.8zM1017.3 464.9h25.8v25.8h-25.8zM1022.8 443.3h25.8v25.8h-25.8zM1028.3 423.3h25.8v25.8h-25.8zM1033.7 402.6h25.8v25.8h-25.8zM1039.2 382h25.8v25.8h-25.8zM1044.6 363h25.8v25.8h-25.8zM1050.1 346.6h25.8v25.8h-25.8zM1055.6 329.8h25.8v25.8h-25.8zM1061 312.1h25.8v25.8h-25.8zM1066.5 297.2h25.8v25.8h-25.8zM1071.9 281.8h25.8v25.8h-25.8zM1077.4 267.6h25.8v25.8h-25.8zM1082.9 254.8h25.8v25.8h-25.8zM1088.3 243.1h25.8v25.8h-25.8zM1093.8 233.1h25.8v25.8h-25.8zM1099.2 222.1h25.8v25.8h-25.8zM1104.7 213.1h25.8v25.8h-25.8zM1110.2 204.1h25.8v25.8h-25.8zM1115.6 197.8h25.8v25.8h-25.8zM1121.1 192.5h25.8v25.8h-25.8zM1126.5 188h25.8v25.8h-25.8zM1132 184.2h25.8v25.8h-25.8zM1137.5 180.8h25.8v25.8h-25.8zM1142.9 177.5h25.8v25.8h-25.8zM1148.4 174.4h25.8v25.8h-25.8zM1153.8 171.9h25.8v25.8h-25.8zM1159.3 170.2h25.8v25.8h-25.8zM1164.8 169.6h25.8v25.8h-25.8zM1170.2 169.8h25.8v25.8h-25.8zM1175.7 170.4h25.8v25.8h-25.8zM1181.1 171.3h25.8v25.8h-25.8zM1186.6 172.3h25.8v25.8h-25.8zM1192.1 174.1h25.8v25.8h-25.8zM1197.5 176.9h25.8v25.8h-25.8zM1203 180.3h25.8v25.8h-25.8zM1208.4 183.9h25.8v25.8h-25.8zM1213.9 187.8h25.8v25.8h-25.8zM1219.4 192.1h25.8v25.8h-25.8zM1224.8 196.8h25.8v25.8h-25.8zM1230.3 201.7h25.8v25.8h-25.8zM1235.7 206.9h25.8v25.8h-25.8zM1241.2 212.4h25.8v25.8h-25.8zM1246.7 217.9h25.8v25.8h-25.8zM1252.1 223.6h25.8v25.8h-25.8zM1257.6 229.4h25.8v25.8h-25.8zM1263 235.3h25.8v25.8h-25.8zM1268.5 241.4h25.8v25.8h-25.8zM1274 247.8h25.8v25.8h-25.8zM1279.4 254.2h25.8v25.8h-25.8zM1284.9 260.8h25.8v25.8h-25.8zM1290.3 267.4h25.8v25.8h-25.8zM1295.8 274.2h25.8v25.8h-25.8zM1301.3 281.2h25.8v25.8h-25.8zM1306.7 288.1h25.8v25.8h-25.8zM1312.2 294.9h25.8v25.8h-25.8zM1317.6 301.7h25.8v25.8h-25.8zM1323.1 308.6h25.8v25.8h-25.8zM1328.6 315.4h25.8v25.8h-25.8zM1334 322.2h25.8v25.8h-25.8zM1339.5 328.9h25.8v25.8h-25.8zM1344.9 335.6h25.8v25.8h-25.8zM1350.4 342.2h25.8v25.8h-25.8zM1355.9 348.7h25.8v25.8h-25.8zM1361.3 355.1h25.8v25.8h-25.8zM1366.8 361.4h25.8v25.8h-25.8zM1372.2 367.6h25.8v25.8h-25.8zM1377.7 373.8h25.8v25.8h-25.8zM1383.2 379.8h25.8v25.8h-25.8zM1388.6 385.8h25.8v25.8h-25.8zM1394.1 391.8h25.8v25.8h-25.8zM1399.5 397.7h25.8v25.8h-25.8zM1405 403.5h25.8v25.8h-25.8zM1410.5 409.3h25.8v25.8h-25.8zM1415.9 415h25.8v25.8h-25.8zM1421.4 420.7h25.8v25.8h-25.8zM1426.8 426.3h25.8v25.8h-25.8zM1432.3 431.9h25.8v25.8h-25.8zM1437.8 437.5h25.8v25.8h-25.8zM1443.2 443h25.8v25.8h-25.8zM1448.7 448.5h25.8v25.8h-25.8zM1454.1 454h25.8v25.8h-25.8zM1459.6 459.4h25.8v25.8h-25.8zM1465.1 464.6h25.8v25.8h-25.8zM1470.5 469.7h25.8v25.8h-25.8zM1476 474.5h25.8v25.8h-25.8zM1481.4 479.1h25.8v25.8h-25.8zM1486.9 483.6h25.8v25.8h-25.8zM1492.4 488h25.8v25.8h-25.8zM1497.8 492.2h25.8v25.8h-25.8zM1503.3 496.4h25.8v25.8h-25.8zM1508.7 500.5h25.8v25.8h-25.8zM1514.2 504.5h25.8v25.8h-25.8zM1519.7 508.5h25.8v25.8h-25.8zM1525.1 512.3h25.8v25.8h-25.8zM1530.6 516.1h25.8v25.8h-25.8zM1536 519.9h25.8v25.8h-25.8zM1541.5 523.6h25.8v25.8h-25.8zM1547 527.3h25.8v25.8h-25.8zM1552.4 531.1h25.8v25.8h-25.8zM1557.9 534.8h25.8v25.8h-25.8zM1563.3 538.5h25.8v25.8h-25.8zM1568.8 542h25.8v25.8h-25.8zM1574.3 545.3h25.8v25.8h-25.8zM1579.7 548.3h25.8v25.8h-25.8zM1585.2 551.1h25.8v25.8h-25.8zM1590.6 553.6h25.8v25.8h-25.8zM1596.1 556.1h25.8v25.8h-25.8zM1601.6 558.4h25.8v25.8h-25.8zM1607 560.7h25.8v25.8h-25.8zM1612.5 563h25.8v25.8h-25.8zM1617.9 565.3h25.8v25.8h-25.8zM1623.4 567.6h25.8v25.8h-25.8zM1628.9 569.8h25.8v25.8h-25.8zM1634.3 572h25.8v25.8h-25.8zM1639.8 574.1h25.8v25.8h-25.8zM1645.2 576.2h25.8v25.8h-25.8zM1650.7 578.3h25.8v25.8h-25.8zM1656.2 580.3h25.8v25.8h-25.8zM1661.6 582.3h25.8v25.8h-25.8zM1667.1 584.2h25.8v25.8h-25.8zM1672.5 586.1h25.8v25.8h-25.8zM1678 587.9h25.8v25.8h-25.8zM1683.5 589.7h25.8v25.8h-25.8zM1688.9 591.5h25.8v25.8h-25.8zM1694.4 593.1h25.8v25.8h-25.8zM1699.8 594.8h25.8v25.8h-25.8zM1705.3 596.4h25.8v25.8h-25.8zM1710.8 597.9h25.8v25.8h-25.8zM1716.2 599.5h25.8v25.8h-25.8zM1721.7 601.1h25.8v25.8h-25.8zM1727.1 602.7h25.8v25.8h-25.8zM1732.6 604.4h25.8v25.8h-25.8zM1738.1 606h25.8v25.8h-25.8zM1743.5 607.5h25.8v25.8h-25.8zM1749 608.9h25.8v25.8h-25.8zM1754.4 610.1h25.8v25.8h-25.8zM1759.9 611.2h25.8v25.8h-25.8zM1765.4 612.2h25.8v25.8h-25.8zM1770.8 613.1h25.8v25.8h-25.8zM1776.3 614h25.8v25.8h-25.8zM1781.7 614.9h25.8v25.8h-25.8zM1787.2 615.7h25.8v25.8h-25.8zM1792.7 616.5h25.8v25.8h-25.8zM1798.1 617.4h25.8v25.8h-25.8z"/>
<path fill="#ffa500" d="M958.2 671.1a1.1 1.1 0 1 0 2.2 0a1.1 1.1 0 1 0 -2.2 0M963.6 666.7a1.1 1.1 0 1 0 2.2 0a1.1 1.1 0 1 0 -2.2 0M969.1 659.5a1.1 1.1 0 1 0 2.2 0a1.1 1.1 0 1 0 -2.2 0M974.5 651.1a1.1 1.1 0 1 0 2.2 0a1.1 1.1 0 1 0 -2.2 0M980 639.9a1.1 1.1 0 1 0 2.2 0a1.1 1.1 0 1 0 -2.2 0M985.5 625.5a1.1 1.1 0 1 0 2.2 0a1.1 1.1 0 1 0 -2.2 0M990.9 610.9a1.1 1.1 0 1 0 2.2 0a1.1 1.1 0 1 0 -2.2 0M996.4 594a1.1 1.1 0 1 0 2.2 0a1.1 1.1 0 1 0 -2.2 0M1001.8 577.1a1.1 1.1 0 1 0 2.2 0a1.1 1.1 0 1 0 -2.2 0M1007.3 559a1.1 1.1 0 1 0 2.2 0a1.1 1.1 0 1 0 -2.2 0M1012.8 539.9a1.1 1.1 0 1 0 2.2 0a1.1 1.1 0 1 0 -2.2 0M1018.2 518.5a1.1 1.1 0 1 0 2.2 0a1.1 1.1 0 1 0 -2.2 0M1023.7 498a1.1 1.1 0 1 0 2.2 0a1.1 1.1 0 1 0 -2.2 0M1029.1 477.8a1.1 1.1 0 1 0 2.2 0a1.1 1.1 0 1 0 -2.2 0M1034.6 456.2a1.1 1.1 0 1 0 2.2 0a1.1 1.1 0 1 0 -2.2 0M1040.1 436.2a1.1 1.1 0 1 0 2.2 0a1.1 1.1 0 1 0 -2.2 0M1045.5 415.5a1.1 1.1 0 1 0 2.2 0a1.1 1.1 0 1 0 -2.2 0M1051 394.9a1.1 1.1 0 1 0 2.2 0a1.1 1.1 0 1 0 -2.2 0M1056.4 375.9a1.1 1.1 0 1 0 2.2 0a1.1 1.1 0 1 0 -2.2 0M1061.9 359.5a1.1 1.1 0 1 0 2.2 0a1.1 1.1 0 1 0 -2.2 0M1067.4 342.7a1.1 1.1 0 1 0 2.2 0a1.1 1.1 0 1 0 -2.2 0M1072.8 325a1.1 1.1 0 1 0 2.2 0a1.1 1.1 0 1 0 -2.2 0M1078.3 310.1a1.1 1.1 0 1 0 2.2 0a1.1 1.1 0 1 0 -2.2 0M1083.7 294.6a1.1 1.1 0 1 0 2.2 0a1.1 1.1 0 1 0 -2.2 0M1089.2 280.5a1.1 1.1 0 1 0 2.2 0a1.1 1.1 0 1 0 -2.2 0M1094.7 267.7a1.1 1.1 0 1 0 2.2 0a1.1 1.1 0 1 0 -2.2 0M1100.1 256a1.1 1.1 0 1 0 2.2 0a1.1 1.1 0 1 0 -2.2 0M1105.6 246a1.1 1.1 0 1 0 2.2 0a1.1 1.1 0 1 0 -2.2 0M1111 235a1.1 1.1 0 1 0 2.2 0a1.1 1.1 0 1 0 -2.2 0M1116.5 226a1.1 1.1 0 1 0 2.2 0a1.1 1.1 0 1 0 -2.2 0M1122 217a1.1 1.1 0 1 0 2.2 0a1.1 1.1 0 1 0 -2.2 0M1127.4 210.7a1.1 1.1 0 1 0 2.2 0a1.1 1.1 0 1 0 -2.2 0M1132.9 205.4a1.1 1.1 0 1 0 2.2 0a1.1 1.1 0 1 0 -2.2 0M1138.3 200.9a1.1 1.1 0 1 0 2.2 0a1.1 1.1 0 1 0 -2.2 0M1143.8 197.1a1.1 1.1 0 1 0 2.2 0a1.1 1.1 0 1 0 -2.2 0M1149.3 193.7a1.1 1.1 0 1 0 2.2 0a1.1 1.1 0 1 0 -2.2 0M1154.7 190.4a1.1 1.1 0 1 0 2.2 0a1.1 1.1 0 1 0 -2.2 0M1160.2 187.3a1.1 1.1 0 1 0 2.2 0a1.1 1.1 0 1 0 -2.2 0M1165.6 184.8a1.1 1.1 0 1 0 2.2 0a1.1 1.1 0 1 0 -2.2 0M1171.1 183.1a1.1 1.1 0 1 0 2.2 0a1.1 1.1 0 1 0 -2.2 0M1176.6 182.5a1.1 1.1 0 1 0 2.2 0a1.1 1.1 0 1 0 -2.2 0M1182 182.7a1.1 1.1 0 1 0 2.2 0a1.1 1.1 0 1 0 -2.2 0M1187.5 183.3a1.1 1.1 0 1 0 2.2 0a1.1 1.1 0 1 0 -2.2 0M1192.9 184.2a1.1 1.1 0 1 0 2.2 0a1.1 1.1 0 1 0 -2.2 0M1198.4 185.2a1.1 1.1 0 1 0 2.2 0a1.1 1.1 0 1 0 -2.2 0M1203.9 187a1.1 1.1 0 1 0 2.2 0a1.1 1.1 0 1 0 -2.2 0M1209.3 189.8a1.1 1.1 0 1 0 2.2 0a1.1 1.1 0 1 0 -2.2 0M1214.8 193.2a1.1 1.1 0 1 0 2.2 0a1.1 1.1 0 1 0 -2.2 0M1220.2 196.8a1.1 1.1 0 1 0 2.2 0a1.1 1.1 0 1 0 -2.2 0M1225.7 200.7a1.1 1.1 0 1 0 2.2 0a1.1 1.1 0 1 0 -2.2 0M1231.2 205a1.1 1.1 0 1 0 2.2 0a1.1 1.1 0 1 0 -2.2 0M1236.6 209.7a1.1 1.1 0 1 0 2.2 0a1.1 1.1 0 1 0 -2.2 0M1242.1 214.6a1.1 1.1 0 1 0 2.2 0a1.1 1.1 0 1 0 -2.2 0M1247.5 219.8a1.1 1.1 0 1 0 2.2 0a1.1 1.1 0 1 0 -2.2 0M1253 225.3a1.1 1.1 0 1 0 2.2 0a1.1 1.1 0 1 0 -2.2 0M1258.5 230.8a1.1 1.1 0 1 0 2.2 0a1.1 1.1 0 1 0 -2.2 0M1263.9 236.5a1.1 1.1 0 1 0 2.2 0a1.1 1.1 0 1 0 -2.2 0M1269.4 242.3a1.1 1.1 0 1 0 2.2 0a1.1 1.1 0 1 0 -2.2 0M1274.8 248.2a1.1 1.1 0 1 0 2.2 0a1.1 1.1 0 1 0 -2.2 0M1280.3 254.3a1.1 1.1 0 1 0 2.2 0a1.1 1.1 0 1 0 -2.2 0M1285.8 260.7a1.1 1.1 0 1 0 2.2 0a1.1 1.1 0 1 0 -2.2 0M1291.2 267.1a1.1 1.1 0 1 0 2.2 0a1.1 1.1 0 1 0 -2.2 0M1296.7 273.6a1.1 1.1 0 1 0 2.2 0a1.1 1.1 0 1 0 -2.2 0M1302.1 280.3a1.1 1.1 0 1 0 2.2 0a1.1 1.1 0 1 0 -2.2 0M1307.6 287.1a1.1 1.1 0 1 0 2.2 0a1.1 1.1 0 1 0 -2.2 0M1313.1 294.1a1.1 1.1 0 1 0 2.2 0a1.1 1.1 0 1 0 -2.2 0M1318.5 301a1.1 1.1 0 1 0 2.2 0a1.1 1.1 0 1 0 -2.2 0M1324 307.8a1.1 1.1 0 1 0 2.2 0a1.1 1.1 0 1 0 -2.2 0M1329.4 314.6a1.1 1.1 0 1 0 2.2 0a1.1 1.1 0 1 0 -2.2 0M1334.9 321.5a1.1 1.1 0 1 0 2.2 0a1.1 1.1 0 1 0 -2.2 0M1340.4 328.3a1.1 1.1 0 1 0 2.2 0a1.1 1.1 0 1 0 -2.2 0M1345.8 335.1a1.1 1.1 0 1 0 2.2 0a1.1 1.1 0 1 0 -2.2 0M1351.3 341.8a1.1 1.1 0 1 0 2.2 0a1.1 1.1 0 1 0 -2.2 0M1356.7 348.5a1.1 1.1 0 1 0 2.2 0a1.1 1.1 0 1 0 -2.2 0M1362.2 355.1a1.1 1.1 0 1 0 2.2 0a1.1 1.1 0 1 0 -2.2 0M1367.7 361.6a1.1 1.1 0 1 0 2.2 0a1.1 1.1 0 1 0 -2.2 0M1373.1 368a1.1 1.1 0 1 0 2.2 0a1.1 1.1 0 1 0 -2.2 0M1378.6 374.3a1.1 1.1 0 1 0 2.2 0a1.1 1.1 0 1 0 -2.2 0M1384 380.5a1.1 1.1 0 1 0 2.2 0a1.1 1.1 0 1 0 -2.2 0M1389.5 386.7a1.1 1.1 0 1 0 2.2 0a1.1 1.1 0 1 0 -2.2 0M1395 392.7a1.1 1.1 0 1 0 2.2 0a1.1 1.1 0 1 0 -2.2 0M1400.4 398.7a1.1 1.1 0 1 0 2.2 0a1.1 1.1 0 1 0 -2.2 0M1405.9 404.7a1.1 1.1 0 1 0 2.2 0a1.1 1.1 0 1 0 -2.2 0M1411.3 410.6a1.1 1.1 0 1 0 2.2 0a1.1 1.1 0 1 0 -2.2 0M1416.8 416.4a1.1 1.1 0 1 0 2.2 0a1.1 1.1 0 1 0 -2.2 0M1422.3 422.2a1.1 1.1 0 1 0 2.2 0a1.1 1.1 0 1 0 -2.2 0M1427.7 427.9a1.1 1.1 0 1 0 2.2 0a1.1 1.1 0 1 0 -2.2 0M1433.2 433.6a1.1 1.1 0 1 0 2.2 0a1.1 1.1 0 1 0 -2.2 0M1438.6 439.2a1.1 1.1 0 1 0 2.2 0a1.1 1.1 0 1 0 -2.2 0M1444.1 444.8a1.1 1.1 0 1 0 2.2 0a1.1 1.1 0 1 0 -2.2 0M1449.6 450.4a1.1 1.1 0 1 0 2.2 0a1.1 1.1 0 1 0 -2.2 0M1455 455.9a1.1 1.1 0 1 0 2.2 0a1.1 1.1 0 1 0 -2.2 0M1460.5 461.4a1.1 1.1 0 1 0 2.2 0a1.1 1.1 0 1 0 -2.2 0M1465.9 466.9a1.1 1.1 0 1 0 2.2 0a1.1 1.1 0 1 0 -2.2 0M1471.4 472.3a1.1 1.1 0 1 0 2.2 0a1.1 1.1 0 1 0 -2.2 0M1476.9 477.5a1.1 1.1 0 1 0 2.2 0a1.1 1.1 0 1 0 -2.2 0M1482.3 482.6a1.1 1.1 0 1 0 2.2 0a1.1 1.1 0 1 0 -2.2 0M1487.8 487.4a1.1 1.1 0 1 0 2.2 0a1.1 1.1 0 1 0 -2.2 0M1493.2 492a1.1 1.1 0 1 0 2.2 0a1.1 1.1 0 1 0 -2.2 0M1498.7 496.5a1.1 1.1 0 1 0 2.2 0a1.1 1.1 0 1 0 -2.2 0M1504.2 500.9a1.1 1.1 0 1 0 2.2 0a1.1 1.1 0 1 0 -2.2 0M1509.6 505.1a1.1 1.1 0 1 0 2.2 0a1.1 1.1 0 1 0 -2.2 0M1515.1 509.3a1.1 1.1 0 1 0 2.2 0a1.1 1.1 0 1 0 -2.2 0M1520.5 513.4a1.1 1.1 0 1 0 2.2 0a1.1 1.1 0 1 0 -2.2 0M1526 517.4a1.1 1.1 0 1 0 2.2 0a1.1 1.1 0 1 0 -2.2 0M1531.5 521.4a1.1 1.1 0 1 0 2.2 0a1.1 1.1 0 1 0 -2.2 0M1536.9 525.2a1.1 1.1 0 1 0 2.2 0a1.1 1.1 0 1 0 -2.2 0M1542.4 529a1.1 1.1 0 1 0 2.2 0a1.1 1.1 0 1 0 -2.2 0M1547.8 532.8a1.1 1.1 0 1 0 2.2 0a1.1 1.1 0 1 0 -2.2 0M1553.3 536.5a1.1 1.1 0 1 0 2.2 0a1.1 1.1 0 1 0 -2.2 0M1558.8 540.2a1.1 1.1 0 1 0 2.2 0a1.1 1.1 0 1 0 -2.2 0M1564.2 544a1.1 1.1 0 1 0 2.2 0a1.1 1.1 0 1 0 -2.2 0M1569.7 547.7a1.1 1.1 0 1 0 2.2 0a1.1 1.1 0 1 0 -2.2 0M1575.1 551.4a1.1 1.1 0 1 0 2.2 0a1.1 1.1 0 1 0 -2.2 0M1580.6 554.9a1.1 1.1 0 1 0 2.2 0a1.1 1.1 0 1 0 -2.2 0M1586.1 558.2a1.1 1.1 0 1 0 2.2 0a1.1 1.1 0 1 0 -2.2 0M1591.5 561.2a1.1 1.1 0 1 0 2.2 0a1.1 1.1 0 1 0 -2.2 0M1597 564a1.1 1.1 0 1 0 2.2 0a1.1 1.1 0 1 0 -2.2 0M1602.4 566.5a1.1 1.1 0 1 0 2.2 0a1.1 1.1 0 1 0 -2.2 0M1607.9 569a1.1 1.1 0 1 0 2.2 0a1.1 1.1 0 1 0 -2.2 0M1613.4 571.3a1.1 1.1 0 1 0 2.2 0a1.1 1.1 0 1 0 -2.2 0M1618.8 573.6a1.1 1.1 0 1 0 2.2 0a1.1 1.1 0 1 0 -2.2 0M1624.3 575.9a1.1 1.1 0 1 0 2.2 0a1.1 1.1 0 1 0 -2.2 0M1629.7 578.2a1.1 1.1 0 1 0 2.2 0a1.1 1.1 0 1 0 -2.2 0M1635.2 580.5a1.1 1.1 0 1 0 2.2 0a1.1 1.1 0 1 0 -2.2 0M1640.7 582.7a1.1 1.1 0 1 0 2.2 0a1.1 1.1 0 1 0 -2.2 0M1646.1 584.9a1.1 1.1 0 1 0 2.2 0a1.1 1.1 0 1 0 -2.2 0M1651.6 587a1.1 1.1 0 1 0 2.2 0a1.1 1.1 0 1 0 -2.2 0M1657 589.1a1.1 1.1 0 1 0 2.2 0a1.1 1.1 0 1 0 -2.2 0M1662.5 591.2a1.1 1.1 0 1 0 2.2 0a1.1 1.1 0 1 0 -2.2 0M1668 593.2a1.1 1.1 0 1 0 2.2 0a1.1 1.1 0 1 0 -2.2 0M1673.4 595.2a1.1 1.1 0 1 0 2.2 0a1.1 1.1 0 1 0 -2.2 0M1678.9 597.1a1.1 1.1 0 1 0 2.2 0a1.1 1.1 0 1 0 -2.2 0M1684.3 599a1.1 1.1 0 1 0 2.2 0a1.1 1.1 0 1 0 -2.2 0M1689.8 600.8a1.1 1.1 0 1 0 2.2 0a1.1 1.1 0 1 0 -2.2 0M1695.3 602.6a1.1 1.1 0 1 0 2.2 0a1.1 1.1 0 1 0 -2.2 0M1700.7 604.4a1.1 1.1 0 1 0 2.2 0a1.1 1.1 0 1 0 -2.2 0M1706.2 606a1.1 1.1 0 1 0 2.2 0a1.1 1.1 0 1 0 -2.2 0M1711.6 607.7a1.1 1.1 0 1 0 2.2 0a1.1 1.1 0 1 0 -2.2 0M1717.1 609.3a1.1 1.1 0 1 0 2.2 0a1.1 1.1 0 1 0 -2.2 0M1722.6 610.8a1.1 1.1 0 1 0 2.2 0a1.1 1.1 0 1 0 -2.2 0M1728 612.4a1.1 1.1 0 1 0 2.2 0a1.1 1.1 0 1 0 -2.2 0M1733.5 614a1.1 1.1 0 1 0 2.2 0a1.1 1.1 0 1 0 -2.2 0M1738.9 615.6a1.1 1.1 0 1 0 2.2 0a1.1 1.1 0 1 0 -2.2 0M1744.4 617.3a1.1 1.1 0 1 0 2.2 0a1.1 1.1 0 1 0 -2.2 0M1749.9 618.9a1.1 1.1 0 1 0 2.2 0a1.1 1.1 0 1 0 -2.2 0M1755.3 620.4a1.1 1.1 0 1 0 2.2 0a1.1 1.1 0 1 0 -2.2 0M1760.8 621.8a1.1 1.1 0 1 0 2.2 0a1.1 1.1 0 1 0 -2.2 0M1766.2 623a1.1 1.1 0 1 0 2.2 0a1.1 1.1 0 1 0 -2.2 0M1771.7 624.1a1.1 1.1 0 1 0 2.2 0a1.1 1.1 0 1 0 -2.2 0M1777.2 625.1a1.1 1.1 0 1 0 2.2 0a1.1 1.1 0 1 0 -2.2 0M1782.6 626a1.1 1.1 0 1 0 2.2 0a1.1 1.1 0 1 0 -2.2 0M1788.1 626.9a1.1 1.1 0 1 0 2.2 0a1.1 1.1 0 1 0 -2.2 0M1793.5 627.8a1.1 1.1 0 1 0 2.2 0a1.1 1.1 0 1 0 -2.2 0M1799 628.6a1.1 1.1 0 1 0 2.2 0a1.1 1.1 0 1 0 -2.2 0M1804.5 629.4a1.1 1.1 0 1 0 2.2 0a1.1 1.1 0 1 0 -2.2 0M1809.9 630.3a1.1 1.1 0 1 0 2.2 0a1.1 1.1 0 1 0 -2.2 0"/>
<rect x="902.1" y="660.2" width="922.4" height="26.4" fill="#ff0000"/>
<path fill="none" stroke="#ffa500" stroke-width="0.7" d="M902.4 660.2V686.6M928.8 660.2V686.6M907.8 660.2V686.6M934.2 660.2V686.6M913.3 660.2V686.6M939.7 660.2V686.6M918.8 660.2V686.6M945.2 660.2V686.6M924.2 660.2V686.6M950.6 660.2V686.6M929.7 660.2V686.6M956.1 660.2V686.6M935.1 660.2V686.6M961.5 660.2V686.6M940.6 660.2V686.6M967 660.2V686.6M946.1 660.2V686.6M972.5 660.2V686.6M951.5 660.2V686.6M977.9 660.2V686.6M957 660.2V686.6M983.4 660.2V686.6M962.4 660.2V686.6M988.8 660.2V686.6M967.9 660.2V686.6M994.3 660.2V686.6M973.4 660.2V686.6M999.8 660.2V686.6M978.8 660.2V686.6M1005.2 660.2V686.6M984.3 660.2V686.6M1010.7 660.2V686.6M989.7 660.2V686.6M1016.1 660.2V686.6M995.2 660.2V686.6M1021.6 660.2V686.6M1000.7 660.2V686.6M1027.1 660.2V686.6M1006.1 660.2V686.6M1032.5 660.2V686.6M1011.6 660.2V686.6M1038 660.2V686.6M1017 660.2V686.6M1043.4 660.2V686.6M1022.5 660.2V686.6M1048.9 660.2V686.6M1028 660.2V686.6M1054.4 660.2V686.6M1033.4 660.2V686.6M1059.8 660.2V686.6M1038.9 660.2V686.6M1065.3 660.2V686.6M1044.3 660.2V686.6M1070.7 660.2V686.6M1049.8 660.2V686.6M1076.2 660.2V686.6M1055.3 660.2V686.6M1081.7 660.2V686.6M1060.7 660.2V686.6M1087.1 660.2V686.6M1066.2 660.2V686.6M1092.6 660.2V686.6M1071.6 660.2V686.6M1098 660.2V686.6M1077.1 660.2V686.6M1103.5 660.2V686.6M1082.6 660.2V686.6M1109 660.2V686.6M1088 660.2V686.6M1114.4 660.2V686.6M1093.5 660.2V686.6M1119.9 660.2V686.6M1098.9 660.2V686.6M1125.3 660.2V686.6M1104.4 660.2V686.6M1130.8 660.2V686.6M1109.9 660.2V686.6M1136.3 660.2V686.6M1115.3 660.2V686.6M1141.7 660.2V686.6M1120.8 660.2V686.6M1147.2 660.2V686.6M1126.2 660.2V686.6M1152.6 660.2V686.6M1131.7 660.2V686.6M1158.1 660.2V686.6M1137.2 660.2V686.6M1163.6 660.2V686.6M1142.6 660.2V686.6M1169 660.2V686.6M1148.1 660.2V686.6M1174.5 660.2V686.6M1153.5 660.2V686.6M1179.9 660.2V686.6M1159 660.2V686.6M1185.4 660.2V686.6M1164.5 660.2V686.6M1190.9 660.2V686.6M1169.9 660.2V686.6M1196.3 660.2V686.6M1175.4 660.2V686.6M1201.8 660.2V686.6M1180.8 660.2V686.6M1207.2 660.2V686.6M1186.3 660.2V686.6M1212.7 660.2V686.6M1191.8 660.2V686.6M1218.2 660.2V686.6M1197.2 660.2V686.6M1223.6 660.2V686.6M1202.7 660.2V686.6M1229.1 660.2V686.6M1208.1 660.2V686.6M1234.5 660.2V686.6M1213.6 660.2V686.6M1240 660.2V686.6M1219.1 660.2V686.6M1245.5 660.2V686.6M1224.5 660.2V686.6M1250.9 660.2V686.6M1230 660.2V686.6M1256.4 660.2V686.6M1235.4 660.2V686.6M1261.8 660.2V686.6M1240.9 660.2V686.6M1267.3 660.2V686.6M1246.4 660.2V686.6M1272.8 660.2V686.6M1251.8 660.2V686.6M1278.2 660.2V686.6M1257.3 660.2V686.6M1283.7 660.2V686.6M1262.7 660.2V686.6M1289.1 660.2V686.6M1268.2 660.2V686.6M1294.6 660.2V686.6M1273.7 660.2V686.6M1300.1 660.2V686.6M1279.1 660.2V686.6M1305.5 660.2V686.6M1284.6 660.2V686.6M1311 660.2V686.6M1290 660.2V686.6M1316.4 660.2V686.6M1295.5 660.2V686.6M1321.9 660.2V686.6M1301 660.2V686.6M1327.4 660.2V686.6M1306.4 660.2V686.6M1332.8 660.2V686.6M1311.9 660.2V686.6M1338.3 660.2V686.6M1317.3 660.2V686.6M1343.7 660.2V686.6M1322.8 660.2V686.6M1349.2 660.2V686.6M1328.3 660.2V686.6M1354.7 660.2V686.6M1333.7 660.2V686.6M1360.1 660.2V686.6M1339.2 660.2V686.6M1365.6 660.2V686.6M1344.6 660.2V686.6M1371 660.2V686.6M1350.1 660.2V686.6M1376.5 660.2V686.6M1355.6 660.2V686.6M1382 660.2V686.6M1361 660.2V686.6M1387.4 660.2V686.6M1366.5 660.2V686.6M1392.9 660.2V686.6M1371.9 660.2V686.6M1398.3 660.2V686.6M1377.4 660.2V686.6M1403.8 660.2V686.6M1382.9 660.2V686.6M1409.3 660.2V686.6M1388.3 660.2V686.6M1414.7 660.2V686.6M1393.8 660.2V686.6M1420.2 660.2V686.6M1399.2 660.2V686.6M1425.6 660.2V686.6M1404.7 660.2V686.6M1431.1 660.2V686.6M1410.2 660.2V686.6M1436.6 660.2V686.6M1415.6 660.2V686.6M1442 660.2V686.6M1421.1 660.2V686.6M1447.5 660.2V686.6M1426.5 660.2V686.6M1452.9 660.2V686.6M1432 660.2V686.6M1458.4 660.2V686.6M1437.5 660.2V686.6M1463.9 660.2V686.6M1442.9 660.2V686.6M1469.3 660.2V686.6M1448.4 660.2V686.6M1474.8 660.2V686.6M1453.8 660.2V686.6M1480.2 660.2V686.6M1459.3 660.2V686.6M1485.7 660.2V686.6M1464.8 660.2V686.6M1491.2 660.2V686.6M1470.2 660.2V686.6M1496.6 660.2V686.6M1475.7 660.2V686.6M1502.1 660.2V686.6M1481.1 660.2V686.6M1507.5 660.2V686.6M1486.6 660.2V686.6M1513 660.2V686.6M1492.1 660.2V686.6M1518.5 660.2V686.6M1497.5 660.2V686.6M1523.9 660.2V686.6M1503 660.2V686.6M1529.4 660.2V686.6M1508.4 660.2V686.6M1534.8 660.2V686.6M1513.9 660.2V686.6M1540.3 660.2V686.6M1519.4 660.2V686.6M1545.8 660.2V686.6M1524.8 660.2V686.6M1551.2 660.2V686.6M1530.3 660.2V686.6M1556.7 660.2V686.6M1535.7 660.2V686.6M1562.1 660.2V686.6M1541.2 660.2V686.6M1567.6 660.2V686.6M1546.7 660.2V686.6M1573.1 660.2V686.6M1552.1 660.2V686.6M1578.5 660.2V686.6M1557.6 660.2V686.6M1584 660.2V686.6M1563 660.2V686.6M1589.4 660.2V686.6M1568.5 660.2V686.6M1594.9 660.2V686.6M1574 660.2V686.6M1600.4 660.2V686.6M1579.4 660.2V686.6M1605.8 660.2V686.6M1584.9 660.2V686.6M1611.3 660.2V686.6M1590.3 660.2V686.6M1616.7 660.2V686.6M1595.8 660.2V686.6M1622.2 660.2V686.6M1601.3 660.2V686.6M1627.7 660.2V686.6M1606.7 660.2V686.6M1633.1 660.2V686.6M1612.2 660.2V686.6M1638.6 660.2V686.6M1617.6 660.2V686.6M1644 660.2V686.6M1623.1 660.2V686.6M1649.5 660.2V686.6M1628.6 660.2V686.6M1655 660.2V686.6M1634 660.2V686.6M1660.4 660.2V686.6M1639.5 660.2V686.6M1665.9 660.2V686.6M1644.9 660.2V686.6M1671.3 660.2V686.6M1650.4 660.2V686.6M1676.8 660.2V686.6M1655.9 660.2V686.6M1682.3 660.2V686.6M1661.3 660.2V686.6M1687.7 660.2V686.6M1666.8 660.2V686.6M1693.2 660.2V686.6M1672.2 660.2V686.6M1698.6 660.2V686.6M1677.7 660.2V686.6M1704.1 660.2V686.6M1683.2 660.2V686.6M1709.6 660.2V686.6M1688.6 660.2V686.6M1715 660.2V686.6M1694.1 660.2V686.6M1720.5 660.2V686.6M1699.5 660.2V686.6M1725.9 660.2V686.6M1705 660.2V686.6M1731.4 660.2V686.6M1710.5 660.2V686.6M1736.9 660.2V686.6M1715.9 660.2V686.6M1742.3 660.2V686.6M1721.4 660.2V686.6M1747.8 660.2V686.6M1726.8 660.2V686.6M1753.2 660.2V686.6M1732.3 660.2V686.6M1758.7 660.2V686.6M1737.8 660.2V686.6M1764.2 660.2V686.6M1743.2 660.2V686.6M1769.6 660.2V686.6M1748.7 660.2V686.6M1775.1 660.2V686.6M1754.1 660.2V686.6M1780.5 660.2V686.6M1759.6 660.2V686.6M1786 660.2V686.6M1765.1 660.2V686.6M1791.5 660.2V686.6M1770.5 660.2V686.6M1796.9 660.2V686.6M1776 660.2V686.6M1802.4 660.2V686.6M1781.4 660.2V686.6M1807.8 660.2V686.6M1786.9 660.2V686.6M1813.3 660.2V686.6M1792.4 660.2V686.6M1818.8 660.2V686.6M1797.8 660.2V686.6M1824.2 660.2V686.6"/>
<path fill="none" stroke="#ffffff" stroke-width="0.9" stroke-dasharray="1.6 1.4" d="M918.3 662.2V684.6M923.7 662.2V684.6M929.2 662.2V684.6M934.7 662.2V684.6M940.1 662.2V684.6M945.6 662.2V684.6M951 662.2V684.6M956.5 662.2V684.6M962 662.2V684.6M967.4 662.2V684.6M972.9 662.2V684.6M978.3 662.2V684.6M983.8 662.2V684.6M989.3 662.2V684.6M994.7 662.2V684.6M1000.2 662.2V684.6M1005.6 662.2V684.6M1011.1 662.2V684.6M1016.6 662.2V684.6M1022 662.2V684.6M1027.5 662.2V684.6M1032.9 662.2V684.6M1038.4 662.2V684.6M1043.9 662.2V684.6M1049.3 662.2V684.6M1054.8 662.2V684.6M1060.2 662.2V684.6M1065.7 662.2V684.6M1071.2 662.2V684.6M1076.6 662.2V684.6M1082.1 662.2V684.6M1087.5 662.2V684.6M1093 662.2V684.6M1098.5 662.2V684.6M1103.9 662.2V684.6M1109.4 662.2V684.6M1114.8 662.2V684.6M1120.3 662.2V684.6M1125.8 662.2V684.6M1131.2 662.2V684.6M1136.7 662.2V684.6M1142.1 662.2V684.6M1147.6 662.2V684.6M1153.1 662.2V684.6M1158.5 662.2V684.6M1164 662.2V684.6M1169.4 662.2V684.6M1174.9 662.2V684.6M1180.4 662.2V684.6M1185.8 662.2V684.6M1191.3 662.2V684.6M1196.7 662.2V684.6M1202.2 662.2V684.6M1207.7 662.2V684.6M1213.1 662.2V684.6M1218.6 662.2V684.6M1224 662.2V684.6M1229.5 662.2V684.6M1235 662.2V684.6M1240.4 662.2V684.6M1245.9 662.2V684.6M1251.3 662.2V684.6M1256.8 662.2V684.6M1262.3 662.2V684.6M1267.7 662.2V684.6M1273.2 662.2V684.6M1278.6 662.2V684.6M1284.1 662.2V684.6M1289.6 662.2V684.6M1295 662.2V684.6M1300.5 662.2V684.6M1305.9 662.2V684.6M1311.4 662.2V684.6M1316.9 662.2V684.6M1322.3 662.2V684.6M1327.8 662.2V684.6M1333.2 662.2V684.6M1338.7 662.2V684.6M1344.2 662.2V684.6M1349.6 662.2V684.6M1355.1 662.2V684.6M1360.5 662.2V684.6M1366 662.2V684.6M1371.5 662.2V684.6M1376.9 662.2V684.6M1382.4 662.2V684.6M1387.8 662.2V684.6M1393.3 662.2V684.6M1398.8 662.2V684.6M1404.2 662.2V684.6M1409.7 662.2V684.6M1415.1 662.2V684.6M1420.6 662.2V684.6M1426.1 662.2V684.6M1431.5 662.2V684.6M1437 662.2V684.6M1442.4 662.2V684.6M1447.9 662.2V684.6M1453.4 662.2V684.6M1458.8 662.2V684.6M1464.3 662.2V684.6M1469.7 662.2V684.6M1475.2 662.2V684.6M1480.7 662.2V684.6M1486.1 662.2V684.6M1491.6 662.2V684.6M1497 662.2V684.6M1502.5 662.2V684.6M1508 662.2V684.6M1513.4 662.2V684.6M1518.9 662.2V684.6M1524.3 662.2V684.6M1529.8 662.2V684.6M1535.3 662.2V684.6M1540.7 662.2V684.6M1546.2 662.2V684.6M1551.6 662.2V684.6M1557.1 662.2V684.6M1562.6 662.2V684.6M1568 662.2V684.6M1573.5 662.2V684.6M1578.9 662.2V684.6M1584.4 662.2V684.6M1589.9 662.2V684.6M1595.3 662.2V684.6M1600.8 662.2V684.6M1606.2 662.2V684.6M1611.7 662.2V684.6M1617.2 662.2V684.6M1622.6 662.2V684.6M1628.1 662.2V684.6M1633.5 662.2V684.6M1639 662.2V684.6M1644.5 662.2V684.6M1649.9 662.2V684.6M1655.4 662.2V684.6M1660.8 662.2V684.6M1666.3 662.2V684.6M1671.8 662.2V684.6M1677.2 662.2V684.6M1682.7 662.2V684.6M1688.1 662.2V684.6M1693.6 662.2V684.6M1699.1 662.2V684.6M1704.5 662.2V684.6M1710 662.2V684.6M1715.4 662.2V684.6M1720.9 662.2V684.6M1726.4 662.2V684.6M1731.8 662.2V684.6M1737.3 662.2V684.6M1742.7 662.2V684.6M1748.2 662.2V684.6M1753.7 662.2V684.6M1759.1 662.2V684.6M1764.6 662.2V684.6M1770 662.2V684.6M1775.5 662.2V684.6M1781 662.2V684.6M1786.4 662.2V684.6M1791.9 662.2V684.6M1797.3 662.2V684.6M1802.8 662.2V684.6M1808.3 662.2V684.6M1813.7 662.2V684.6"/>
<rect x="902.6" y="660.7" width="921.4" height="25.4" fill="none" stroke="#ffa500" stroke-width="1.0"/>
<rect x="902.8" y="661.2" width="6.8" height="24.4" fill="#fff"/>
<rect x="1817" y="661.2" width="6.8" height="24.4" fill="#fff"/>
<path fill="none" stroke="#ff0000" stroke-width="2.0" d="M915.6 673.4L903.3 661.4M915.6 673.4L903.3 685.4M915.6 673.4L903.3 673.4M1811 673.4L1823.3 661.4M1811 673.4L1823.3 685.4M1811 673.4L1823.3 673.4"/>
<path fill="none" stroke="#ffa500" stroke-width="1.0" d="M902.7 660.2V686.6M1823.9 660.2V686.6"/>
<rect x="912.7" y="73.0" width="901.3999999999999" height="637.9" fill="none" stroke="#000" stroke-width="6.2"/>
<path fill="none" stroke="#bebebe" stroke-width="2.8" stroke-linejoin="bevel" d="M356.0 341.1L472.4 453.1M430.2 430.3L472.4 453.1L448.3 412.2M356.3 819.7L536.8 1015.5M494.1 988.8L536.8 1015.5L513.5 971.0M1554.5 204.9L1362.9 298.4M1401.0 265.4L1362.9 298.4L1412.5 288.7M1554.3 392.1L1227.2 635.6M1258.0 597.0L1227.2 635.6L1273.9 617.5"/>
<g fill="#000">
<text x="233.3" y="1171.3" font-family="Liberation Serif, serif" font-size="71" text-anchor="end">0</text>
<text x="232.5" y="983.2" font-family="Liberation Serif, serif" font-size="71" text-anchor="end">0.5</text>
<text x="233.1" y="608.3" font-family="Liberation Serif, serif" font-size="71" text-anchor="end">1.5</text>
<text x="233" y="232.9" font-family="Liberation Serif, serif" font-size="71" text-anchor="end">2.5</text>
<text x="285.6" y="1275.5" font-family="Liberation Serif, serif" font-size="71" text-anchor="middle"><tspan dy="5.5" stroke="#000" stroke-width="1.1">−</tspan><tspan dy="-5.5">2</tspan></text>
<text x="551.3" y="1276.2" font-family="Liberation Serif, serif" font-size="71" text-anchor="middle">0</text>
<text x="809.2" y="1276.5" font-family="Liberation Serif, serif" font-size="71" text-anchor="middle">2</text>
<text x="1067.9" y="1276.5" font-family="Liberation Serif, serif" font-size="71" text-anchor="middle">4</text>
<text x="1324.7" y="1276.5" font-family="Liberation Serif, serif" font-size="71" text-anchor="middle">6</text>
<text x="1583.1" y="1276.5" font-family="Liberation Serif, serif" font-size="71" text-anchor="middle">8</text>
<text x="1839.9" y="1276.5" font-family="Liberation Serif, serif" font-size="71" text-anchor="middle">10</text>
<text x="892.7" y="695.5" font-family="Liberation Serif, serif" font-size="71" text-anchor="end">0</text>
<text x="893.6" y="508.6" font-family="Liberation Serif, serif" font-size="71" text-anchor="end">0.5</text>
<text x="892.8" y="322.7" font-family="Liberation Serif, serif" font-size="71" text-anchor="end">1.0</text>
<text x="893.9" y="133.5" font-family="Liberation Serif, serif" font-size="71" text-anchor="end">1.5</text>
<text x="953.4" y="781.6" font-family="Liberation Serif, serif" font-size="71" text-anchor="middle">0</text>
<text x="1224.2" y="781.5" font-family="Liberation Serif, serif" font-size="71" text-anchor="middle">5</text>
<text x="1499.8" y="781.5" font-family="Liberation Serif, serif" font-size="71" text-anchor="middle">10</text>
<text x="1772.2" y="781.5" font-family="Liberation Serif, serif" font-size="71" text-anchor="middle">15</text>
<text x="972.2" y="1379.4" font-family="Liberation Serif, serif" font-size="71" font-style="italic">B</text>
<text x="1054" y="1380.6" font-family="Liberation Serif, serif" font-size="71">[T]</text>
<text x="1270.5" y="846.4" font-family="Liberation Serif, serif" font-size="68" font-style="italic">B</text>
<text x="1313.7" y="867.1" font-family="Liberation Serif, serif" font-size="46">z</text>
<text x="1368.6" y="848.4" font-family="Liberation Serif, serif" font-size="68">[T]</text>
<text transform="translate(73.3 832) rotate(-90)" font-family="DejaVu Serif, serif" font-size="78" font-style="italic">χ</text>
<text transform="translate(96.8 789.6) rotate(-90)" font-family="Liberation Serif, serif" font-size="49">m</text>
<text transform="translate(75.2 711.5) rotate(-90)" font-family="Liberation Serif, serif" font-size="80">[emu/mol]</text>
<text transform="translate(766.5 686.6) rotate(-90)" font-family="DejaVu Serif, serif" font-size="66" font-style="italic">χ</text>
<text transform="translate(788.1 651.2) rotate(-90)" font-family="Liberation Serif, serif" font-size="48">m</text>
<text transform="translate(733 650.6) rotate(-90)" font-family="Liberation Serif, serif" font-size="46">z</text>
<text transform="translate(768 596.8) rotate(-90)" font-family="Liberation Sans, sans-serif" font-size="69">x</text>
<text transform="translate(767.6 542.2) rotate(-90)" font-family="Liberation Serif, serif" font-size="70">10</text>
<text transform="translate(731.6 475) rotate(-90)" font-family="Liberation Serif, serif" font-size="55">−2</text>
<text transform="translate(768.2 382.7) rotate(-90)" font-family="Liberation Serif, serif" font-size="68">[emu/mol]</text>
<text x="301.4" y="327.4" font-family="Liberation Serif, serif" font-size="71">0.5 K</text>
<text x="301.9" y="794.9" font-family="Liberation Serif, serif" font-size="71">5 K</text>
<text x="1524.5" y="190.7" font-family="Liberation Serif, serif" font-size="71">5 K</text>
<text x="1524.6" y="377" font-family="Liberation Serif, serif" font-size="71">0.5 K</text>
<text x="755.8" y="1009" font-family="Liberation Serif, serif" font-size="71">OC</text>
<text x="990.9" y="1008.5" font-family="Liberation Serif, serif" font-size="71">TRb</text>
<text x="1269.5" y="1002.4" font-family="Liberation Serif, serif" font-size="71">SQp</text>
<text x="1552.8" y="1002.6" font-family="Liberation Serif, serif" font-size="71">TH</text>
</g>
<g fill="none" stroke-width="2">
<circle cx="921.5" cy="985.4" r="15.2" stroke="#0000ff"/>
<path d="M1182.9 970.1v30.6M1167.6 985.4h30.6" stroke="#0000ff"/>
<rect x="1444.8" y="966.0" width="25.8" height="25.6" stroke="#ff0000" stroke-width="2.9"/>
<rect x="1696.2" y="966.2" width="25.4" height="25.4" stroke="#ffa500" stroke-width="2.3"/>
</g>
<circle cx="921.5" cy="985.4" r="1.2" fill="#0000ff"/>
<circle cx="1457.7" cy="978.5" r="1.4" fill="#ff0000"/>
<circle cx="1708.9" cy="979" r="1.2" fill="#ffa500"/>
</svg>
</body></html>
